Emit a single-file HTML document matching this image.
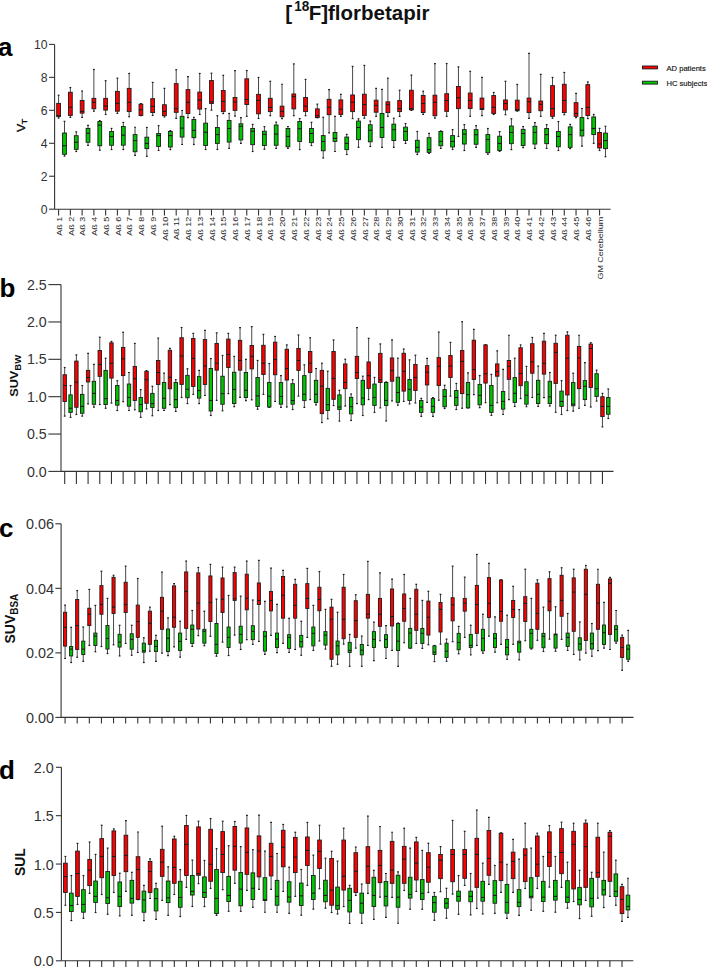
<!DOCTYPE html>
<html><head><meta charset="utf-8"><style>
html,body{margin:0;padding:0;background:#fff;}
body{width:707px;height:967px;overflow:hidden;}
svg{display:block;}
text{font-family:"Liberation Sans",sans-serif;}
.ax{stroke:#333333;stroke-width:1.1;}
.w{stroke:#333333;stroke-width:0.9;}
.cap{stroke:#1a1a1a;stroke-width:1.2;}
.bx{stroke:#1a1a1a;stroke-width:0.9;}
.md{stroke:#1a1a1a;stroke-width:1.1;}
.tl{fill:#333333;}
.xl{fill:#1e1e1e;}
.pl{font-weight:bold;fill:#000;}
.yl{font-weight:bold;fill:#111;}
</style></head><body>
<svg width="707" height="967" viewBox="0 0 707 967">
<text x="285.3" y="20.3" font-size="20.5" font-weight="bold" fill="#111">[</text>
<text transform="translate(294.2,11) scale(1,1.13)" font-size="13.6" font-weight="bold" fill="#111">18</text>
<text x="308.7" y="20.3" font-size="20.5" font-weight="bold" fill="#111">F]florbetapir</text>
<text x="-1.9" y="56" font-size="26" class="pl">a</text>
<text x="-0.4" y="296.6" font-size="26" class="pl">b</text>
<text x="-1" y="537.2" font-size="26" class="pl">c</text>
<text x="-1" y="778.5" font-size="26" class="pl">d</text>
<text transform="translate(24.8,125.4) rotate(-90) scale(1,0.88)" font-size="12.3" text-anchor="middle" fill="#111" stroke="#111" stroke-width="0.4">V<tspan font-size="9" dy="2.8" dx="-0.6">T</tspan></text>
<text transform="translate(18.4,375.8) rotate(-90) scale(1.06,0.92)" font-size="12" text-anchor="middle" class="yl">SUV<tspan font-size="9" dy="3">BW</tspan></text>
<text transform="translate(15.3,618.6) rotate(-90)" font-size="14" text-anchor="middle" class="yl">SUV<tspan font-size="10" dy="3">BSA</tspan></text>
<text transform="translate(24.9,862.2) rotate(-90) scale(0.95,1)" font-size="14.6" text-anchor="middle" class="yl">SUL</text>
<rect x="642.5" y="66" width="15" height="2.9" fill="#ff0000" stroke="#1a1a1a" stroke-width="0.9"/>
<rect x="642.5" y="81.2" width="15" height="2.9" fill="#00c800" stroke="#1a1a1a" stroke-width="0.9"/>
<text x="666.5" y="70.6" font-size="7.6" fill="#111" stroke="#111" stroke-width="0.15">AD patients</text>
<text x="666.5" y="85.6" font-size="7.6" fill="#111" stroke="#111" stroke-width="0.15">HC subjects</text>
<line x1="54.6" y1="44.4" x2="54.6" y2="209.2" class="ax"/>
<line x1="54.6" y1="209.2" x2="610.6" y2="209.2" class="ax"/>
<line x1="49.1" y1="44.4" x2="54.6" y2="44.4" class="ax"/>
<text transform="translate(47.6,49.1) scale(1,1.07)" font-size="12.2" text-anchor="end" class="tl">10</text>
<line x1="49.1" y1="77.36" x2="54.6" y2="77.36" class="ax"/>
<text transform="translate(47.6,82.06) scale(1,1.07)" font-size="12.2" text-anchor="end" class="tl">8</text>
<line x1="49.1" y1="110.32" x2="54.6" y2="110.32" class="ax"/>
<text transform="translate(47.6,115.02) scale(1,1.07)" font-size="12.2" text-anchor="end" class="tl">6</text>
<line x1="49.1" y1="143.28" x2="54.6" y2="143.28" class="ax"/>
<text transform="translate(47.6,147.98) scale(1,1.07)" font-size="12.2" text-anchor="end" class="tl">4</text>
<line x1="49.1" y1="176.24" x2="54.6" y2="176.24" class="ax"/>
<text transform="translate(47.6,180.94) scale(1,1.07)" font-size="12.2" text-anchor="end" class="tl">2</text>
<line x1="49.1" y1="209.2" x2="54.6" y2="209.2" class="ax"/>
<text transform="translate(47.6,213.9) scale(1,1.07)" font-size="12.2" text-anchor="end" class="tl">0</text>
<line x1="58.6" y1="209.2" x2="58.6" y2="215.5" class="ax"/>
<text transform="translate(61.8,216.7) rotate(-90) scale(1,0.86)" font-size="9" text-anchor="end" class="xl">Aß 1</text>
<line x1="70.36" y1="209.2" x2="70.36" y2="215.5" class="ax"/>
<text transform="translate(73.56,216.7) rotate(-90) scale(1,0.86)" font-size="9" text-anchor="end" class="xl">Aß 2</text>
<line x1="82.12" y1="209.2" x2="82.12" y2="215.5" class="ax"/>
<text transform="translate(85.32,216.7) rotate(-90) scale(1,0.86)" font-size="9" text-anchor="end" class="xl">Aß 3</text>
<line x1="93.88" y1="209.2" x2="93.88" y2="215.5" class="ax"/>
<text transform="translate(97.08,216.7) rotate(-90) scale(1,0.86)" font-size="9" text-anchor="end" class="xl">Aß 4</text>
<line x1="105.64" y1="209.2" x2="105.64" y2="215.5" class="ax"/>
<text transform="translate(108.84,216.7) rotate(-90) scale(1,0.86)" font-size="9" text-anchor="end" class="xl">Aß 5</text>
<line x1="117.4" y1="209.2" x2="117.4" y2="215.5" class="ax"/>
<text transform="translate(120.6,216.7) rotate(-90) scale(1,0.86)" font-size="9" text-anchor="end" class="xl">Aß 6</text>
<line x1="129.16" y1="209.2" x2="129.16" y2="215.5" class="ax"/>
<text transform="translate(132.36,216.7) rotate(-90) scale(1,0.86)" font-size="9" text-anchor="end" class="xl">Aß 7</text>
<line x1="140.92" y1="209.2" x2="140.92" y2="215.5" class="ax"/>
<text transform="translate(144.12,216.7) rotate(-90) scale(1,0.86)" font-size="9" text-anchor="end" class="xl">Aß 8</text>
<line x1="152.68" y1="209.2" x2="152.68" y2="215.5" class="ax"/>
<text transform="translate(155.88,216.7) rotate(-90) scale(1,0.86)" font-size="9" text-anchor="end" class="xl">Aß 9</text>
<line x1="164.44" y1="209.2" x2="164.44" y2="215.5" class="ax"/>
<text transform="translate(167.64,216.7) rotate(-90) scale(1,0.86)" font-size="9" text-anchor="end" class="xl">Aß 10</text>
<line x1="176.2" y1="209.2" x2="176.2" y2="215.5" class="ax"/>
<text transform="translate(179.4,216.7) rotate(-90) scale(1,0.86)" font-size="9" text-anchor="end" class="xl">Aß 11</text>
<line x1="187.96" y1="209.2" x2="187.96" y2="215.5" class="ax"/>
<text transform="translate(191.16,216.7) rotate(-90) scale(1,0.86)" font-size="9" text-anchor="end" class="xl">Aß 12</text>
<line x1="199.72" y1="209.2" x2="199.72" y2="215.5" class="ax"/>
<text transform="translate(202.92,216.7) rotate(-90) scale(1,0.86)" font-size="9" text-anchor="end" class="xl">Aß 13</text>
<line x1="211.48" y1="209.2" x2="211.48" y2="215.5" class="ax"/>
<text transform="translate(214.68,216.7) rotate(-90) scale(1,0.86)" font-size="9" text-anchor="end" class="xl">Aß 14</text>
<line x1="223.24" y1="209.2" x2="223.24" y2="215.5" class="ax"/>
<text transform="translate(226.44,216.7) rotate(-90) scale(1,0.86)" font-size="9" text-anchor="end" class="xl">Aß 15</text>
<line x1="235" y1="209.2" x2="235" y2="215.5" class="ax"/>
<text transform="translate(238.2,216.7) rotate(-90) scale(1,0.86)" font-size="9" text-anchor="end" class="xl">Aß 16</text>
<line x1="246.76" y1="209.2" x2="246.76" y2="215.5" class="ax"/>
<text transform="translate(249.96,216.7) rotate(-90) scale(1,0.86)" font-size="9" text-anchor="end" class="xl">Aß 17</text>
<line x1="258.52" y1="209.2" x2="258.52" y2="215.5" class="ax"/>
<text transform="translate(261.72,216.7) rotate(-90) scale(1,0.86)" font-size="9" text-anchor="end" class="xl">Aß 18</text>
<line x1="270.28" y1="209.2" x2="270.28" y2="215.5" class="ax"/>
<text transform="translate(273.48,216.7) rotate(-90) scale(1,0.86)" font-size="9" text-anchor="end" class="xl">Aß 19</text>
<line x1="282.04" y1="209.2" x2="282.04" y2="215.5" class="ax"/>
<text transform="translate(285.24,216.7) rotate(-90) scale(1,0.86)" font-size="9" text-anchor="end" class="xl">Aß 20</text>
<line x1="293.8" y1="209.2" x2="293.8" y2="215.5" class="ax"/>
<text transform="translate(297,216.7) rotate(-90) scale(1,0.86)" font-size="9" text-anchor="end" class="xl">Aß 21</text>
<line x1="305.56" y1="209.2" x2="305.56" y2="215.5" class="ax"/>
<text transform="translate(308.76,216.7) rotate(-90) scale(1,0.86)" font-size="9" text-anchor="end" class="xl">Aß 22</text>
<line x1="317.32" y1="209.2" x2="317.32" y2="215.5" class="ax"/>
<text transform="translate(320.52,216.7) rotate(-90) scale(1,0.86)" font-size="9" text-anchor="end" class="xl">Aß 23</text>
<line x1="329.08" y1="209.2" x2="329.08" y2="215.5" class="ax"/>
<text transform="translate(332.28,216.7) rotate(-90) scale(1,0.86)" font-size="9" text-anchor="end" class="xl">Aß 24</text>
<line x1="340.84" y1="209.2" x2="340.84" y2="215.5" class="ax"/>
<text transform="translate(344.04,216.7) rotate(-90) scale(1,0.86)" font-size="9" text-anchor="end" class="xl">Aß 25</text>
<line x1="352.6" y1="209.2" x2="352.6" y2="215.5" class="ax"/>
<text transform="translate(355.8,216.7) rotate(-90) scale(1,0.86)" font-size="9" text-anchor="end" class="xl">Aß 26</text>
<line x1="364.36" y1="209.2" x2="364.36" y2="215.5" class="ax"/>
<text transform="translate(367.56,216.7) rotate(-90) scale(1,0.86)" font-size="9" text-anchor="end" class="xl">Aß 27</text>
<line x1="376.12" y1="209.2" x2="376.12" y2="215.5" class="ax"/>
<text transform="translate(379.32,216.7) rotate(-90) scale(1,0.86)" font-size="9" text-anchor="end" class="xl">Aß 28</text>
<line x1="387.88" y1="209.2" x2="387.88" y2="215.5" class="ax"/>
<text transform="translate(391.08,216.7) rotate(-90) scale(1,0.86)" font-size="9" text-anchor="end" class="xl">Aß 29</text>
<line x1="399.64" y1="209.2" x2="399.64" y2="215.5" class="ax"/>
<text transform="translate(402.84,216.7) rotate(-90) scale(1,0.86)" font-size="9" text-anchor="end" class="xl">Aß 30</text>
<line x1="411.4" y1="209.2" x2="411.4" y2="215.5" class="ax"/>
<text transform="translate(414.6,216.7) rotate(-90) scale(1,0.86)" font-size="9" text-anchor="end" class="xl">Aß 31</text>
<line x1="423.16" y1="209.2" x2="423.16" y2="215.5" class="ax"/>
<text transform="translate(426.36,216.7) rotate(-90) scale(1,0.86)" font-size="9" text-anchor="end" class="xl">Aß 32</text>
<line x1="434.92" y1="209.2" x2="434.92" y2="215.5" class="ax"/>
<text transform="translate(438.12,216.7) rotate(-90) scale(1,0.86)" font-size="9" text-anchor="end" class="xl">Aß 33</text>
<line x1="446.68" y1="209.2" x2="446.68" y2="215.5" class="ax"/>
<text transform="translate(449.88,216.7) rotate(-90) scale(1,0.86)" font-size="9" text-anchor="end" class="xl">Aß 34</text>
<line x1="458.44" y1="209.2" x2="458.44" y2="215.5" class="ax"/>
<text transform="translate(461.64,216.7) rotate(-90) scale(1,0.86)" font-size="9" text-anchor="end" class="xl">Aß 35</text>
<line x1="470.2" y1="209.2" x2="470.2" y2="215.5" class="ax"/>
<text transform="translate(473.4,216.7) rotate(-90) scale(1,0.86)" font-size="9" text-anchor="end" class="xl">Aß 36</text>
<line x1="481.96" y1="209.2" x2="481.96" y2="215.5" class="ax"/>
<text transform="translate(485.16,216.7) rotate(-90) scale(1,0.86)" font-size="9" text-anchor="end" class="xl">Aß 37</text>
<line x1="493.72" y1="209.2" x2="493.72" y2="215.5" class="ax"/>
<text transform="translate(496.92,216.7) rotate(-90) scale(1,0.86)" font-size="9" text-anchor="end" class="xl">Aß 38</text>
<line x1="505.48" y1="209.2" x2="505.48" y2="215.5" class="ax"/>
<text transform="translate(508.68,216.7) rotate(-90) scale(1,0.86)" font-size="9" text-anchor="end" class="xl">Aß 39</text>
<line x1="517.24" y1="209.2" x2="517.24" y2="215.5" class="ax"/>
<text transform="translate(520.44,216.7) rotate(-90) scale(1,0.86)" font-size="9" text-anchor="end" class="xl">Aß 40</text>
<line x1="529" y1="209.2" x2="529" y2="215.5" class="ax"/>
<text transform="translate(532.2,216.7) rotate(-90) scale(1,0.86)" font-size="9" text-anchor="end" class="xl">Aß 41</text>
<line x1="540.76" y1="209.2" x2="540.76" y2="215.5" class="ax"/>
<text transform="translate(543.96,216.7) rotate(-90) scale(1,0.86)" font-size="9" text-anchor="end" class="xl">Aß 42</text>
<line x1="552.52" y1="209.2" x2="552.52" y2="215.5" class="ax"/>
<text transform="translate(555.72,216.7) rotate(-90) scale(1,0.86)" font-size="9" text-anchor="end" class="xl">Aß 43</text>
<line x1="564.28" y1="209.2" x2="564.28" y2="215.5" class="ax"/>
<text transform="translate(567.48,216.7) rotate(-90) scale(1,0.86)" font-size="9" text-anchor="end" class="xl">Aß 44</text>
<line x1="576.04" y1="209.2" x2="576.04" y2="215.5" class="ax"/>
<text transform="translate(579.24,216.7) rotate(-90) scale(1,0.86)" font-size="9" text-anchor="end" class="xl">Aß 45</text>
<line x1="587.8" y1="209.2" x2="587.8" y2="215.5" class="ax"/>
<text transform="translate(591,216.7) rotate(-90) scale(1,0.86)" font-size="9" text-anchor="end" class="xl">Aß 46</text>
<line x1="599.56" y1="209.2" x2="599.56" y2="215.5" class="ax"/>
<text transform="translate(602.76,216.7) rotate(-90) scale(1,0.86)" font-size="9" text-anchor="end" class="xl">GM Cerebellum</text>
<line x1="58.6" y1="95.19" x2="58.6" y2="103.36" class="w"/><line x1="58.6" y1="116.64" x2="58.6" y2="118.06" class="w"/><line x1="57.7" y1="95.19" x2="59.5" y2="95.19" class="cap"/><line x1="57.7" y1="118.06" x2="59.5" y2="118.06" class="cap"/><rect x="56.7" y="103.36" width="3.8" height="13.29" fill="#ff0000" class="bx"/><line x1="56.7" y1="115.56" x2="60.5" y2="115.56" class="md"/>
<line x1="64.5" y1="121.33" x2="64.5" y2="132.98" class="w"/><line x1="64.5" y1="154.34" x2="64.5" y2="156.08" class="w"/><line x1="63.6" y1="121.33" x2="65.4" y2="121.33" class="cap"/><line x1="63.6" y1="156.08" x2="65.4" y2="156.08" class="cap"/><rect x="62.6" y="132.98" width="3.8" height="21.35" fill="#00c800" class="bx"/><line x1="62.6" y1="145.73" x2="66.4" y2="145.73" class="md"/>
<line x1="70.36" y1="87.56" x2="70.36" y2="92.24" class="w"/><line x1="70.36" y1="115.56" x2="70.36" y2="117.41" class="w"/><line x1="69.46" y1="87.56" x2="71.26" y2="87.56" class="cap"/><line x1="69.46" y1="117.41" x2="71.26" y2="117.41" class="cap"/><rect x="68.46" y="92.24" width="3.8" height="23.31" fill="#ff0000" class="bx"/><line x1="68.46" y1="107.28" x2="72.26" y2="107.28" class="md"/>
<line x1="76.26" y1="131.9" x2="76.26" y2="135.71" class="w"/><line x1="76.26" y1="149.32" x2="76.26" y2="151.5" class="w"/><line x1="75.36" y1="131.9" x2="77.16" y2="131.9" class="cap"/><line x1="75.36" y1="151.5" x2="77.16" y2="151.5" class="cap"/><rect x="74.36" y="135.71" width="3.8" height="13.62" fill="#00c800" class="bx"/><line x1="74.36" y1="142.24" x2="78.16" y2="142.24" class="md"/>
<line x1="82.12" y1="91.05" x2="82.12" y2="100.52" class="w"/><line x1="82.12" y1="113.16" x2="82.12" y2="117.41" class="w"/><line x1="81.22" y1="91.05" x2="83.02" y2="91.05" class="cap"/><line x1="81.22" y1="117.41" x2="83.02" y2="117.41" class="cap"/><rect x="80.22" y="100.52" width="3.8" height="12.64" fill="#ff0000" class="bx"/><line x1="80.22" y1="111.42" x2="84.02" y2="111.42" class="md"/>
<line x1="88.02" y1="125.36" x2="88.02" y2="128.41" class="w"/><line x1="88.02" y1="142.24" x2="88.02" y2="145.29" class="w"/><line x1="87.12" y1="125.36" x2="88.92" y2="125.36" class="cap"/><line x1="87.12" y1="145.29" x2="88.92" y2="145.29" class="cap"/><rect x="86.12" y="128.41" width="3.8" height="13.83" fill="#00c800" class="bx"/><line x1="86.12" y1="133.2" x2="89.92" y2="133.2" class="md"/>
<line x1="93.88" y1="69.48" x2="93.88" y2="98.34" class="w"/><line x1="93.88" y1="108.8" x2="93.88" y2="111.2" class="w"/><line x1="92.98" y1="69.48" x2="94.78" y2="69.48" class="cap"/><line x1="92.98" y1="111.2" x2="94.78" y2="111.2" class="cap"/><rect x="91.98" y="98.34" width="3.8" height="10.46" fill="#ff0000" class="bx"/><line x1="91.98" y1="102.27" x2="95.78" y2="102.27" class="md"/>
<line x1="99.78" y1="120.68" x2="99.78" y2="121.55" class="w"/><line x1="99.78" y1="145.73" x2="99.78" y2="150.2" class="w"/><line x1="98.88" y1="120.68" x2="100.68" y2="120.68" class="cap"/><line x1="98.88" y1="150.2" x2="100.68" y2="150.2" class="cap"/><rect x="97.88" y="121.55" width="3.8" height="24.18" fill="#00c800" class="bx"/><line x1="97.88" y1="125.14" x2="101.68" y2="125.14" class="md"/>
<line x1="105.64" y1="80.7" x2="105.64" y2="98.34" class="w"/><line x1="105.64" y1="110.11" x2="105.64" y2="114.47" class="w"/><line x1="104.74" y1="80.7" x2="106.54" y2="80.7" class="cap"/><line x1="104.74" y1="114.47" x2="106.54" y2="114.47" class="cap"/><rect x="103.74" y="98.34" width="3.8" height="11.76" fill="#ff0000" class="bx"/><line x1="103.74" y1="106.08" x2="107.54" y2="106.08" class="md"/>
<line x1="111.54" y1="128.41" x2="111.54" y2="131.46" class="w"/><line x1="111.54" y1="145.29" x2="111.54" y2="149.54" class="w"/><line x1="110.64" y1="128.41" x2="112.44" y2="128.41" class="cap"/><line x1="110.64" y1="149.54" x2="112.44" y2="149.54" class="cap"/><rect x="109.64" y="131.46" width="3.8" height="13.83" fill="#00c800" class="bx"/><line x1="109.64" y1="136.58" x2="113.44" y2="136.58" class="md"/>
<line x1="117.4" y1="78.19" x2="117.4" y2="91.37" class="w"/><line x1="117.4" y1="111.2" x2="117.4" y2="113.38" class="w"/><line x1="116.5" y1="78.19" x2="118.3" y2="78.19" class="cap"/><line x1="116.5" y1="113.38" x2="118.3" y2="113.38" class="cap"/><rect x="115.5" y="91.37" width="3.8" height="19.83" fill="#ff0000" class="bx"/><line x1="115.5" y1="103.36" x2="119.3" y2="103.36" class="md"/>
<line x1="123.3" y1="122.42" x2="123.3" y2="126.45" class="w"/><line x1="123.3" y1="145.19" x2="123.3" y2="149.54" class="w"/><line x1="122.4" y1="122.42" x2="124.2" y2="122.42" class="cap"/><line x1="122.4" y1="149.54" x2="124.2" y2="149.54" class="cap"/><rect x="121.4" y="126.45" width="3.8" height="18.74" fill="#00c800" class="bx"/><line x1="121.4" y1="135.16" x2="125.2" y2="135.16" class="md"/>
<line x1="129.16" y1="73.47" x2="129.16" y2="88.37" class="w"/><line x1="129.16" y1="111.6" x2="129.16" y2="116.7" class="w"/><line x1="128.26" y1="73.47" x2="130.06" y2="73.47" class="cap"/><line x1="128.26" y1="116.7" x2="130.06" y2="116.7" class="cap"/><rect x="127.26" y="88.37" width="3.8" height="23.23" fill="#ff0000" class="bx"/><line x1="127.26" y1="102.29" x2="131.06" y2="102.29" class="md"/>
<line x1="135.06" y1="127.25" x2="135.06" y2="134.58" class="w"/><line x1="135.06" y1="151.73" x2="135.06" y2="155.45" class="w"/><line x1="134.16" y1="127.25" x2="135.96" y2="127.25" class="cap"/><line x1="134.16" y1="155.45" x2="135.96" y2="155.45" class="cap"/><rect x="133.16" y="134.58" width="3.8" height="17.14" fill="#00c800" class="bx"/><line x1="133.16" y1="140.55" x2="136.96" y2="140.55" class="md"/>
<line x1="140.92" y1="103.53" x2="140.92" y2="104.15" class="w"/><line x1="140.92" y1="115.45" x2="140.92" y2="115.7" class="w"/><line x1="140.02" y1="103.53" x2="141.82" y2="103.53" class="cap"/><line x1="140.02" y1="115.7" x2="141.82" y2="115.7" class="cap"/><rect x="139.02" y="104.15" width="3.8" height="11.3" fill="#ff0000" class="bx"/><line x1="139.02" y1="109.74" x2="142.82" y2="109.74" class="md"/>
<line x1="146.82" y1="127.5" x2="146.82" y2="137.19" class="w"/><line x1="146.82" y1="148.62" x2="146.82" y2="156.32" class="w"/><line x1="145.92" y1="127.5" x2="147.72" y2="127.5" class="cap"/><line x1="145.92" y1="156.32" x2="147.72" y2="156.32" class="cap"/><rect x="144.92" y="137.19" width="3.8" height="11.43" fill="#00c800" class="bx"/><line x1="144.92" y1="143.4" x2="148.72" y2="143.4" class="md"/>
<line x1="152.68" y1="82.41" x2="152.68" y2="98.68" class="w"/><line x1="152.68" y1="112.6" x2="152.68" y2="115.45" class="w"/><line x1="151.78" y1="82.41" x2="153.58" y2="82.41" class="cap"/><line x1="151.78" y1="115.45" x2="153.58" y2="115.45" class="cap"/><rect x="150.78" y="98.68" width="3.8" height="13.91" fill="#ff0000" class="bx"/><line x1="150.78" y1="106.39" x2="154.58" y2="106.39" class="md"/>
<line x1="158.58" y1="125.64" x2="158.58" y2="133.47" class="w"/><line x1="158.58" y1="146.51" x2="158.58" y2="150.48" class="w"/><line x1="157.68" y1="125.64" x2="159.48" y2="125.64" class="cap"/><line x1="157.68" y1="150.48" x2="159.48" y2="150.48" class="cap"/><rect x="156.68" y="133.47" width="3.8" height="13.04" fill="#00c800" class="bx"/><line x1="156.68" y1="135.58" x2="160.48" y2="135.58" class="md"/>
<line x1="164.44" y1="88.37" x2="164.44" y2="104.77" class="w"/><line x1="164.44" y1="115.7" x2="164.44" y2="116.94" class="w"/><line x1="163.54" y1="88.37" x2="165.34" y2="88.37" class="cap"/><line x1="163.54" y1="116.94" x2="165.34" y2="116.94" class="cap"/><rect x="162.54" y="104.77" width="3.8" height="10.93" fill="#ff0000" class="bx"/><line x1="162.54" y1="111.35" x2="166.34" y2="111.35" class="md"/>
<line x1="170.34" y1="130.61" x2="170.34" y2="131.48" class="w"/><line x1="170.34" y1="147.01" x2="170.34" y2="149.61" class="w"/><line x1="169.44" y1="130.61" x2="171.24" y2="130.61" class="cap"/><line x1="169.44" y1="149.61" x2="171.24" y2="149.61" class="cap"/><rect x="168.44" y="131.48" width="3.8" height="15.53" fill="#00c800" class="bx"/><line x1="168.44" y1="135.58" x2="172.24" y2="135.58" class="md"/>
<line x1="176.2" y1="69.74" x2="176.2" y2="83.65" class="w"/><line x1="176.2" y1="112.35" x2="176.2" y2="118.43" class="w"/><line x1="175.3" y1="69.74" x2="177.1" y2="69.74" class="cap"/><line x1="175.3" y1="118.43" x2="177.1" y2="118.43" class="cap"/><rect x="174.3" y="83.65" width="3.8" height="28.7" fill="#ff0000" class="bx"/><line x1="174.3" y1="108.62" x2="178.1" y2="108.62" class="md"/>
<line x1="182.1" y1="110.48" x2="182.1" y2="116.32" class="w"/><line x1="182.1" y1="137.07" x2="182.1" y2="144.52" class="w"/><line x1="181.2" y1="110.48" x2="183" y2="110.48" class="cap"/><line x1="181.2" y1="144.52" x2="183" y2="144.52" class="cap"/><rect x="180.2" y="116.32" width="3.8" height="20.75" fill="#00c800" class="bx"/><line x1="180.2" y1="128.12" x2="184" y2="128.12" class="md"/>
<line x1="187.96" y1="76.57" x2="187.96" y2="89.61" class="w"/><line x1="187.96" y1="113.47" x2="187.96" y2="117.57" class="w"/><line x1="187.06" y1="76.57" x2="188.86" y2="76.57" class="cap"/><line x1="187.06" y1="117.57" x2="188.86" y2="117.57" class="cap"/><rect x="186.06" y="89.61" width="3.8" height="23.85" fill="#ff0000" class="bx"/><line x1="186.06" y1="102.29" x2="189.86" y2="102.29" class="md"/>
<line x1="193.86" y1="117.32" x2="193.86" y2="119.43" class="w"/><line x1="193.86" y1="137.69" x2="193.86" y2="144.52" class="w"/><line x1="192.96" y1="117.32" x2="194.76" y2="117.32" class="cap"/><line x1="192.96" y1="144.52" x2="194.76" y2="144.52" class="cap"/><rect x="191.96" y="119.43" width="3.8" height="18.26" fill="#00c800" class="bx"/><line x1="191.96" y1="130.36" x2="195.76" y2="130.36" class="md"/>
<line x1="199.72" y1="73.47" x2="199.72" y2="92.1" class="w"/><line x1="199.72" y1="109.12" x2="199.72" y2="114.46" class="w"/><line x1="198.82" y1="73.47" x2="200.62" y2="73.47" class="cap"/><line x1="198.82" y1="114.46" x2="200.62" y2="114.46" class="cap"/><rect x="197.82" y="92.1" width="3.8" height="17.02" fill="#ff0000" class="bx"/><line x1="197.82" y1="100.17" x2="201.62" y2="100.17" class="md"/>
<line x1="205.62" y1="108.62" x2="205.62" y2="123.16" class="w"/><line x1="205.62" y1="145.52" x2="205.62" y2="149.49" class="w"/><line x1="204.72" y1="108.62" x2="206.52" y2="108.62" class="cap"/><line x1="204.72" y1="149.49" x2="206.52" y2="149.49" class="cap"/><rect x="203.72" y="123.16" width="3.8" height="22.36" fill="#00c800" class="bx"/><line x1="203.72" y1="132.22" x2="207.52" y2="132.22" class="md"/>
<line x1="211.48" y1="73.22" x2="211.48" y2="80.55" class="w"/><line x1="211.48" y1="103.53" x2="211.48" y2="110.11" class="w"/><line x1="210.58" y1="73.22" x2="212.38" y2="73.22" class="cap"/><line x1="210.58" y1="110.11" x2="212.38" y2="110.11" class="cap"/><rect x="209.58" y="80.55" width="3.8" height="22.98" fill="#ff0000" class="bx"/><line x1="209.58" y1="101.79" x2="213.38" y2="101.79" class="md"/>
<line x1="217.38" y1="115.7" x2="217.38" y2="127.5" class="w"/><line x1="217.38" y1="143.4" x2="217.38" y2="149.49" class="w"/><line x1="216.48" y1="115.7" x2="218.28" y2="115.7" class="cap"/><line x1="216.48" y1="149.49" x2="218.28" y2="149.49" class="cap"/><rect x="215.48" y="127.5" width="3.8" height="15.9" fill="#00c800" class="bx"/><line x1="215.48" y1="134.58" x2="219.28" y2="134.58" class="md"/>
<line x1="223.24" y1="75.33" x2="223.24" y2="90.48" class="w"/><line x1="223.24" y1="111.6" x2="223.24" y2="113.59" class="w"/><line x1="222.34" y1="75.33" x2="224.14" y2="75.33" class="cap"/><line x1="222.34" y1="113.59" x2="224.14" y2="113.59" class="cap"/><rect x="221.34" y="90.48" width="3.8" height="21.12" fill="#ff0000" class="bx"/><line x1="221.34" y1="101.42" x2="225.14" y2="101.42" class="md"/>
<line x1="229.14" y1="113.47" x2="229.14" y2="120.42" class="w"/><line x1="229.14" y1="142.04" x2="229.14" y2="148.37" class="w"/><line x1="228.24" y1="113.47" x2="230.04" y2="113.47" class="cap"/><line x1="228.24" y1="148.37" x2="230.04" y2="148.37" class="cap"/><rect x="227.24" y="120.42" width="3.8" height="21.61" fill="#00c800" class="bx"/><line x1="227.24" y1="128.5" x2="231.04" y2="128.5" class="md"/>
<line x1="235" y1="70.61" x2="235" y2="97.44" class="w"/><line x1="235" y1="110.36" x2="235" y2="116.07" class="w"/><line x1="234.1" y1="70.61" x2="235.9" y2="70.61" class="cap"/><line x1="234.1" y1="116.07" x2="235.9" y2="116.07" class="cap"/><rect x="233.1" y="97.44" width="3.8" height="12.92" fill="#ff0000" class="bx"/><line x1="233.1" y1="102.04" x2="236.9" y2="102.04" class="md"/>
<line x1="240.9" y1="117.57" x2="240.9" y2="123.78" class="w"/><line x1="240.9" y1="139.93" x2="240.9" y2="143.4" class="w"/><line x1="240" y1="117.57" x2="241.8" y2="117.57" class="cap"/><line x1="240" y1="143.4" x2="241.8" y2="143.4" class="cap"/><rect x="239" y="123.78" width="3.8" height="16.15" fill="#00c800" class="bx"/><line x1="239" y1="126.26" x2="242.8" y2="126.26" class="md"/>
<line x1="246.76" y1="70.61" x2="246.76" y2="78.81" class="w"/><line x1="246.76" y1="104.52" x2="246.76" y2="116.32" class="w"/><line x1="245.86" y1="70.61" x2="247.66" y2="70.61" class="cap"/><line x1="245.86" y1="116.32" x2="247.66" y2="116.32" class="cap"/><rect x="244.86" y="78.81" width="3.8" height="25.71" fill="#ff0000" class="bx"/><line x1="244.86" y1="99.55" x2="248.66" y2="99.55" class="md"/>
<line x1="252.66" y1="124.4" x2="252.66" y2="128.5" class="w"/><line x1="252.66" y1="144.65" x2="252.66" y2="151.48" class="w"/><line x1="251.76" y1="124.4" x2="253.56" y2="124.4" class="cap"/><line x1="251.76" y1="151.48" x2="253.56" y2="151.48" class="cap"/><rect x="250.76" y="128.5" width="3.8" height="16.15" fill="#00c800" class="bx"/><line x1="250.76" y1="131.23" x2="254.56" y2="131.23" class="md"/>
<line x1="258.52" y1="77.44" x2="258.52" y2="94.34" class="w"/><line x1="258.52" y1="113.84" x2="258.52" y2="118.43" class="w"/><line x1="257.62" y1="77.44" x2="259.42" y2="77.44" class="cap"/><line x1="257.62" y1="118.43" x2="259.42" y2="118.43" class="cap"/><rect x="256.62" y="94.34" width="3.8" height="19.5" fill="#ff0000" class="bx"/><line x1="256.62" y1="100.42" x2="260.42" y2="100.42" class="md"/>
<line x1="264.42" y1="126.63" x2="264.42" y2="131.23" class="w"/><line x1="264.42" y1="145.52" x2="264.42" y2="149.24" class="w"/><line x1="263.52" y1="126.63" x2="265.32" y2="126.63" class="cap"/><line x1="263.52" y1="149.24" x2="265.32" y2="149.24" class="cap"/><rect x="262.52" y="131.23" width="3.8" height="14.29" fill="#00c800" class="bx"/><line x1="262.52" y1="134.34" x2="266.32" y2="134.34" class="md"/>
<line x1="270.28" y1="81.29" x2="270.28" y2="98.31" class="w"/><line x1="270.28" y1="111.6" x2="270.28" y2="115.7" class="w"/><line x1="269.38" y1="81.29" x2="271.18" y2="81.29" class="cap"/><line x1="269.38" y1="115.7" x2="271.18" y2="115.7" class="cap"/><rect x="268.38" y="98.31" width="3.8" height="13.29" fill="#ff0000" class="bx"/><line x1="268.38" y1="107.38" x2="272.18" y2="107.38" class="md"/>
<line x1="276.18" y1="122.16" x2="276.18" y2="125.02" class="w"/><line x1="276.18" y1="145.27" x2="276.18" y2="148.37" class="w"/><line x1="275.28" y1="122.16" x2="277.08" y2="122.16" class="cap"/><line x1="275.28" y1="148.37" x2="277.08" y2="148.37" class="cap"/><rect x="274.28" y="125.02" width="3.8" height="20.25" fill="#00c800" class="bx"/><line x1="274.28" y1="134.09" x2="278.08" y2="134.09" class="md"/>
<line x1="282.04" y1="84.27" x2="282.04" y2="106.14" class="w"/><line x1="282.04" y1="116.7" x2="282.04" y2="118.56" class="w"/><line x1="281.14" y1="84.27" x2="282.94" y2="84.27" class="cap"/><line x1="281.14" y1="118.56" x2="282.94" y2="118.56" class="cap"/><rect x="280.14" y="106.14" width="3.8" height="10.56" fill="#ff0000" class="bx"/><line x1="280.14" y1="111.35" x2="283.94" y2="111.35" class="md"/>
<line x1="287.94" y1="126.51" x2="287.94" y2="128.5" class="w"/><line x1="287.94" y1="146.76" x2="287.94" y2="148.37" class="w"/><line x1="287.04" y1="126.51" x2="288.84" y2="126.51" class="cap"/><line x1="287.04" y1="148.37" x2="288.84" y2="148.37" class="cap"/><rect x="286.04" y="128.5" width="3.8" height="18.26" fill="#00c800" class="bx"/><line x1="286.04" y1="136.45" x2="289.84" y2="136.45" class="md"/>
<line x1="293.8" y1="63.9" x2="293.8" y2="93.96" class="w"/><line x1="293.8" y1="108.87" x2="293.8" y2="115.7" class="w"/><line x1="292.9" y1="63.9" x2="294.7" y2="63.9" class="cap"/><line x1="292.9" y1="115.7" x2="294.7" y2="115.7" class="cap"/><rect x="291.9" y="93.96" width="3.8" height="14.91" fill="#ff0000" class="bx"/><line x1="291.9" y1="96.45" x2="295.7" y2="96.45" class="md"/>
<line x1="299.7" y1="118.56" x2="299.7" y2="121.54" class="w"/><line x1="299.7" y1="141.42" x2="299.7" y2="149.61" class="w"/><line x1="298.8" y1="118.56" x2="300.6" y2="118.56" class="cap"/><line x1="298.8" y1="149.61" x2="300.6" y2="149.61" class="cap"/><rect x="297.8" y="121.54" width="3.8" height="19.88" fill="#00c800" class="bx"/><line x1="297.8" y1="128.75" x2="301.6" y2="128.75" class="md"/>
<line x1="305.56" y1="79.43" x2="305.56" y2="97.44" class="w"/><line x1="305.56" y1="111.6" x2="305.56" y2="115.7" class="w"/><line x1="304.66" y1="79.43" x2="306.46" y2="79.43" class="cap"/><line x1="304.66" y1="115.7" x2="306.46" y2="115.7" class="cap"/><rect x="303.66" y="97.44" width="3.8" height="14.16" fill="#ff0000" class="bx"/><line x1="303.66" y1="106.14" x2="307.46" y2="106.14" class="md"/>
<line x1="311.46" y1="122.29" x2="311.46" y2="128.5" class="w"/><line x1="311.46" y1="142.66" x2="311.46" y2="145.52" class="w"/><line x1="310.56" y1="122.29" x2="312.36" y2="122.29" class="cap"/><line x1="310.56" y1="145.52" x2="312.36" y2="145.52" class="cap"/><rect x="309.56" y="128.5" width="3.8" height="14.16" fill="#00c800" class="bx"/><line x1="309.56" y1="133.47" x2="313.36" y2="133.47" class="md"/>
<line x1="317.32" y1="104.15" x2="317.32" y2="108.87" class="w"/><line x1="317.32" y1="117.57" x2="317.32" y2="117.81" class="w"/><line x1="316.42" y1="104.15" x2="318.22" y2="104.15" class="cap"/><line x1="316.42" y1="117.81" x2="318.22" y2="117.81" class="cap"/><rect x="315.42" y="108.87" width="3.8" height="8.7" fill="#ff0000" class="bx"/><line x1="315.42" y1="115.7" x2="319.22" y2="115.7" class="md"/>
<line x1="323.22" y1="117.32" x2="323.22" y2="135.58" class="w"/><line x1="323.22" y1="150.73" x2="323.22" y2="157.94" class="w"/><line x1="322.32" y1="117.32" x2="324.12" y2="117.32" class="cap"/><line x1="322.32" y1="157.94" x2="324.12" y2="157.94" class="cap"/><rect x="321.32" y="135.58" width="3.8" height="15.16" fill="#00c800" class="bx"/><line x1="321.32" y1="141.42" x2="325.12" y2="141.42" class="md"/>
<line x1="329.08" y1="89.61" x2="329.08" y2="99.3" class="w"/><line x1="329.08" y1="114.71" x2="329.08" y2="132.84" class="w"/><line x1="328.18" y1="89.61" x2="329.98" y2="89.61" class="cap"/><line x1="328.18" y1="132.84" x2="329.98" y2="132.84" class="cap"/><rect x="327.18" y="99.3" width="3.8" height="15.4" fill="#ff0000" class="bx"/><line x1="327.18" y1="107.38" x2="330.98" y2="107.38" class="md"/>
<line x1="334.98" y1="116.32" x2="334.98" y2="132.47" class="w"/><line x1="334.98" y1="141.42" x2="334.98" y2="151.48" class="w"/><line x1="334.08" y1="116.32" x2="335.88" y2="116.32" class="cap"/><line x1="334.08" y1="151.48" x2="335.88" y2="151.48" class="cap"/><rect x="333.08" y="132.47" width="3.8" height="8.94" fill="#00c800" class="bx"/><line x1="333.08" y1="138.43" x2="336.88" y2="138.43" class="md"/>
<line x1="340.84" y1="94.34" x2="340.84" y2="99.93" class="w"/><line x1="340.84" y1="114.46" x2="340.84" y2="116.32" class="w"/><line x1="339.94" y1="94.34" x2="341.74" y2="94.34" class="cap"/><line x1="339.94" y1="116.32" x2="341.74" y2="116.32" class="cap"/><rect x="338.94" y="99.93" width="3.8" height="14.53" fill="#ff0000" class="bx"/><line x1="338.94" y1="109.24" x2="342.74" y2="109.24" class="md"/>
<line x1="346.74" y1="134.34" x2="346.74" y2="137.07" class="w"/><line x1="346.74" y1="149.61" x2="346.74" y2="154.46" class="w"/><line x1="345.84" y1="134.34" x2="347.64" y2="134.34" class="cap"/><line x1="345.84" y1="154.46" x2="347.64" y2="154.46" class="cap"/><rect x="344.84" y="137.07" width="3.8" height="12.55" fill="#00c800" class="bx"/><line x1="344.84" y1="143.4" x2="348.64" y2="143.4" class="md"/>
<line x1="352.6" y1="66.39" x2="352.6" y2="94.96" class="w"/><line x1="352.6" y1="111.6" x2="352.6" y2="118.56" class="w"/><line x1="351.7" y1="66.39" x2="353.5" y2="66.39" class="cap"/><line x1="351.7" y1="118.56" x2="353.5" y2="118.56" class="cap"/><rect x="350.7" y="94.96" width="3.8" height="16.65" fill="#ff0000" class="bx"/><line x1="350.7" y1="102.29" x2="354.5" y2="102.29" class="md"/>
<line x1="358.5" y1="118.81" x2="358.5" y2="121.04" class="w"/><line x1="358.5" y1="139.68" x2="358.5" y2="147.38" class="w"/><line x1="357.6" y1="118.81" x2="359.4" y2="118.81" class="cap"/><line x1="357.6" y1="147.38" x2="359.4" y2="147.38" class="cap"/><rect x="356.6" y="121.04" width="3.8" height="18.63" fill="#00c800" class="bx"/><line x1="356.6" y1="127.5" x2="360.4" y2="127.5" class="md"/>
<line x1="364.36" y1="65.39" x2="364.36" y2="94.21" class="w"/><line x1="364.36" y1="115.45" x2="364.36" y2="118.19" class="w"/><line x1="363.46" y1="65.39" x2="365.26" y2="65.39" class="cap"/><line x1="363.46" y1="118.19" x2="365.26" y2="118.19" class="cap"/><rect x="362.46" y="94.21" width="3.8" height="21.24" fill="#ff0000" class="bx"/><line x1="362.46" y1="104.52" x2="366.26" y2="104.52" class="md"/>
<line x1="370.26" y1="121.04" x2="370.26" y2="124.77" class="w"/><line x1="370.26" y1="141.79" x2="370.26" y2="146.51" class="w"/><line x1="369.36" y1="121.04" x2="371.16" y2="121.04" class="cap"/><line x1="369.36" y1="146.51" x2="371.16" y2="146.51" class="cap"/><rect x="368.36" y="124.77" width="3.8" height="17.02" fill="#00c800" class="bx"/><line x1="368.36" y1="130.24" x2="372.16" y2="130.24" class="md"/>
<line x1="376.12" y1="88.37" x2="376.12" y2="100.17" class="w"/><line x1="376.12" y1="112.22" x2="376.12" y2="116.32" class="w"/><line x1="375.22" y1="88.37" x2="377.02" y2="88.37" class="cap"/><line x1="375.22" y1="116.32" x2="377.02" y2="116.32" class="cap"/><rect x="374.22" y="100.17" width="3.8" height="12.05" fill="#ff0000" class="bx"/><line x1="374.22" y1="105.39" x2="378.02" y2="105.39" class="md"/>
<line x1="382.02" y1="89.37" x2="382.02" y2="113.47" class="w"/><line x1="382.02" y1="137.44" x2="382.02" y2="147.38" class="w"/><line x1="381.12" y1="89.37" x2="382.92" y2="89.37" class="cap"/><line x1="381.12" y1="147.38" x2="382.92" y2="147.38" class="cap"/><rect x="380.12" y="113.47" width="3.8" height="23.98" fill="#00c800" class="bx"/><line x1="380.12" y1="127.5" x2="383.92" y2="127.5" class="md"/>
<line x1="387.88" y1="78.19" x2="387.88" y2="101.79" class="w"/><line x1="387.88" y1="112.6" x2="387.88" y2="116.32" class="w"/><line x1="386.98" y1="78.19" x2="388.78" y2="78.19" class="cap"/><line x1="386.98" y1="116.32" x2="388.78" y2="116.32" class="cap"/><rect x="385.98" y="101.79" width="3.8" height="10.81" fill="#ff0000" class="bx"/><line x1="385.98" y1="104.77" x2="389.78" y2="104.77" class="md"/>
<line x1="393.78" y1="118.19" x2="393.78" y2="124.15" class="w"/><line x1="393.78" y1="140.55" x2="393.78" y2="147.38" class="w"/><line x1="392.88" y1="118.19" x2="394.68" y2="118.19" class="cap"/><line x1="392.88" y1="147.38" x2="394.68" y2="147.38" class="cap"/><rect x="391.88" y="124.15" width="3.8" height="16.4" fill="#00c800" class="bx"/><line x1="391.88" y1="129.61" x2="395.68" y2="129.61" class="md"/>
<line x1="399.64" y1="90.24" x2="399.64" y2="100.55" class="w"/><line x1="399.64" y1="111.6" x2="399.64" y2="116.32" class="w"/><line x1="398.74" y1="90.24" x2="400.54" y2="90.24" class="cap"/><line x1="398.74" y1="116.32" x2="400.54" y2="116.32" class="cap"/><rect x="397.74" y="100.55" width="3.8" height="11.06" fill="#ff0000" class="bx"/><line x1="397.74" y1="108.62" x2="401.54" y2="108.62" class="md"/>
<line x1="405.54" y1="123.53" x2="405.54" y2="127.13" class="w"/><line x1="405.54" y1="140.55" x2="405.54" y2="143.4" class="w"/><line x1="404.64" y1="123.53" x2="406.44" y2="123.53" class="cap"/><line x1="404.64" y1="143.4" x2="406.44" y2="143.4" class="cap"/><rect x="403.64" y="127.13" width="3.8" height="13.42" fill="#00c800" class="bx"/><line x1="403.64" y1="131.48" x2="407.44" y2="131.48" class="md"/>
<line x1="411.4" y1="75.08" x2="411.4" y2="90.24" class="w"/><line x1="411.4" y1="109.86" x2="411.4" y2="110.36" class="w"/><line x1="410.5" y1="75.08" x2="412.3" y2="75.08" class="cap"/><line x1="410.5" y1="110.36" x2="412.3" y2="110.36" class="cap"/><rect x="409.5" y="90.24" width="3.8" height="19.63" fill="#ff0000" class="bx"/><line x1="409.5" y1="108.62" x2="413.3" y2="108.62" class="md"/>
<line x1="417.3" y1="131.48" x2="417.3" y2="140.3" class="w"/><line x1="417.3" y1="152.1" x2="417.3" y2="154.46" class="w"/><line x1="416.4" y1="131.48" x2="418.2" y2="131.48" class="cap"/><line x1="416.4" y1="154.46" x2="418.2" y2="154.46" class="cap"/><rect x="415.4" y="140.3" width="3.8" height="11.8" fill="#00c800" class="bx"/><line x1="415.4" y1="147.38" x2="419.2" y2="147.38" class="md"/>
<line x1="423.16" y1="91.23" x2="423.16" y2="95.45" class="w"/><line x1="423.16" y1="112.6" x2="423.16" y2="114.46" class="w"/><line x1="422.26" y1="91.23" x2="424.06" y2="91.23" class="cap"/><line x1="422.26" y1="114.46" x2="424.06" y2="114.46" class="cap"/><rect x="421.26" y="95.45" width="3.8" height="17.14" fill="#ff0000" class="bx"/><line x1="421.26" y1="103.53" x2="425.06" y2="103.53" class="md"/>
<line x1="429.06" y1="133.47" x2="429.06" y2="137.69" class="w"/><line x1="429.06" y1="152.35" x2="429.06" y2="153.34" class="w"/><line x1="428.16" y1="133.47" x2="429.96" y2="133.47" class="cap"/><line x1="428.16" y1="153.34" x2="429.96" y2="153.34" class="cap"/><rect x="427.16" y="137.69" width="3.8" height="14.66" fill="#00c800" class="bx"/><line x1="427.16" y1="149.61" x2="430.96" y2="149.61" class="md"/>
<line x1="434.92" y1="63.53" x2="434.92" y2="95.2" class="w"/><line x1="434.92" y1="115.7" x2="434.92" y2="118.19" class="w"/><line x1="434.02" y1="63.53" x2="435.82" y2="63.53" class="cap"/><line x1="434.02" y1="118.19" x2="435.82" y2="118.19" class="cap"/><rect x="433.02" y="95.2" width="3.8" height="20.5" fill="#ff0000" class="bx"/><line x1="433.02" y1="102.29" x2="436.82" y2="102.29" class="md"/>
<line x1="440.82" y1="130.98" x2="440.82" y2="131.48" class="w"/><line x1="440.82" y1="145.76" x2="440.82" y2="148.37" class="w"/><line x1="439.92" y1="130.98" x2="441.72" y2="130.98" class="cap"/><line x1="439.92" y1="148.37" x2="441.72" y2="148.37" class="cap"/><rect x="438.92" y="131.48" width="3.8" height="14.29" fill="#00c800" class="bx"/><line x1="438.92" y1="141.42" x2="442.72" y2="141.42" class="md"/>
<line x1="446.68" y1="63.53" x2="446.68" y2="93.71" class="w"/><line x1="446.68" y1="111.35" x2="446.68" y2="116.32" class="w"/><line x1="445.78" y1="63.53" x2="447.58" y2="63.53" class="cap"/><line x1="445.78" y1="116.32" x2="447.58" y2="116.32" class="cap"/><rect x="444.78" y="93.71" width="3.8" height="17.64" fill="#ff0000" class="bx"/><line x1="444.78" y1="100.42" x2="448.58" y2="100.42" class="md"/>
<line x1="452.58" y1="129.61" x2="452.58" y2="135.58" class="w"/><line x1="452.58" y1="147.01" x2="452.58" y2="149.49" class="w"/><line x1="451.68" y1="129.61" x2="453.48" y2="129.61" class="cap"/><line x1="451.68" y1="149.49" x2="453.48" y2="149.49" class="cap"/><rect x="450.68" y="135.58" width="3.8" height="11.43" fill="#00c800" class="bx"/><line x1="450.68" y1="141.42" x2="454.48" y2="141.42" class="md"/>
<line x1="458.44" y1="66.88" x2="458.44" y2="86.51" class="w"/><line x1="458.44" y1="108.62" x2="458.44" y2="136.45" class="w"/><line x1="457.54" y1="66.88" x2="459.34" y2="66.88" class="cap"/><line x1="457.54" y1="136.45" x2="459.34" y2="136.45" class="cap"/><rect x="456.54" y="86.51" width="3.8" height="22.11" fill="#ff0000" class="bx"/><line x1="456.54" y1="97.69" x2="460.34" y2="97.69" class="md"/>
<line x1="464.34" y1="124.65" x2="464.34" y2="129.61" class="w"/><line x1="464.34" y1="144.02" x2="464.34" y2="150.48" class="w"/><line x1="463.44" y1="124.65" x2="465.24" y2="124.65" class="cap"/><line x1="463.44" y1="150.48" x2="465.24" y2="150.48" class="cap"/><rect x="462.44" y="129.61" width="3.8" height="14.41" fill="#00c800" class="bx"/><line x1="462.44" y1="134.09" x2="466.24" y2="134.09" class="md"/>
<line x1="470.2" y1="71.35" x2="470.2" y2="93.09" class="w"/><line x1="470.2" y1="108.5" x2="470.2" y2="116.32" class="w"/><line x1="469.3" y1="71.35" x2="471.1" y2="71.35" class="cap"/><line x1="469.3" y1="116.32" x2="471.1" y2="116.32" class="cap"/><rect x="468.3" y="93.09" width="3.8" height="15.4" fill="#ff0000" class="bx"/><line x1="468.3" y1="100.42" x2="472.1" y2="100.42" class="md"/>
<line x1="476.1" y1="125.64" x2="476.1" y2="129.61" class="w"/><line x1="476.1" y1="144.27" x2="476.1" y2="147.38" class="w"/><line x1="475.2" y1="125.64" x2="477" y2="125.64" class="cap"/><line x1="475.2" y1="147.38" x2="477" y2="147.38" class="cap"/><rect x="474.2" y="129.61" width="3.8" height="14.66" fill="#00c800" class="bx"/><line x1="474.2" y1="134.71" x2="478" y2="134.71" class="md"/>
<line x1="481.96" y1="77.44" x2="481.96" y2="98.06" class="w"/><line x1="481.96" y1="109.49" x2="481.96" y2="115.7" class="w"/><line x1="481.06" y1="77.44" x2="482.86" y2="77.44" class="cap"/><line x1="481.06" y1="115.7" x2="482.86" y2="115.7" class="cap"/><rect x="480.06" y="98.06" width="3.8" height="11.43" fill="#ff0000" class="bx"/><line x1="480.06" y1="108.62" x2="483.86" y2="108.62" class="md"/>
<line x1="487.86" y1="128.5" x2="487.86" y2="134.58" class="w"/><line x1="487.86" y1="152.72" x2="487.86" y2="154.21" class="w"/><line x1="486.96" y1="128.5" x2="488.76" y2="128.5" class="cap"/><line x1="486.96" y1="154.21" x2="488.76" y2="154.21" class="cap"/><rect x="485.96" y="134.58" width="3.8" height="18.14" fill="#00c800" class="bx"/><line x1="485.96" y1="139.55" x2="489.76" y2="139.55" class="md"/>
<line x1="493.72" y1="92.47" x2="493.72" y2="95.58" class="w"/><line x1="493.72" y1="113.47" x2="493.72" y2="114.46" class="w"/><line x1="492.82" y1="92.47" x2="494.62" y2="92.47" class="cap"/><line x1="492.82" y1="114.46" x2="494.62" y2="114.46" class="cap"/><rect x="491.82" y="95.58" width="3.8" height="17.89" fill="#ff0000" class="bx"/><line x1="491.82" y1="107.38" x2="495.62" y2="107.38" class="md"/>
<line x1="499.62" y1="131.6" x2="499.62" y2="136.2" class="w"/><line x1="499.62" y1="150.48" x2="499.62" y2="151.35" class="w"/><line x1="498.72" y1="131.6" x2="500.52" y2="131.6" class="cap"/><line x1="498.72" y1="151.35" x2="500.52" y2="151.35" class="cap"/><rect x="497.72" y="136.2" width="3.8" height="14.29" fill="#00c800" class="bx"/><line x1="497.72" y1="143.4" x2="501.52" y2="143.4" class="md"/>
<line x1="505.48" y1="81.29" x2="505.48" y2="99.93" class="w"/><line x1="505.48" y1="109.86" x2="505.48" y2="114.71" class="w"/><line x1="504.58" y1="81.29" x2="506.38" y2="81.29" class="cap"/><line x1="504.58" y1="114.71" x2="506.38" y2="114.71" class="cap"/><rect x="503.58" y="99.93" width="3.8" height="9.94" fill="#ff0000" class="bx"/><line x1="503.58" y1="103.53" x2="507.38" y2="103.53" class="md"/>
<line x1="511.38" y1="118.81" x2="511.38" y2="126.01" class="w"/><line x1="511.38" y1="143.65" x2="511.38" y2="149.61" class="w"/><line x1="510.48" y1="118.81" x2="512.28" y2="118.81" class="cap"/><line x1="510.48" y1="149.61" x2="512.28" y2="149.61" class="cap"/><rect x="509.48" y="126.01" width="3.8" height="17.64" fill="#00c800" class="bx"/><line x1="509.48" y1="132.47" x2="513.28" y2="132.47" class="md"/>
<line x1="517.24" y1="84.4" x2="517.24" y2="100.17" class="w"/><line x1="517.24" y1="110.73" x2="517.24" y2="111.11" class="w"/><line x1="516.34" y1="84.4" x2="518.14" y2="84.4" class="cap"/><line x1="516.34" y1="111.11" x2="518.14" y2="111.11" class="cap"/><rect x="515.34" y="100.17" width="3.8" height="10.56" fill="#ff0000" class="bx"/><line x1="515.34" y1="109.49" x2="519.14" y2="109.49" class="md"/>
<line x1="523.14" y1="126.51" x2="523.14" y2="129.37" class="w"/><line x1="523.14" y1="145.52" x2="523.14" y2="147.63" class="w"/><line x1="522.24" y1="126.51" x2="524.04" y2="126.51" class="cap"/><line x1="522.24" y1="147.63" x2="524.04" y2="147.63" class="cap"/><rect x="521.24" y="129.37" width="3.8" height="16.15" fill="#00c800" class="bx"/><line x1="521.24" y1="133.47" x2="525.04" y2="133.47" class="md"/>
<line x1="529" y1="53.34" x2="529" y2="98.06" class="w"/><line x1="529" y1="112.6" x2="529" y2="118.43" class="w"/><line x1="528.1" y1="53.34" x2="529.9" y2="53.34" class="cap"/><line x1="528.1" y1="118.43" x2="529.9" y2="118.43" class="cap"/><rect x="527.1" y="98.06" width="3.8" height="14.53" fill="#ff0000" class="bx"/><line x1="527.1" y1="101.66" x2="530.9" y2="101.66" class="md"/>
<line x1="534.9" y1="122.53" x2="534.9" y2="126.26" class="w"/><line x1="534.9" y1="144.02" x2="534.9" y2="148.37" class="w"/><line x1="534" y1="122.53" x2="535.8" y2="122.53" class="cap"/><line x1="534" y1="148.37" x2="535.8" y2="148.37" class="cap"/><rect x="533" y="126.26" width="3.8" height="17.76" fill="#00c800" class="bx"/><line x1="533" y1="132.47" x2="536.8" y2="132.47" class="md"/>
<line x1="540.76" y1="74.34" x2="540.76" y2="101.04" class="w"/><line x1="540.76" y1="110.73" x2="540.76" y2="116.32" class="w"/><line x1="539.86" y1="74.34" x2="541.66" y2="74.34" class="cap"/><line x1="539.86" y1="116.32" x2="541.66" y2="116.32" class="cap"/><rect x="538.86" y="101.04" width="3.8" height="9.69" fill="#ff0000" class="bx"/><line x1="538.86" y1="104.27" x2="542.66" y2="104.27" class="md"/>
<line x1="546.66" y1="124.65" x2="546.66" y2="128.5" class="w"/><line x1="546.66" y1="143.65" x2="546.66" y2="148.37" class="w"/><line x1="545.76" y1="124.65" x2="547.56" y2="124.65" class="cap"/><line x1="545.76" y1="148.37" x2="547.56" y2="148.37" class="cap"/><rect x="544.76" y="128.5" width="3.8" height="15.16" fill="#00c800" class="bx"/><line x1="544.76" y1="134.58" x2="548.56" y2="134.58" class="md"/>
<line x1="552.52" y1="77.44" x2="552.52" y2="85.64" class="w"/><line x1="552.52" y1="116.32" x2="552.52" y2="118.19" class="w"/><line x1="551.62" y1="77.44" x2="553.42" y2="77.44" class="cap"/><line x1="551.62" y1="118.19" x2="553.42" y2="118.19" class="cap"/><rect x="550.62" y="85.64" width="3.8" height="30.68" fill="#ff0000" class="bx"/><line x1="550.62" y1="108.5" x2="554.42" y2="108.5" class="md"/>
<line x1="558.42" y1="121.54" x2="558.42" y2="131.48" class="w"/><line x1="558.42" y1="146.76" x2="558.42" y2="150.48" class="w"/><line x1="557.52" y1="121.54" x2="559.32" y2="121.54" class="cap"/><line x1="557.52" y1="150.48" x2="559.32" y2="150.48" class="cap"/><rect x="556.52" y="131.48" width="3.8" height="15.28" fill="#00c800" class="bx"/><line x1="556.52" y1="136.45" x2="560.32" y2="136.45" class="md"/>
<line x1="564.28" y1="72.47" x2="564.28" y2="84.27" class="w"/><line x1="564.28" y1="112.6" x2="564.28" y2="114.71" class="w"/><line x1="563.38" y1="72.47" x2="565.18" y2="72.47" class="cap"/><line x1="563.38" y1="114.71" x2="565.18" y2="114.71" class="cap"/><rect x="562.38" y="84.27" width="3.8" height="28.32" fill="#ff0000" class="bx"/><line x1="562.38" y1="100.42" x2="566.18" y2="100.42" class="md"/>
<line x1="570.18" y1="124.4" x2="570.18" y2="126.88" class="w"/><line x1="570.18" y1="147.38" x2="570.18" y2="148.62" class="w"/><line x1="569.28" y1="124.4" x2="571.08" y2="124.4" class="cap"/><line x1="569.28" y1="148.62" x2="571.08" y2="148.62" class="cap"/><rect x="568.28" y="126.88" width="3.8" height="20.5" fill="#00c800" class="bx"/><line x1="568.28" y1="134.58" x2="572.08" y2="134.58" class="md"/>
<line x1="576.04" y1="93.34" x2="576.04" y2="102.66" class="w"/><line x1="576.04" y1="116.32" x2="576.04" y2="117.57" class="w"/><line x1="575.14" y1="93.34" x2="576.94" y2="93.34" class="cap"/><line x1="575.14" y1="117.57" x2="576.94" y2="117.57" class="cap"/><rect x="574.14" y="102.66" width="3.8" height="13.66" fill="#ff0000" class="bx"/><line x1="574.14" y1="113.47" x2="577.94" y2="113.47" class="md"/>
<line x1="581.94" y1="108.5" x2="581.94" y2="117.57" class="w"/><line x1="581.94" y1="135.95" x2="581.94" y2="146.14" class="w"/><line x1="581.04" y1="108.5" x2="582.84" y2="108.5" class="cap"/><line x1="581.04" y1="146.14" x2="582.84" y2="146.14" class="cap"/><rect x="580.04" y="117.57" width="3.8" height="18.39" fill="#00c800" class="bx"/><line x1="580.04" y1="130.24" x2="583.84" y2="130.24" class="md"/>
<line x1="587.8" y1="81.91" x2="587.8" y2="84.65" class="w"/><line x1="587.8" y1="115.45" x2="587.8" y2="118.56" class="w"/><line x1="586.9" y1="81.91" x2="588.7" y2="81.91" class="cap"/><line x1="586.9" y1="118.56" x2="588.7" y2="118.56" class="cap"/><rect x="585.9" y="84.65" width="3.8" height="30.81" fill="#ff0000" class="bx"/><line x1="585.9" y1="107.38" x2="589.7" y2="107.38" class="md"/>
<line x1="593.7" y1="114.46" x2="593.7" y2="116.94" class="w"/><line x1="593.7" y1="134.58" x2="593.7" y2="143.4" class="w"/><line x1="592.8" y1="114.46" x2="594.6" y2="114.46" class="cap"/><line x1="592.8" y1="143.4" x2="594.6" y2="143.4" class="cap"/><rect x="591.8" y="116.94" width="3.8" height="17.64" fill="#00c800" class="bx"/><line x1="591.8" y1="128.5" x2="595.6" y2="128.5" class="md"/>
<line x1="599.56" y1="128.37" x2="599.56" y2="132.47" class="w"/><line x1="599.56" y1="148" x2="599.56" y2="150.48" class="w"/><line x1="598.66" y1="128.37" x2="600.46" y2="128.37" class="cap"/><line x1="598.66" y1="150.48" x2="600.46" y2="150.48" class="cap"/><rect x="597.66" y="132.47" width="3.8" height="15.53" fill="#ff0000" class="bx"/><line x1="597.66" y1="144.02" x2="601.46" y2="144.02" class="md"/>
<line x1="605.46" y1="126.26" x2="605.46" y2="133.09" class="w"/><line x1="605.46" y1="148.62" x2="605.46" y2="156.7" class="w"/><line x1="604.56" y1="126.26" x2="606.36" y2="126.26" class="cap"/><line x1="604.56" y1="156.7" x2="606.36" y2="156.7" class="cap"/><rect x="603.56" y="133.09" width="3.8" height="15.53" fill="#00c800" class="bx"/><line x1="603.56" y1="140.55" x2="607.36" y2="140.55" class="md"/>
<line x1="61" y1="284.6" x2="61" y2="471.4" class="ax"/>
<line x1="61" y1="471.4" x2="613.5" y2="471.4" class="ax"/>
<line x1="48.4" y1="284.6" x2="61" y2="284.6" class="ax"/>
<text transform="translate(46.6,289.77) scale(1,1.07)" font-size="14.2" text-anchor="end" class="tl">2.5</text>
<line x1="48.4" y1="321.96" x2="61" y2="321.96" class="ax"/>
<text transform="translate(46.6,327.13) scale(1,1.07)" font-size="14.2" text-anchor="end" class="tl">2.0</text>
<line x1="48.4" y1="359.32" x2="61" y2="359.32" class="ax"/>
<text transform="translate(46.6,364.49) scale(1,1.07)" font-size="14.2" text-anchor="end" class="tl">1.5</text>
<line x1="48.4" y1="396.68" x2="61" y2="396.68" class="ax"/>
<text transform="translate(46.6,401.85) scale(1,1.07)" font-size="14.2" text-anchor="end" class="tl">1.0</text>
<line x1="48.4" y1="434.04" x2="61" y2="434.04" class="ax"/>
<text transform="translate(46.6,439.21) scale(1,1.07)" font-size="14.2" text-anchor="end" class="tl">0.5</text>
<line x1="48.4" y1="471.4" x2="61" y2="471.4" class="ax"/>
<text transform="translate(46.6,476.57) scale(1,1.07)" font-size="14.2" text-anchor="end" class="tl">0.0</text>
<line x1="64.7" y1="471.4" x2="64.7" y2="483.9" class="ax"/>
<line x1="76.39" y1="471.4" x2="76.39" y2="483.9" class="ax"/>
<line x1="88.08" y1="471.4" x2="88.08" y2="483.9" class="ax"/>
<line x1="99.77" y1="471.4" x2="99.77" y2="483.9" class="ax"/>
<line x1="111.46" y1="471.4" x2="111.46" y2="483.9" class="ax"/>
<line x1="123.15" y1="471.4" x2="123.15" y2="483.9" class="ax"/>
<line x1="134.84" y1="471.4" x2="134.84" y2="483.9" class="ax"/>
<line x1="146.53" y1="471.4" x2="146.53" y2="483.9" class="ax"/>
<line x1="158.22" y1="471.4" x2="158.22" y2="483.9" class="ax"/>
<line x1="169.91" y1="471.4" x2="169.91" y2="483.9" class="ax"/>
<line x1="181.6" y1="471.4" x2="181.6" y2="483.9" class="ax"/>
<line x1="193.29" y1="471.4" x2="193.29" y2="483.9" class="ax"/>
<line x1="204.98" y1="471.4" x2="204.98" y2="483.9" class="ax"/>
<line x1="216.67" y1="471.4" x2="216.67" y2="483.9" class="ax"/>
<line x1="228.36" y1="471.4" x2="228.36" y2="483.9" class="ax"/>
<line x1="240.05" y1="471.4" x2="240.05" y2="483.9" class="ax"/>
<line x1="251.74" y1="471.4" x2="251.74" y2="483.9" class="ax"/>
<line x1="263.43" y1="471.4" x2="263.43" y2="483.9" class="ax"/>
<line x1="275.12" y1="471.4" x2="275.12" y2="483.9" class="ax"/>
<line x1="286.81" y1="471.4" x2="286.81" y2="483.9" class="ax"/>
<line x1="298.5" y1="471.4" x2="298.5" y2="483.9" class="ax"/>
<line x1="310.19" y1="471.4" x2="310.19" y2="483.9" class="ax"/>
<line x1="321.88" y1="471.4" x2="321.88" y2="483.9" class="ax"/>
<line x1="333.57" y1="471.4" x2="333.57" y2="483.9" class="ax"/>
<line x1="345.26" y1="471.4" x2="345.26" y2="483.9" class="ax"/>
<line x1="356.95" y1="471.4" x2="356.95" y2="483.9" class="ax"/>
<line x1="368.64" y1="471.4" x2="368.64" y2="483.9" class="ax"/>
<line x1="380.33" y1="471.4" x2="380.33" y2="483.9" class="ax"/>
<line x1="392.02" y1="471.4" x2="392.02" y2="483.9" class="ax"/>
<line x1="403.71" y1="471.4" x2="403.71" y2="483.9" class="ax"/>
<line x1="415.4" y1="471.4" x2="415.4" y2="483.9" class="ax"/>
<line x1="427.09" y1="471.4" x2="427.09" y2="483.9" class="ax"/>
<line x1="438.78" y1="471.4" x2="438.78" y2="483.9" class="ax"/>
<line x1="450.47" y1="471.4" x2="450.47" y2="483.9" class="ax"/>
<line x1="462.16" y1="471.4" x2="462.16" y2="483.9" class="ax"/>
<line x1="473.85" y1="471.4" x2="473.85" y2="483.9" class="ax"/>
<line x1="485.54" y1="471.4" x2="485.54" y2="483.9" class="ax"/>
<line x1="497.23" y1="471.4" x2="497.23" y2="483.9" class="ax"/>
<line x1="508.92" y1="471.4" x2="508.92" y2="483.9" class="ax"/>
<line x1="520.61" y1="471.4" x2="520.61" y2="483.9" class="ax"/>
<line x1="532.3" y1="471.4" x2="532.3" y2="483.9" class="ax"/>
<line x1="543.99" y1="471.4" x2="543.99" y2="483.9" class="ax"/>
<line x1="555.68" y1="471.4" x2="555.68" y2="483.9" class="ax"/>
<line x1="567.37" y1="471.4" x2="567.37" y2="483.9" class="ax"/>
<line x1="579.06" y1="471.4" x2="579.06" y2="483.9" class="ax"/>
<line x1="590.75" y1="471.4" x2="590.75" y2="483.9" class="ax"/>
<line x1="602.44" y1="471.4" x2="602.44" y2="483.9" class="ax"/>
<line x1="64.7" y1="367.53" x2="64.7" y2="374.73" class="w"/><line x1="64.7" y1="401.44" x2="64.7" y2="416.1" class="w"/><line x1="63.8" y1="367.53" x2="65.6" y2="367.53" class="cap"/><line x1="63.8" y1="416.1" x2="65.6" y2="416.1" class="cap"/><rect x="63" y="374.73" width="3.4" height="26.71" fill="#ff0000" class="bx"/><line x1="63" y1="385.54" x2="66.4" y2="385.54" class="md"/>
<line x1="70.55" y1="385.54" x2="70.55" y2="394.86" class="w"/><line x1="70.55" y1="412.37" x2="70.55" y2="417.34" class="w"/><line x1="69.65" y1="385.54" x2="71.45" y2="385.54" class="cap"/><line x1="69.65" y1="417.34" x2="71.45" y2="417.34" class="cap"/><rect x="68.85" y="394.86" width="3.4" height="17.52" fill="#00c800" class="bx"/><line x1="68.85" y1="408.27" x2="72.25" y2="408.27" class="md"/>
<line x1="76.39" y1="354.86" x2="76.39" y2="361.07" class="w"/><line x1="76.39" y1="407.28" x2="76.39" y2="414.48" class="w"/><line x1="75.49" y1="354.86" x2="77.29" y2="354.86" class="cap"/><line x1="75.49" y1="414.48" x2="77.29" y2="414.48" class="cap"/><rect x="74.69" y="361.07" width="3.4" height="46.21" fill="#ff0000" class="bx"/><line x1="74.69" y1="382.19" x2="78.09" y2="382.19" class="md"/>
<line x1="82.24" y1="385.54" x2="82.24" y2="394.36" class="w"/><line x1="82.24" y1="413.24" x2="82.24" y2="416.1" class="w"/><line x1="81.34" y1="385.54" x2="83.14" y2="385.54" class="cap"/><line x1="81.34" y1="416.1" x2="83.14" y2="416.1" class="cap"/><rect x="80.54" y="394.36" width="3.4" height="18.88" fill="#00c800" class="bx"/><line x1="80.54" y1="406.41" x2="83.94" y2="406.41" class="md"/>
<line x1="88.08" y1="353.37" x2="88.08" y2="370.39" class="w"/><line x1="88.08" y1="381.94" x2="88.08" y2="403.93" class="w"/><line x1="87.18" y1="353.37" x2="88.98" y2="353.37" class="cap"/><line x1="87.18" y1="403.93" x2="88.98" y2="403.93" class="cap"/><rect x="86.38" y="370.39" width="3.4" height="11.55" fill="#ff0000" class="bx"/><line x1="86.38" y1="377.47" x2="89.78" y2="377.47" class="md"/>
<line x1="93.93" y1="364.42" x2="93.93" y2="381.32" class="w"/><line x1="93.93" y1="404.3" x2="93.93" y2="407.03" class="w"/><line x1="93.03" y1="364.42" x2="94.83" y2="364.42" class="cap"/><line x1="93.03" y1="407.03" x2="94.83" y2="407.03" class="cap"/><rect x="92.23" y="381.32" width="3.4" height="22.98" fill="#00c800" class="bx"/><line x1="92.23" y1="393.37" x2="95.63" y2="393.37" class="md"/>
<line x1="99.77" y1="337.22" x2="99.77" y2="350.51" class="w"/><line x1="99.77" y1="376.35" x2="99.77" y2="404.55" class="w"/><line x1="98.87" y1="337.22" x2="100.67" y2="337.22" class="cap"/><line x1="98.87" y1="404.55" x2="100.67" y2="404.55" class="cap"/><rect x="98.07" y="350.51" width="3.4" height="25.84" fill="#ff0000" class="bx"/><line x1="98.07" y1="364.42" x2="101.47" y2="364.42" class="md"/>
<line x1="105.62" y1="358.34" x2="105.62" y2="370.39" class="w"/><line x1="105.62" y1="404.55" x2="105.62" y2="408.27" class="w"/><line x1="104.72" y1="358.34" x2="106.52" y2="358.34" class="cap"/><line x1="104.72" y1="408.27" x2="106.52" y2="408.27" class="cap"/><rect x="103.92" y="370.39" width="3.4" height="34.16" fill="#00c800" class="bx"/><line x1="103.92" y1="398.58" x2="107.32" y2="398.58" class="md"/>
<line x1="111.46" y1="341.44" x2="111.46" y2="342.81" class="w"/><line x1="111.46" y1="378.09" x2="111.46" y2="403.06" class="w"/><line x1="110.56" y1="341.44" x2="112.36" y2="341.44" class="cap"/><line x1="110.56" y1="403.06" x2="112.36" y2="403.06" class="cap"/><rect x="109.76" y="342.81" width="3.4" height="35.28" fill="#ff0000" class="bx"/><line x1="109.76" y1="363.3" x2="113.16" y2="363.3" class="md"/>
<line x1="117.31" y1="380.7" x2="117.31" y2="385.54" class="w"/><line x1="117.31" y1="405.17" x2="117.31" y2="410.51" class="w"/><line x1="116.41" y1="380.7" x2="118.21" y2="380.7" class="cap"/><line x1="116.41" y1="410.51" x2="118.21" y2="410.51" class="cap"/><rect x="115.61" y="385.54" width="3.4" height="19.63" fill="#00c800" class="bx"/><line x1="115.61" y1="400.45" x2="119.01" y2="400.45" class="md"/>
<line x1="123.15" y1="332.25" x2="123.15" y2="347.4" class="w"/><line x1="123.15" y1="375.6" x2="123.15" y2="401.69" class="w"/><line x1="122.25" y1="332.25" x2="124.05" y2="332.25" class="cap"/><line x1="122.25" y1="401.69" x2="124.05" y2="401.69" class="cap"/><rect x="121.45" y="347.4" width="3.4" height="28.2" fill="#ff0000" class="bx"/><line x1="121.45" y1="358.83" x2="124.85" y2="358.83" class="md"/>
<line x1="129" y1="372.5" x2="129" y2="384.05" class="w"/><line x1="129" y1="406.16" x2="129" y2="410.51" class="w"/><line x1="128.1" y1="372.5" x2="129.9" y2="372.5" class="cap"/><line x1="128.1" y1="410.51" x2="129.9" y2="410.51" class="cap"/><rect x="127.3" y="384.05" width="3.4" height="22.11" fill="#00c800" class="bx"/><line x1="127.3" y1="397.47" x2="130.7" y2="397.47" class="md"/>
<line x1="134.84" y1="343.43" x2="134.84" y2="366.41" class="w"/><line x1="134.84" y1="400.45" x2="134.84" y2="409.76" class="w"/><line x1="133.94" y1="343.43" x2="135.74" y2="343.43" class="cap"/><line x1="133.94" y1="409.76" x2="135.74" y2="409.76" class="cap"/><rect x="133.14" y="366.41" width="3.4" height="34.04" fill="#ff0000" class="bx"/><line x1="133.14" y1="378.71" x2="136.54" y2="378.71" class="md"/>
<line x1="140.69" y1="389.64" x2="140.69" y2="397.47" class="w"/><line x1="140.69" y1="411.75" x2="140.69" y2="417.34" class="w"/><line x1="139.79" y1="389.64" x2="141.59" y2="389.64" class="cap"/><line x1="139.79" y1="417.34" x2="141.59" y2="417.34" class="cap"/><rect x="138.99" y="397.47" width="3.4" height="14.29" fill="#00c800" class="bx"/><line x1="138.99" y1="404.55" x2="142.39" y2="404.55" class="md"/>
<line x1="146.53" y1="370.63" x2="146.53" y2="371.25" class="w"/><line x1="146.53" y1="403.3" x2="146.53" y2="408.89" class="w"/><line x1="145.63" y1="370.63" x2="147.43" y2="370.63" class="cap"/><line x1="145.63" y1="408.89" x2="147.43" y2="408.89" class="cap"/><rect x="144.83" y="371.25" width="3.4" height="32.05" fill="#ff0000" class="bx"/><line x1="144.83" y1="379.7" x2="148.23" y2="379.7" class="md"/>
<line x1="152.38" y1="386.29" x2="152.38" y2="393.37" class="w"/><line x1="152.38" y1="407.4" x2="152.38" y2="415.73" class="w"/><line x1="151.48" y1="386.29" x2="153.28" y2="386.29" class="cap"/><line x1="151.48" y1="415.73" x2="153.28" y2="415.73" class="cap"/><rect x="150.68" y="393.37" width="3.4" height="14.04" fill="#00c800" class="bx"/><line x1="150.68" y1="403.68" x2="154.08" y2="403.68" class="md"/>
<line x1="158.22" y1="338.09" x2="158.22" y2="360.45" class="w"/><line x1="158.22" y1="384.42" x2="158.22" y2="410.51" class="w"/><line x1="157.32" y1="338.09" x2="159.12" y2="338.09" class="cap"/><line x1="157.32" y1="410.51" x2="159.12" y2="410.51" class="cap"/><rect x="156.52" y="360.45" width="3.4" height="23.98" fill="#ff0000" class="bx"/><line x1="156.52" y1="372.5" x2="159.92" y2="372.5" class="md"/>
<line x1="164.07" y1="373.12" x2="164.07" y2="382.43" class="w"/><line x1="164.07" y1="408.27" x2="164.07" y2="410.51" class="w"/><line x1="163.17" y1="373.12" x2="164.97" y2="373.12" class="cap"/><line x1="163.17" y1="410.51" x2="164.97" y2="410.51" class="cap"/><rect x="162.37" y="382.43" width="3.4" height="25.84" fill="#00c800" class="bx"/><line x1="162.37" y1="398.34" x2="165.77" y2="398.34" class="md"/>
<line x1="169.91" y1="348.4" x2="169.91" y2="350.26" class="w"/><line x1="169.91" y1="388.77" x2="169.91" y2="404.55" class="w"/><line x1="169.01" y1="348.4" x2="170.81" y2="348.4" class="cap"/><line x1="169.01" y1="404.55" x2="170.81" y2="404.55" class="cap"/><rect x="168.21" y="350.26" width="3.4" height="38.51" fill="#ff0000" class="bx"/><line x1="168.21" y1="377.22" x2="171.61" y2="377.22" class="md"/>
<line x1="175.76" y1="379.7" x2="175.76" y2="382.43" class="w"/><line x1="175.76" y1="407.65" x2="175.76" y2="411.38" class="w"/><line x1="174.86" y1="379.7" x2="176.66" y2="379.7" class="cap"/><line x1="174.86" y1="411.38" x2="176.66" y2="411.38" class="cap"/><rect x="174.06" y="382.43" width="3.4" height="25.22" fill="#00c800" class="bx"/><line x1="174.06" y1="399.58" x2="177.46" y2="399.58" class="md"/>
<line x1="181.6" y1="327.53" x2="181.6" y2="337.71" class="w"/><line x1="181.6" y1="384.42" x2="181.6" y2="397.47" class="w"/><line x1="180.7" y1="327.53" x2="182.5" y2="327.53" class="cap"/><line x1="180.7" y1="397.47" x2="182.5" y2="397.47" class="cap"/><rect x="179.9" y="337.71" width="3.4" height="46.71" fill="#ff0000" class="bx"/><line x1="179.9" y1="356.1" x2="183.3" y2="356.1" class="md"/>
<line x1="187.45" y1="368.77" x2="187.45" y2="375.35" class="w"/><line x1="187.45" y1="397.71" x2="187.45" y2="403.55" class="w"/><line x1="186.55" y1="368.77" x2="188.35" y2="368.77" class="cap"/><line x1="186.55" y1="403.55" x2="188.35" y2="403.55" class="cap"/><rect x="185.75" y="375.35" width="3.4" height="22.36" fill="#00c800" class="bx"/><line x1="185.75" y1="389.27" x2="189.15" y2="389.27" class="md"/>
<line x1="193.29" y1="333.37" x2="193.29" y2="338.46" class="w"/><line x1="193.29" y1="386.53" x2="193.29" y2="394.36" class="w"/><line x1="192.39" y1="333.37" x2="194.19" y2="333.37" class="cap"/><line x1="192.39" y1="394.36" x2="194.19" y2="394.36" class="cap"/><rect x="191.59" y="338.46" width="3.4" height="48.07" fill="#ff0000" class="bx"/><line x1="191.59" y1="358.34" x2="194.99" y2="358.34" class="md"/>
<line x1="199.14" y1="370.39" x2="199.14" y2="376.6" class="w"/><line x1="199.14" y1="398.09" x2="199.14" y2="403.55" class="w"/><line x1="198.24" y1="370.39" x2="200.04" y2="370.39" class="cap"/><line x1="198.24" y1="403.55" x2="200.04" y2="403.55" class="cap"/><rect x="197.44" y="376.6" width="3.4" height="21.49" fill="#00c800" class="bx"/><line x1="197.44" y1="390.51" x2="200.84" y2="390.51" class="md"/>
<line x1="204.98" y1="330.39" x2="204.98" y2="339.58" class="w"/><line x1="204.98" y1="384.42" x2="204.98" y2="395.48" class="w"/><line x1="204.08" y1="330.39" x2="205.88" y2="330.39" class="cap"/><line x1="204.08" y1="395.48" x2="205.88" y2="395.48" class="cap"/><rect x="203.28" y="339.58" width="3.4" height="44.84" fill="#ff0000" class="bx"/><line x1="203.28" y1="366.04" x2="206.68" y2="366.04" class="md"/>
<line x1="210.83" y1="358.58" x2="210.83" y2="368.52" class="w"/><line x1="210.83" y1="411.01" x2="210.83" y2="415.48" class="w"/><line x1="209.93" y1="358.58" x2="211.73" y2="358.58" class="cap"/><line x1="209.93" y1="415.48" x2="211.73" y2="415.48" class="cap"/><rect x="209.13" y="368.52" width="3.4" height="42.48" fill="#00c800" class="bx"/><line x1="209.13" y1="400.45" x2="212.53" y2="400.45" class="md"/>
<line x1="216.67" y1="332.87" x2="216.67" y2="343.43" class="w"/><line x1="216.67" y1="370.14" x2="216.67" y2="400.45" class="w"/><line x1="215.77" y1="332.87" x2="217.57" y2="332.87" class="cap"/><line x1="215.77" y1="400.45" x2="217.57" y2="400.45" class="cap"/><rect x="214.97" y="343.43" width="3.4" height="26.71" fill="#ff0000" class="bx"/><line x1="214.97" y1="363.18" x2="218.37" y2="363.18" class="md"/>
<line x1="222.52" y1="355.48" x2="222.52" y2="376.22" class="w"/><line x1="222.52" y1="404.3" x2="222.52" y2="410.76" class="w"/><line x1="221.62" y1="355.48" x2="223.42" y2="355.48" class="cap"/><line x1="221.62" y1="410.76" x2="223.42" y2="410.76" class="cap"/><rect x="220.82" y="376.22" width="3.4" height="28.07" fill="#00c800" class="bx"/><line x1="220.82" y1="393.61" x2="224.22" y2="393.61" class="md"/>
<line x1="228.36" y1="333.37" x2="228.36" y2="339.08" class="w"/><line x1="228.36" y1="367.53" x2="228.36" y2="393.61" class="w"/><line x1="227.46" y1="333.37" x2="229.26" y2="333.37" class="cap"/><line x1="227.46" y1="393.61" x2="229.26" y2="393.61" class="cap"/><rect x="226.66" y="339.08" width="3.4" height="28.45" fill="#ff0000" class="bx"/><line x1="226.66" y1="354.48" x2="230.06" y2="354.48" class="md"/>
<line x1="234.21" y1="356.35" x2="234.21" y2="372.25" class="w"/><line x1="234.21" y1="403.55" x2="234.21" y2="406.66" class="w"/><line x1="233.31" y1="356.35" x2="235.11" y2="356.35" class="cap"/><line x1="233.31" y1="406.66" x2="235.11" y2="406.66" class="cap"/><rect x="232.51" y="372.25" width="3.4" height="31.3" fill="#00c800" class="bx"/><line x1="232.51" y1="389.39" x2="235.91" y2="389.39" class="md"/>
<line x1="240.05" y1="327.53" x2="240.05" y2="340.32" class="w"/><line x1="240.05" y1="370.14" x2="240.05" y2="397.47" class="w"/><line x1="239.15" y1="327.53" x2="240.95" y2="327.53" class="cap"/><line x1="239.15" y1="397.47" x2="240.95" y2="397.47" class="cap"/><rect x="238.35" y="340.32" width="3.4" height="29.81" fill="#ff0000" class="bx"/><line x1="238.35" y1="360.45" x2="241.75" y2="360.45" class="md"/>
<line x1="245.9" y1="359.45" x2="245.9" y2="372.5" class="w"/><line x1="245.9" y1="397.47" x2="245.9" y2="400.57" class="w"/><line x1="245" y1="359.45" x2="246.8" y2="359.45" class="cap"/><line x1="245" y1="400.57" x2="246.8" y2="400.57" class="cap"/><rect x="244.2" y="372.5" width="3.4" height="24.97" fill="#00c800" class="bx"/><line x1="244.2" y1="390.26" x2="247.6" y2="390.26" class="md"/>
<line x1="251.74" y1="326.66" x2="251.74" y2="345.54" class="w"/><line x1="251.74" y1="368.89" x2="251.74" y2="399.83" class="w"/><line x1="250.84" y1="326.66" x2="252.64" y2="326.66" class="cap"/><line x1="250.84" y1="399.83" x2="252.64" y2="399.83" class="cap"/><rect x="250.04" y="345.54" width="3.4" height="23.35" fill="#ff0000" class="bx"/><line x1="250.04" y1="356.35" x2="253.44" y2="356.35" class="md"/>
<line x1="257.59" y1="360.45" x2="257.59" y2="377.47" class="w"/><line x1="257.59" y1="406.41" x2="257.59" y2="409.27" class="w"/><line x1="256.69" y1="360.45" x2="258.49" y2="360.45" class="cap"/><line x1="256.69" y1="409.27" x2="258.49" y2="409.27" class="cap"/><rect x="255.89" y="377.47" width="3.4" height="28.94" fill="#00c800" class="bx"/><line x1="255.89" y1="395.85" x2="259.29" y2="395.85" class="md"/>
<line x1="263.43" y1="334.36" x2="263.43" y2="345.29" class="w"/><line x1="263.43" y1="374.48" x2="263.43" y2="394.36" class="w"/><line x1="262.53" y1="334.36" x2="264.33" y2="334.36" class="cap"/><line x1="262.53" y1="394.36" x2="264.33" y2="394.36" class="cap"/><rect x="261.73" y="345.29" width="3.4" height="29.19" fill="#ff0000" class="bx"/><line x1="261.73" y1="363.18" x2="265.13" y2="363.18" class="md"/>
<line x1="269.28" y1="363.55" x2="269.28" y2="382.43" class="w"/><line x1="269.28" y1="407.03" x2="269.28" y2="407.4" class="w"/><line x1="268.38" y1="363.55" x2="270.18" y2="363.55" class="cap"/><line x1="268.38" y1="407.4" x2="270.18" y2="407.4" class="cap"/><rect x="267.58" y="382.43" width="3.4" height="24.6" fill="#00c800" class="bx"/><line x1="267.58" y1="396.22" x2="270.98" y2="396.22" class="md"/>
<line x1="275.12" y1="336.47" x2="275.12" y2="342.19" class="w"/><line x1="275.12" y1="374.73" x2="275.12" y2="401.44" class="w"/><line x1="274.22" y1="336.47" x2="276.02" y2="336.47" class="cap"/><line x1="274.22" y1="401.44" x2="276.02" y2="401.44" class="cap"/><rect x="273.42" y="342.19" width="3.4" height="32.55" fill="#ff0000" class="bx"/><line x1="273.42" y1="359.58" x2="276.82" y2="359.58" class="md"/>
<line x1="280.97" y1="375.6" x2="280.97" y2="382.56" class="w"/><line x1="280.97" y1="404.17" x2="280.97" y2="407.4" class="w"/><line x1="280.07" y1="375.6" x2="281.87" y2="375.6" class="cap"/><line x1="280.07" y1="407.4" x2="281.87" y2="407.4" class="cap"/><rect x="279.27" y="382.56" width="3.4" height="21.61" fill="#00c800" class="bx"/><line x1="279.27" y1="396.47" x2="282.67" y2="396.47" class="md"/>
<line x1="286.81" y1="344.92" x2="286.81" y2="349.27" class="w"/><line x1="286.81" y1="380.07" x2="286.81" y2="407.03" class="w"/><line x1="285.91" y1="344.92" x2="287.71" y2="344.92" class="cap"/><line x1="285.91" y1="407.03" x2="287.71" y2="407.03" class="cap"/><rect x="285.11" y="349.27" width="3.4" height="30.81" fill="#ff0000" class="bx"/><line x1="285.11" y1="368.52" x2="288.51" y2="368.52" class="md"/>
<line x1="292.66" y1="379.7" x2="292.66" y2="383.68" class="w"/><line x1="292.66" y1="404.17" x2="292.66" y2="409.52" class="w"/><line x1="291.76" y1="379.7" x2="293.56" y2="379.7" class="cap"/><line x1="291.76" y1="409.52" x2="293.56" y2="409.52" class="cap"/><rect x="290.96" y="383.68" width="3.4" height="20.5" fill="#00c800" class="bx"/><line x1="290.96" y1="400.57" x2="294.36" y2="400.57" class="md"/>
<line x1="298.5" y1="334.98" x2="298.5" y2="348.4" class="w"/><line x1="298.5" y1="370.39" x2="298.5" y2="396.1" class="w"/><line x1="297.6" y1="334.98" x2="299.4" y2="334.98" class="cap"/><line x1="297.6" y1="396.1" x2="299.4" y2="396.1" class="cap"/><rect x="296.8" y="348.4" width="3.4" height="21.99" fill="#ff0000" class="bx"/><line x1="296.8" y1="360.45" x2="300.2" y2="360.45" class="md"/>
<line x1="304.35" y1="364.8" x2="304.35" y2="375.6" class="w"/><line x1="304.35" y1="400.45" x2="304.35" y2="407.4" class="w"/><line x1="303.45" y1="364.8" x2="305.25" y2="364.8" class="cap"/><line x1="303.45" y1="407.4" x2="305.25" y2="407.4" class="cap"/><rect x="302.65" y="375.6" width="3.4" height="24.84" fill="#00c800" class="bx"/><line x1="302.65" y1="394.24" x2="306.05" y2="394.24" class="md"/>
<line x1="310.19" y1="337.71" x2="310.19" y2="351.5" class="w"/><line x1="310.19" y1="372.5" x2="310.19" y2="399.58" class="w"/><line x1="309.29" y1="337.71" x2="311.09" y2="337.71" class="cap"/><line x1="309.29" y1="399.58" x2="311.09" y2="399.58" class="cap"/><rect x="308.49" y="351.5" width="3.4" height="20.99" fill="#ff0000" class="bx"/><line x1="308.49" y1="363.18" x2="311.89" y2="363.18" class="md"/>
<line x1="316.04" y1="368.52" x2="316.04" y2="380.32" class="w"/><line x1="316.04" y1="402.43" x2="316.04" y2="404.92" class="w"/><line x1="315.14" y1="368.52" x2="316.94" y2="368.52" class="cap"/><line x1="315.14" y1="404.92" x2="316.94" y2="404.92" class="cap"/><rect x="314.34" y="380.32" width="3.4" height="22.11" fill="#00c800" class="bx"/><line x1="314.34" y1="394.24" x2="317.74" y2="394.24" class="md"/>
<line x1="321.88" y1="363.18" x2="321.88" y2="370.39" class="w"/><line x1="321.88" y1="413.61" x2="321.88" y2="422.56" class="w"/><line x1="320.98" y1="363.18" x2="322.78" y2="363.18" class="cap"/><line x1="320.98" y1="422.56" x2="322.78" y2="422.56" class="cap"/><rect x="320.18" y="370.39" width="3.4" height="43.23" fill="#ff0000" class="bx"/><line x1="320.18" y1="386.16" x2="323.58" y2="386.16" class="md"/>
<line x1="327.73" y1="371.25" x2="327.73" y2="388.4" class="w"/><line x1="327.73" y1="410.51" x2="327.73" y2="418.83" class="w"/><line x1="326.83" y1="371.25" x2="328.63" y2="371.25" class="cap"/><line x1="326.83" y1="418.83" x2="328.63" y2="418.83" class="cap"/><rect x="326.03" y="388.4" width="3.4" height="22.11" fill="#00c800" class="bx"/><line x1="326.03" y1="404.55" x2="329.43" y2="404.55" class="md"/>
<line x1="333.57" y1="339.95" x2="333.57" y2="351.5" class="w"/><line x1="333.57" y1="399.33" x2="333.57" y2="405.54" class="w"/><line x1="332.67" y1="339.95" x2="334.47" y2="339.95" class="cap"/><line x1="332.67" y1="405.54" x2="334.47" y2="405.54" class="cap"/><rect x="331.87" y="351.5" width="3.4" height="47.83" fill="#ff0000" class="bx"/><line x1="331.87" y1="378.46" x2="335.27" y2="378.46" class="md"/>
<line x1="339.42" y1="390.26" x2="339.42" y2="394.86" class="w"/><line x1="339.42" y1="409.52" x2="339.42" y2="421.07" class="w"/><line x1="338.52" y1="390.26" x2="340.32" y2="390.26" class="cap"/><line x1="338.52" y1="421.07" x2="340.32" y2="421.07" class="cap"/><rect x="337.72" y="394.86" width="3.4" height="14.66" fill="#00c800" class="bx"/><line x1="337.72" y1="407.03" x2="341.12" y2="407.03" class="md"/>
<line x1="345.26" y1="359.2" x2="345.26" y2="363.93" class="w"/><line x1="345.26" y1="388.65" x2="345.26" y2="406.04" class="w"/><line x1="344.36" y1="359.2" x2="346.16" y2="359.2" class="cap"/><line x1="344.36" y1="406.04" x2="346.16" y2="406.04" class="cap"/><rect x="343.56" y="363.93" width="3.4" height="24.72" fill="#ff0000" class="bx"/><line x1="343.56" y1="382.43" x2="346.96" y2="382.43" class="md"/>
<line x1="351.11" y1="393.99" x2="351.11" y2="397.34" class="w"/><line x1="351.11" y1="413.86" x2="351.11" y2="420.45" class="w"/><line x1="350.21" y1="393.99" x2="352.01" y2="393.99" class="cap"/><line x1="350.21" y1="420.45" x2="352.01" y2="420.45" class="cap"/><rect x="349.41" y="397.34" width="3.4" height="16.52" fill="#00c800" class="bx"/><line x1="349.41" y1="406.66" x2="352.81" y2="406.66" class="md"/>
<line x1="356.95" y1="327.53" x2="356.95" y2="356.35" class="w"/><line x1="356.95" y1="378.46" x2="356.95" y2="403.55" class="w"/><line x1="356.05" y1="327.53" x2="357.85" y2="327.53" class="cap"/><line x1="356.05" y1="403.55" x2="357.85" y2="403.55" class="cap"/><rect x="355.25" y="356.35" width="3.4" height="22.11" fill="#ff0000" class="bx"/><line x1="355.25" y1="372.5" x2="358.65" y2="372.5" class="md"/>
<line x1="362.8" y1="376.22" x2="362.8" y2="380.32" class="w"/><line x1="362.8" y1="404.8" x2="362.8" y2="415.48" class="w"/><line x1="361.9" y1="376.22" x2="363.7" y2="376.22" class="cap"/><line x1="361.9" y1="415.48" x2="363.7" y2="415.48" class="cap"/><rect x="361.1" y="380.32" width="3.4" height="24.47" fill="#00c800" class="bx"/><line x1="361.1" y1="398.09" x2="364.5" y2="398.09" class="md"/>
<line x1="368.64" y1="338.34" x2="368.64" y2="361.94" class="w"/><line x1="368.64" y1="388.4" x2="368.64" y2="399.58" class="w"/><line x1="367.74" y1="338.34" x2="369.54" y2="338.34" class="cap"/><line x1="367.74" y1="399.58" x2="369.54" y2="399.58" class="cap"/><rect x="366.94" y="361.94" width="3.4" height="26.46" fill="#ff0000" class="bx"/><line x1="366.94" y1="375.6" x2="370.34" y2="375.6" class="md"/>
<line x1="374.49" y1="377.47" x2="374.49" y2="384.05" class="w"/><line x1="374.49" y1="405.42" x2="374.49" y2="412.37" class="w"/><line x1="373.59" y1="377.47" x2="375.39" y2="377.47" class="cap"/><line x1="373.59" y1="412.37" x2="375.39" y2="412.37" class="cap"/><rect x="372.79" y="384.05" width="3.4" height="21.37" fill="#00c800" class="bx"/><line x1="372.79" y1="397.47" x2="376.19" y2="397.47" class="md"/>
<line x1="380.33" y1="343.93" x2="380.33" y2="353.37" class="w"/><line x1="380.33" y1="382.56" x2="380.33" y2="407.9" class="w"/><line x1="379.43" y1="343.93" x2="381.23" y2="343.93" class="cap"/><line x1="379.43" y1="407.9" x2="381.23" y2="407.9" class="cap"/><rect x="378.63" y="353.37" width="3.4" height="29.19" fill="#ff0000" class="bx"/><line x1="378.63" y1="379.7" x2="382.03" y2="379.7" class="md"/>
<line x1="386.18" y1="381.94" x2="386.18" y2="382.43" class="w"/><line x1="386.18" y1="405.42" x2="386.18" y2="420.94" class="w"/><line x1="385.28" y1="381.94" x2="387.08" y2="381.94" class="cap"/><line x1="385.28" y1="420.94" x2="387.08" y2="420.94" class="cap"/><rect x="384.48" y="382.43" width="3.4" height="22.98" fill="#00c800" class="bx"/><line x1="384.48" y1="400.45" x2="387.88" y2="400.45" class="md"/>
<line x1="392.02" y1="339.95" x2="392.02" y2="357.96" class="w"/><line x1="392.02" y1="381.19" x2="392.02" y2="400.82" class="w"/><line x1="391.12" y1="339.95" x2="392.92" y2="339.95" class="cap"/><line x1="391.12" y1="400.82" x2="392.92" y2="400.82" class="cap"/><rect x="390.32" y="357.96" width="3.4" height="23.23" fill="#ff0000" class="bx"/><line x1="390.32" y1="370.63" x2="393.72" y2="370.63" class="md"/>
<line x1="397.87" y1="358.21" x2="397.87" y2="377.22" class="w"/><line x1="397.87" y1="402.31" x2="397.87" y2="405.17" class="w"/><line x1="396.97" y1="358.21" x2="398.77" y2="358.21" class="cap"/><line x1="396.97" y1="405.17" x2="398.77" y2="405.17" class="cap"/><rect x="396.17" y="377.22" width="3.4" height="25.09" fill="#00c800" class="bx"/><line x1="396.17" y1="392.5" x2="399.57" y2="392.5" class="md"/>
<line x1="403.71" y1="349.02" x2="403.71" y2="353.24" class="w"/><line x1="403.71" y1="391.13" x2="403.71" y2="401.44" class="w"/><line x1="402.81" y1="349.02" x2="404.61" y2="349.02" class="cap"/><line x1="402.81" y1="401.44" x2="404.61" y2="401.44" class="cap"/><rect x="402.01" y="353.24" width="3.4" height="37.89" fill="#ff0000" class="bx"/><line x1="402.01" y1="371.38" x2="405.41" y2="371.38" class="md"/>
<line x1="409.56" y1="359.83" x2="409.56" y2="379.45" class="w"/><line x1="409.56" y1="400.45" x2="409.56" y2="403.93" class="w"/><line x1="408.66" y1="359.83" x2="410.46" y2="359.83" class="cap"/><line x1="408.66" y1="403.93" x2="410.46" y2="403.93" class="cap"/><rect x="407.86" y="379.45" width="3.4" height="20.99" fill="#00c800" class="bx"/><line x1="407.86" y1="389.39" x2="411.26" y2="389.39" class="md"/>
<line x1="415.4" y1="355.23" x2="415.4" y2="364.42" class="w"/><line x1="415.4" y1="390.51" x2="415.4" y2="402.93" class="w"/><line x1="414.5" y1="355.23" x2="416.3" y2="355.23" class="cap"/><line x1="414.5" y1="402.93" x2="416.3" y2="402.93" class="cap"/><rect x="413.7" y="364.42" width="3.4" height="26.09" fill="#ff0000" class="bx"/><line x1="413.7" y1="377.47" x2="417.1" y2="377.47" class="md"/>
<line x1="421.25" y1="398.34" x2="421.25" y2="400.45" class="w"/><line x1="421.25" y1="412.37" x2="421.25" y2="416.35" class="w"/><line x1="420.35" y1="398.34" x2="422.15" y2="398.34" class="cap"/><line x1="420.35" y1="416.35" x2="422.15" y2="416.35" class="cap"/><rect x="419.55" y="400.45" width="3.4" height="11.93" fill="#00c800" class="bx"/><line x1="419.55" y1="407.03" x2="422.95" y2="407.03" class="md"/>
<line x1="427.09" y1="358.34" x2="427.09" y2="365.66" class="w"/><line x1="427.09" y1="384.92" x2="427.09" y2="402.43" class="w"/><line x1="426.19" y1="358.34" x2="427.99" y2="358.34" class="cap"/><line x1="426.19" y1="402.43" x2="427.99" y2="402.43" class="cap"/><rect x="425.39" y="365.66" width="3.4" height="19.25" fill="#ff0000" class="bx"/><line x1="425.39" y1="372.25" x2="428.79" y2="372.25" class="md"/>
<line x1="432.94" y1="397.71" x2="432.94" y2="398.58" class="w"/><line x1="432.94" y1="412.37" x2="432.94" y2="416.35" class="w"/><line x1="432.04" y1="397.71" x2="433.84" y2="397.71" class="cap"/><line x1="432.04" y1="416.35" x2="433.84" y2="416.35" class="cap"/><rect x="431.24" y="398.58" width="3.4" height="13.79" fill="#00c800" class="bx"/><line x1="431.24" y1="406.41" x2="434.64" y2="406.41" class="md"/>
<line x1="438.78" y1="332.12" x2="438.78" y2="357.59" class="w"/><line x1="438.78" y1="385.54" x2="438.78" y2="400.2" class="w"/><line x1="437.88" y1="332.12" x2="439.68" y2="332.12" class="cap"/><line x1="437.88" y1="400.2" x2="439.68" y2="400.2" class="cap"/><rect x="437.08" y="357.59" width="3.4" height="27.95" fill="#ff0000" class="bx"/><line x1="437.08" y1="366.29" x2="440.48" y2="366.29" class="md"/>
<line x1="444.63" y1="385.29" x2="444.63" y2="389.64" class="w"/><line x1="444.63" y1="406.78" x2="444.63" y2="408.52" class="w"/><line x1="443.73" y1="385.29" x2="445.53" y2="385.29" class="cap"/><line x1="443.73" y1="408.52" x2="445.53" y2="408.52" class="cap"/><rect x="442.93" y="389.64" width="3.4" height="17.14" fill="#00c800" class="bx"/><line x1="442.93" y1="396.47" x2="446.33" y2="396.47" class="md"/>
<line x1="450.47" y1="342.43" x2="450.47" y2="355.48" class="w"/><line x1="450.47" y1="377.47" x2="450.47" y2="396.1" class="w"/><line x1="449.57" y1="342.43" x2="451.37" y2="342.43" class="cap"/><line x1="449.57" y1="396.1" x2="451.37" y2="396.1" class="cap"/><rect x="448.77" y="355.48" width="3.4" height="21.99" fill="#ff0000" class="bx"/><line x1="448.77" y1="366.04" x2="452.17" y2="366.04" class="md"/>
<line x1="456.32" y1="383.43" x2="456.32" y2="390.51" class="w"/><line x1="456.32" y1="405.42" x2="456.32" y2="409.52" class="w"/><line x1="455.42" y1="383.43" x2="457.22" y2="383.43" class="cap"/><line x1="455.42" y1="409.52" x2="457.22" y2="409.52" class="cap"/><rect x="454.62" y="390.51" width="3.4" height="14.91" fill="#00c800" class="bx"/><line x1="454.62" y1="397.47" x2="458.02" y2="397.47" class="md"/>
<line x1="462.16" y1="321.69" x2="462.16" y2="350.51" class="w"/><line x1="462.16" y1="393.61" x2="462.16" y2="408.27" class="w"/><line x1="461.26" y1="321.69" x2="463.06" y2="321.69" class="cap"/><line x1="461.26" y1="408.27" x2="463.06" y2="408.27" class="cap"/><rect x="460.46" y="350.51" width="3.4" height="43.11" fill="#ff0000" class="bx"/><line x1="460.46" y1="361.44" x2="463.86" y2="361.44" class="md"/>
<line x1="468.01" y1="372.87" x2="468.01" y2="382.43" class="w"/><line x1="468.01" y1="407.9" x2="468.01" y2="408.02" class="w"/><line x1="467.11" y1="372.87" x2="468.91" y2="372.87" class="cap"/><line x1="467.11" y1="408.02" x2="468.91" y2="408.02" class="cap"/><rect x="466.31" y="382.43" width="3.4" height="25.47" fill="#00c800" class="bx"/><line x1="466.31" y1="394.61" x2="469.71" y2="394.61" class="md"/>
<line x1="473.85" y1="329.39" x2="473.85" y2="340.2" class="w"/><line x1="473.85" y1="379.45" x2="473.85" y2="394.61" class="w"/><line x1="472.95" y1="329.39" x2="474.75" y2="329.39" class="cap"/><line x1="472.95" y1="394.61" x2="474.75" y2="394.61" class="cap"/><rect x="472.15" y="340.2" width="3.4" height="39.25" fill="#ff0000" class="bx"/><line x1="472.15" y1="369.52" x2="475.55" y2="369.52" class="md"/>
<line x1="479.7" y1="375.6" x2="479.7" y2="384.42" class="w"/><line x1="479.7" y1="404.8" x2="479.7" y2="407.65" class="w"/><line x1="478.8" y1="375.6" x2="480.6" y2="375.6" class="cap"/><line x1="478.8" y1="407.65" x2="480.6" y2="407.65" class="cap"/><rect x="478" y="384.42" width="3.4" height="20.37" fill="#00c800" class="bx"/><line x1="478" y1="395.48" x2="481.4" y2="395.48" class="md"/>
<line x1="485.54" y1="344.67" x2="485.54" y2="344.92" class="w"/><line x1="485.54" y1="383.06" x2="485.54" y2="402.68" class="w"/><line x1="484.64" y1="344.67" x2="486.44" y2="344.67" class="cap"/><line x1="484.64" y1="402.68" x2="486.44" y2="402.68" class="cap"/><rect x="483.84" y="344.92" width="3.4" height="38.14" fill="#ff0000" class="bx"/><line x1="483.84" y1="373.74" x2="487.24" y2="373.74" class="md"/>
<line x1="491.39" y1="374.36" x2="491.39" y2="385.54" class="w"/><line x1="491.39" y1="412.37" x2="491.39" y2="415.35" class="w"/><line x1="490.49" y1="374.36" x2="492.29" y2="374.36" class="cap"/><line x1="490.49" y1="415.35" x2="492.29" y2="415.35" class="cap"/><rect x="489.69" y="385.54" width="3.4" height="26.83" fill="#00c800" class="bx"/><line x1="489.69" y1="405.42" x2="493.09" y2="405.42" class="md"/>
<line x1="497.23" y1="350.88" x2="497.23" y2="363.93" class="w"/><line x1="497.23" y1="376.22" x2="497.23" y2="402.68" class="w"/><line x1="496.33" y1="350.88" x2="498.13" y2="350.88" class="cap"/><line x1="496.33" y1="402.68" x2="498.13" y2="402.68" class="cap"/><rect x="495.53" y="363.93" width="3.4" height="12.3" fill="#ff0000" class="bx"/><line x1="495.53" y1="371.63" x2="498.93" y2="371.63" class="md"/>
<line x1="503.08" y1="369.39" x2="503.08" y2="391.5" class="w"/><line x1="503.08" y1="409.14" x2="503.08" y2="414.48" class="w"/><line x1="502.18" y1="369.39" x2="503.98" y2="369.39" class="cap"/><line x1="502.18" y1="414.48" x2="503.98" y2="414.48" class="cap"/><rect x="501.38" y="391.5" width="3.4" height="17.64" fill="#00c800" class="bx"/><line x1="501.38" y1="401.44" x2="504.78" y2="401.44" class="md"/>
<line x1="508.92" y1="335.23" x2="508.92" y2="360.45" class="w"/><line x1="508.92" y1="379.33" x2="508.92" y2="399.58" class="w"/><line x1="508.02" y1="335.23" x2="509.82" y2="335.23" class="cap"/><line x1="508.02" y1="399.58" x2="509.82" y2="399.58" class="cap"/><rect x="507.22" y="360.45" width="3.4" height="18.88" fill="#ff0000" class="bx"/><line x1="507.22" y1="366.29" x2="510.62" y2="366.29" class="md"/>
<line x1="514.77" y1="358.21" x2="514.77" y2="377.59" class="w"/><line x1="514.77" y1="402.43" x2="514.77" y2="406.41" class="w"/><line x1="513.87" y1="358.21" x2="515.67" y2="358.21" class="cap"/><line x1="513.87" y1="406.41" x2="515.67" y2="406.41" class="cap"/><rect x="513.07" y="377.59" width="3.4" height="24.84" fill="#00c800" class="bx"/><line x1="513.07" y1="393.37" x2="516.47" y2="393.37" class="md"/>
<line x1="520.61" y1="344.92" x2="520.61" y2="347.78" class="w"/><line x1="520.61" y1="385.66" x2="520.61" y2="398.58" class="w"/><line x1="519.71" y1="344.92" x2="521.51" y2="344.92" class="cap"/><line x1="519.71" y1="398.58" x2="521.51" y2="398.58" class="cap"/><rect x="518.91" y="347.78" width="3.4" height="37.89" fill="#ff0000" class="bx"/><line x1="518.91" y1="373.49" x2="522.31" y2="373.49" class="md"/>
<line x1="526.46" y1="366.41" x2="526.46" y2="381.81" class="w"/><line x1="526.46" y1="404.17" x2="526.46" y2="406.66" class="w"/><line x1="525.56" y1="366.41" x2="527.36" y2="366.41" class="cap"/><line x1="525.56" y1="406.66" x2="527.36" y2="406.66" class="cap"/><rect x="524.76" y="381.81" width="3.4" height="22.36" fill="#00c800" class="bx"/><line x1="524.76" y1="395.23" x2="528.16" y2="395.23" class="md"/>
<line x1="532.3" y1="337.47" x2="532.3" y2="343.68" class="w"/><line x1="532.3" y1="373.24" x2="532.3" y2="397.47" class="w"/><line x1="531.4" y1="337.47" x2="533.2" y2="337.47" class="cap"/><line x1="531.4" y1="397.47" x2="533.2" y2="397.47" class="cap"/><rect x="530.6" y="343.68" width="3.4" height="29.57" fill="#ff0000" class="bx"/><line x1="530.6" y1="361.94" x2="534" y2="361.94" class="md"/>
<line x1="538.15" y1="366.04" x2="538.15" y2="380.32" class="w"/><line x1="538.15" y1="403.55" x2="538.15" y2="406.41" class="w"/><line x1="537.25" y1="366.04" x2="539.05" y2="366.04" class="cap"/><line x1="537.25" y1="406.41" x2="539.05" y2="406.41" class="cap"/><rect x="536.45" y="380.32" width="3.4" height="23.23" fill="#00c800" class="bx"/><line x1="536.45" y1="394.36" x2="539.85" y2="394.36" class="md"/>
<line x1="543.99" y1="333.37" x2="543.99" y2="341.19" class="w"/><line x1="543.99" y1="374.11" x2="543.99" y2="397.71" class="w"/><line x1="543.09" y1="333.37" x2="544.89" y2="333.37" class="cap"/><line x1="543.09" y1="397.71" x2="544.89" y2="397.71" class="cap"/><rect x="542.29" y="341.19" width="3.4" height="32.92" fill="#ff0000" class="bx"/><line x1="542.29" y1="363.3" x2="545.69" y2="363.3" class="md"/>
<line x1="549.84" y1="372.5" x2="549.84" y2="381.32" class="w"/><line x1="549.84" y1="403.55" x2="549.84" y2="406.04" class="w"/><line x1="548.94" y1="372.5" x2="550.74" y2="372.5" class="cap"/><line x1="548.94" y1="406.04" x2="550.74" y2="406.04" class="cap"/><rect x="548.14" y="381.32" width="3.4" height="22.24" fill="#00c800" class="bx"/><line x1="548.14" y1="396.84" x2="551.54" y2="396.84" class="md"/>
<line x1="555.68" y1="335.23" x2="555.68" y2="343.3" class="w"/><line x1="555.68" y1="383.43" x2="555.68" y2="412.25" class="w"/><line x1="554.78" y1="335.23" x2="556.58" y2="335.23" class="cap"/><line x1="554.78" y1="412.25" x2="556.58" y2="412.25" class="cap"/><rect x="553.98" y="343.3" width="3.4" height="40.12" fill="#ff0000" class="bx"/><line x1="553.98" y1="352.37" x2="557.38" y2="352.37" class="md"/>
<line x1="561.53" y1="380.57" x2="561.53" y2="391.13" class="w"/><line x1="561.53" y1="406.41" x2="561.53" y2="414.48" class="w"/><line x1="560.63" y1="380.57" x2="562.43" y2="380.57" class="cap"/><line x1="560.63" y1="414.48" x2="562.43" y2="414.48" class="cap"/><rect x="559.83" y="391.13" width="3.4" height="15.28" fill="#00c800" class="bx"/><line x1="559.83" y1="401.44" x2="563.23" y2="401.44" class="md"/>
<line x1="567.37" y1="331.88" x2="567.37" y2="335.23" class="w"/><line x1="567.37" y1="394.98" x2="567.37" y2="410.51" class="w"/><line x1="566.47" y1="331.88" x2="568.27" y2="331.88" class="cap"/><line x1="566.47" y1="410.51" x2="568.27" y2="410.51" class="cap"/><rect x="565.67" y="335.23" width="3.4" height="59.75" fill="#ff0000" class="bx"/><line x1="565.67" y1="358.21" x2="569.07" y2="358.21" class="md"/>
<line x1="573.22" y1="373.24" x2="573.22" y2="382.56" class="w"/><line x1="573.22" y1="405.79" x2="573.22" y2="411.13" class="w"/><line x1="572.32" y1="373.24" x2="574.12" y2="373.24" class="cap"/><line x1="572.32" y1="411.13" x2="574.12" y2="411.13" class="cap"/><rect x="571.52" y="382.56" width="3.4" height="23.23" fill="#00c800" class="bx"/><line x1="571.52" y1="404.17" x2="574.92" y2="404.17" class="md"/>
<line x1="579.06" y1="335.23" x2="579.06" y2="346.41" class="w"/><line x1="579.06" y1="388.65" x2="579.06" y2="408.27" class="w"/><line x1="578.16" y1="335.23" x2="579.96" y2="335.23" class="cap"/><line x1="578.16" y1="408.27" x2="579.96" y2="408.27" class="cap"/><rect x="577.36" y="346.41" width="3.4" height="42.24" fill="#ff0000" class="bx"/><line x1="577.36" y1="357.96" x2="580.76" y2="357.96" class="md"/>
<line x1="584.91" y1="362.56" x2="584.91" y2="380.57" class="w"/><line x1="584.91" y1="399.58" x2="584.91" y2="405.42" class="w"/><line x1="584.01" y1="362.56" x2="585.81" y2="362.56" class="cap"/><line x1="584.01" y1="405.42" x2="585.81" y2="405.42" class="cap"/><rect x="583.21" y="380.57" width="3.4" height="19.01" fill="#00c800" class="bx"/><line x1="583.21" y1="386.29" x2="586.61" y2="386.29" class="md"/>
<line x1="590.75" y1="342.68" x2="590.75" y2="344.05" class="w"/><line x1="590.75" y1="387.4" x2="590.75" y2="407.03" class="w"/><line x1="589.85" y1="342.68" x2="591.65" y2="342.68" class="cap"/><line x1="589.85" y1="407.03" x2="591.65" y2="407.03" class="cap"/><rect x="589.05" y="344.05" width="3.4" height="43.35" fill="#ff0000" class="bx"/><line x1="589.05" y1="348.4" x2="592.45" y2="348.4" class="md"/>
<line x1="596.6" y1="370.14" x2="596.6" y2="373.74" class="w"/><line x1="596.6" y1="396.47" x2="596.6" y2="401.07" class="w"/><line x1="595.7" y1="370.14" x2="597.5" y2="370.14" class="cap"/><line x1="595.7" y1="401.07" x2="597.5" y2="401.07" class="cap"/><rect x="594.9" y="373.74" width="3.4" height="22.73" fill="#00c800" class="bx"/><line x1="594.9" y1="388.65" x2="598.3" y2="388.65" class="md"/>
<line x1="602.44" y1="393.37" x2="602.44" y2="396.72" class="w"/><line x1="602.44" y1="416.6" x2="602.44" y2="426.91" class="w"/><line x1="601.54" y1="393.37" x2="603.34" y2="393.37" class="cap"/><line x1="601.54" y1="426.91" x2="603.34" y2="426.91" class="cap"/><rect x="600.74" y="396.72" width="3.4" height="19.88" fill="#ff0000" class="bx"/><line x1="600.74" y1="406.41" x2="604.14" y2="406.41" class="md"/>
<line x1="608.29" y1="389.02" x2="608.29" y2="397.47" class="w"/><line x1="608.29" y1="414.24" x2="608.29" y2="418.46" class="w"/><line x1="607.39" y1="389.02" x2="609.19" y2="389.02" class="cap"/><line x1="607.39" y1="418.46" x2="609.19" y2="418.46" class="cap"/><rect x="606.59" y="397.47" width="3.4" height="16.77" fill="#00c800" class="bx"/><line x1="606.59" y1="406.41" x2="609.99" y2="406.41" class="md"/>
<line x1="61.1" y1="523.8" x2="61.1" y2="717.4" class="ax"/>
<line x1="61.1" y1="717.4" x2="633.5" y2="717.4" class="ax"/>
<line x1="55.4" y1="523.8" x2="61.1" y2="523.8" class="ax"/>
<text transform="translate(53.9,529.35) scale(1,1.07)" font-size="14.4" text-anchor="end" class="tl">0.06</text>
<line x1="55.4" y1="588.33" x2="61.1" y2="588.33" class="ax"/>
<text transform="translate(53.9,593.88) scale(1,1.07)" font-size="14.4" text-anchor="end" class="tl">0.04</text>
<line x1="55.4" y1="652.87" x2="61.1" y2="652.87" class="ax"/>
<text transform="translate(53.9,658.41) scale(1,1.07)" font-size="14.4" text-anchor="end" class="tl">0.02</text>
<line x1="55.4" y1="717.4" x2="61.1" y2="717.4" class="ax"/>
<text transform="translate(53.9,722.95) scale(1,1.07)" font-size="14.4" text-anchor="end" class="tl">0.00</text>
<line x1="65.1" y1="717.4" x2="65.1" y2="723.4" class="ax"/>
<line x1="77.21" y1="717.4" x2="77.21" y2="723.4" class="ax"/>
<line x1="89.32" y1="717.4" x2="89.32" y2="723.4" class="ax"/>
<line x1="101.43" y1="717.4" x2="101.43" y2="723.4" class="ax"/>
<line x1="113.54" y1="717.4" x2="113.54" y2="723.4" class="ax"/>
<line x1="125.65" y1="717.4" x2="125.65" y2="723.4" class="ax"/>
<line x1="137.76" y1="717.4" x2="137.76" y2="723.4" class="ax"/>
<line x1="149.87" y1="717.4" x2="149.87" y2="723.4" class="ax"/>
<line x1="161.98" y1="717.4" x2="161.98" y2="723.4" class="ax"/>
<line x1="174.09" y1="717.4" x2="174.09" y2="723.4" class="ax"/>
<line x1="186.2" y1="717.4" x2="186.2" y2="723.4" class="ax"/>
<line x1="198.31" y1="717.4" x2="198.31" y2="723.4" class="ax"/>
<line x1="210.42" y1="717.4" x2="210.42" y2="723.4" class="ax"/>
<line x1="222.53" y1="717.4" x2="222.53" y2="723.4" class="ax"/>
<line x1="234.64" y1="717.4" x2="234.64" y2="723.4" class="ax"/>
<line x1="246.75" y1="717.4" x2="246.75" y2="723.4" class="ax"/>
<line x1="258.86" y1="717.4" x2="258.86" y2="723.4" class="ax"/>
<line x1="270.97" y1="717.4" x2="270.97" y2="723.4" class="ax"/>
<line x1="283.08" y1="717.4" x2="283.08" y2="723.4" class="ax"/>
<line x1="295.19" y1="717.4" x2="295.19" y2="723.4" class="ax"/>
<line x1="307.3" y1="717.4" x2="307.3" y2="723.4" class="ax"/>
<line x1="319.41" y1="717.4" x2="319.41" y2="723.4" class="ax"/>
<line x1="331.52" y1="717.4" x2="331.52" y2="723.4" class="ax"/>
<line x1="343.63" y1="717.4" x2="343.63" y2="723.4" class="ax"/>
<line x1="355.74" y1="717.4" x2="355.74" y2="723.4" class="ax"/>
<line x1="367.85" y1="717.4" x2="367.85" y2="723.4" class="ax"/>
<line x1="379.96" y1="717.4" x2="379.96" y2="723.4" class="ax"/>
<line x1="392.07" y1="717.4" x2="392.07" y2="723.4" class="ax"/>
<line x1="404.18" y1="717.4" x2="404.18" y2="723.4" class="ax"/>
<line x1="416.29" y1="717.4" x2="416.29" y2="723.4" class="ax"/>
<line x1="428.4" y1="717.4" x2="428.4" y2="723.4" class="ax"/>
<line x1="440.51" y1="717.4" x2="440.51" y2="723.4" class="ax"/>
<line x1="452.62" y1="717.4" x2="452.62" y2="723.4" class="ax"/>
<line x1="464.73" y1="717.4" x2="464.73" y2="723.4" class="ax"/>
<line x1="476.84" y1="717.4" x2="476.84" y2="723.4" class="ax"/>
<line x1="488.95" y1="717.4" x2="488.95" y2="723.4" class="ax"/>
<line x1="501.06" y1="717.4" x2="501.06" y2="723.4" class="ax"/>
<line x1="513.17" y1="717.4" x2="513.17" y2="723.4" class="ax"/>
<line x1="525.28" y1="717.4" x2="525.28" y2="723.4" class="ax"/>
<line x1="537.39" y1="717.4" x2="537.39" y2="723.4" class="ax"/>
<line x1="549.5" y1="717.4" x2="549.5" y2="723.4" class="ax"/>
<line x1="561.61" y1="717.4" x2="561.61" y2="723.4" class="ax"/>
<line x1="573.72" y1="717.4" x2="573.72" y2="723.4" class="ax"/>
<line x1="585.83" y1="717.4" x2="585.83" y2="723.4" class="ax"/>
<line x1="597.94" y1="717.4" x2="597.94" y2="723.4" class="ax"/>
<line x1="610.05" y1="717.4" x2="610.05" y2="723.4" class="ax"/>
<line x1="622.16" y1="717.4" x2="622.16" y2="723.4" class="ax"/>
<line x1="65.1" y1="605.12" x2="65.1" y2="612.25" class="w"/><line x1="65.1" y1="646.12" x2="65.1" y2="658.48" class="w"/><line x1="64.2" y1="605.12" x2="66" y2="605.12" class="cap"/><line x1="64.2" y1="658.48" x2="66" y2="658.48" class="cap"/><rect x="63.55" y="612.25" width="3.1" height="33.87" fill="#ff0000" class="bx"/><line x1="63.55" y1="627.3" x2="66.65" y2="627.3" class="md"/>
<line x1="71.15" y1="627.3" x2="71.15" y2="646.52" class="w"/><line x1="71.15" y1="655.93" x2="71.15" y2="662.52" class="w"/><line x1="70.25" y1="627.3" x2="72.05" y2="627.3" class="cap"/><line x1="70.25" y1="662.52" x2="72.05" y2="662.52" class="cap"/><rect x="69.6" y="646.52" width="3.1" height="9.41" fill="#00c800" class="bx"/><line x1="69.6" y1="649.08" x2="72.7" y2="649.08" class="md"/>
<line x1="77.21" y1="590.61" x2="77.21" y2="599.48" class="w"/><line x1="77.21" y1="649.48" x2="77.21" y2="657.27" class="w"/><line x1="76.31" y1="590.61" x2="78.11" y2="590.61" class="cap"/><line x1="76.31" y1="657.27" x2="78.11" y2="657.27" class="cap"/><rect x="75.66" y="599.48" width="3.1" height="50" fill="#ff0000" class="bx"/><line x1="75.66" y1="625.55" x2="78.76" y2="625.55" class="md"/>
<line x1="83.26" y1="627.03" x2="83.26" y2="641.15" class="w"/><line x1="83.26" y1="654.59" x2="83.26" y2="661.31" class="w"/><line x1="82.36" y1="627.03" x2="84.16" y2="627.03" class="cap"/><line x1="82.36" y1="661.31" x2="84.16" y2="661.31" class="cap"/><rect x="81.71" y="641.15" width="3.1" height="13.44" fill="#00c800" class="bx"/><line x1="81.71" y1="649.08" x2="84.81" y2="649.08" class="md"/>
<line x1="89.32" y1="589.4" x2="89.32" y2="608.22" class="w"/><line x1="89.32" y1="625.55" x2="89.32" y2="645.45" class="w"/><line x1="88.42" y1="589.4" x2="90.22" y2="589.4" class="cap"/><line x1="88.42" y1="645.45" x2="90.22" y2="645.45" class="cap"/><rect x="87.77" y="608.22" width="3.1" height="17.34" fill="#ff0000" class="bx"/><line x1="87.77" y1="614.26" x2="90.87" y2="614.26" class="md"/>
<line x1="95.37" y1="605.39" x2="95.37" y2="633.08" class="w"/><line x1="95.37" y1="645.45" x2="95.37" y2="651.76" class="w"/><line x1="94.47" y1="605.39" x2="96.27" y2="605.39" class="cap"/><line x1="94.47" y1="651.76" x2="96.27" y2="651.76" class="cap"/><rect x="93.82" y="633.08" width="3.1" height="12.37" fill="#00c800" class="bx"/><line x1="93.82" y1="636.04" x2="96.92" y2="636.04" class="md"/>
<line x1="101.43" y1="571.25" x2="101.43" y2="585.63" class="w"/><line x1="101.43" y1="614.26" x2="101.43" y2="646.52" class="w"/><line x1="100.53" y1="571.25" x2="102.33" y2="571.25" class="cap"/><line x1="100.53" y1="646.52" x2="102.33" y2="646.52" class="cap"/><rect x="99.88" y="585.63" width="3.1" height="28.63" fill="#ff0000" class="bx"/><line x1="99.88" y1="604.45" x2="102.98" y2="604.45" class="md"/>
<line x1="107.48" y1="598.4" x2="107.48" y2="625.55" class="w"/><line x1="107.48" y1="649.08" x2="107.48" y2="653.51" class="w"/><line x1="106.58" y1="598.4" x2="108.38" y2="598.4" class="cap"/><line x1="106.58" y1="653.51" x2="108.38" y2="653.51" class="cap"/><rect x="105.93" y="625.55" width="3.1" height="23.52" fill="#00c800" class="bx"/><line x1="105.93" y1="638.46" x2="109.03" y2="638.46" class="md"/>
<line x1="113.54" y1="575.28" x2="113.54" y2="577.3" class="w"/><line x1="113.54" y1="613.46" x2="113.54" y2="644.77" class="w"/><line x1="112.64" y1="575.28" x2="114.44" y2="575.28" class="cap"/><line x1="112.64" y1="644.77" x2="114.44" y2="644.77" class="cap"/><rect x="111.99" y="577.3" width="3.1" height="36.16" fill="#ff0000" class="bx"/><line x1="111.99" y1="607.14" x2="115.09" y2="607.14" class="md"/>
<line x1="119.59" y1="625.28" x2="119.59" y2="634.29" class="w"/><line x1="119.59" y1="647.06" x2="119.59" y2="655.93" class="w"/><line x1="118.69" y1="625.28" x2="120.49" y2="625.28" class="cap"/><line x1="118.69" y1="655.93" x2="120.49" y2="655.93" class="cap"/><rect x="118.04" y="634.29" width="3.1" height="12.77" fill="#00c800" class="bx"/><line x1="118.04" y1="642.09" x2="121.14" y2="642.09" class="md"/>
<line x1="125.65" y1="566.15" x2="125.65" y2="582.27" class="w"/><line x1="125.65" y1="612.52" x2="125.65" y2="643.43" class="w"/><line x1="124.75" y1="566.15" x2="126.55" y2="566.15" class="cap"/><line x1="124.75" y1="643.43" x2="126.55" y2="643.43" class="cap"/><rect x="124.1" y="582.27" width="3.1" height="30.24" fill="#ff0000" class="bx"/><line x1="124.1" y1="604.45" x2="127.2" y2="604.45" class="md"/>
<line x1="131.7" y1="625.28" x2="131.7" y2="633.75" class="w"/><line x1="131.7" y1="649.21" x2="131.7" y2="655.26" class="w"/><line x1="130.8" y1="625.28" x2="132.6" y2="625.28" class="cap"/><line x1="130.8" y1="655.26" x2="132.6" y2="655.26" class="cap"/><rect x="130.15" y="633.75" width="3.1" height="15.46" fill="#00c800" class="bx"/><line x1="130.15" y1="639.4" x2="133.25" y2="639.4" class="md"/>
<line x1="137.76" y1="578.51" x2="137.76" y2="605.12" class="w"/><line x1="137.76" y1="637.38" x2="137.76" y2="652.44" class="w"/><line x1="136.86" y1="578.51" x2="138.66" y2="578.51" class="cap"/><line x1="136.86" y1="652.44" x2="138.66" y2="652.44" class="cap"/><rect x="136.21" y="605.12" width="3.1" height="32.26" fill="#ff0000" class="bx"/><line x1="136.21" y1="621.52" x2="139.31" y2="621.52" class="md"/>
<line x1="143.81" y1="637.78" x2="143.81" y2="643.16" class="w"/><line x1="143.81" y1="652.17" x2="143.81" y2="662.52" class="w"/><line x1="142.91" y1="637.78" x2="144.71" y2="637.78" class="cap"/><line x1="142.91" y1="662.52" x2="144.71" y2="662.52" class="cap"/><rect x="142.26" y="643.16" width="3.1" height="9.01" fill="#00c800" class="bx"/><line x1="142.26" y1="650.82" x2="145.36" y2="650.82" class="md"/>
<line x1="149.87" y1="607.14" x2="149.87" y2="611.17" class="w"/><line x1="149.87" y1="644.37" x2="149.87" y2="651.23" class="w"/><line x1="148.97" y1="607.14" x2="150.77" y2="607.14" class="cap"/><line x1="148.97" y1="651.23" x2="150.77" y2="651.23" class="cap"/><rect x="148.32" y="611.17" width="3.1" height="33.2" fill="#ff0000" class="bx"/><line x1="148.32" y1="623.27" x2="151.42" y2="623.27" class="md"/>
<line x1="155.92" y1="635.37" x2="155.92" y2="640.34" class="w"/><line x1="155.92" y1="651.49" x2="155.92" y2="661.31" class="w"/><line x1="155.02" y1="635.37" x2="156.82" y2="635.37" class="cap"/><line x1="155.02" y1="661.31" x2="156.82" y2="661.31" class="cap"/><rect x="154.37" y="640.34" width="3.1" height="11.16" fill="#00c800" class="bx"/><line x1="154.37" y1="646.39" x2="157.47" y2="646.39" class="md"/>
<line x1="161.98" y1="572.19" x2="161.98" y2="597.33" class="w"/><line x1="161.98" y1="629.32" x2="161.98" y2="653.11" class="w"/><line x1="161.08" y1="572.19" x2="162.88" y2="572.19" class="cap"/><line x1="161.08" y1="653.11" x2="162.88" y2="653.11" class="cap"/><rect x="160.43" y="597.33" width="3.1" height="31.99" fill="#ff0000" class="bx"/><line x1="160.43" y1="611.17" x2="163.53" y2="611.17" class="md"/>
<line x1="168.03" y1="617.89" x2="168.03" y2="629.05" class="w"/><line x1="168.03" y1="651.49" x2="168.03" y2="655.53" class="w"/><line x1="167.13" y1="617.89" x2="168.93" y2="617.89" class="cap"/><line x1="167.13" y1="655.53" x2="168.93" y2="655.53" class="cap"/><rect x="166.48" y="629.05" width="3.1" height="22.45" fill="#00c800" class="bx"/><line x1="166.48" y1="638.32" x2="169.58" y2="638.32" class="md"/>
<line x1="174.09" y1="583.62" x2="174.09" y2="585.9" class="w"/><line x1="174.09" y1="627.3" x2="174.09" y2="646.79" class="w"/><line x1="173.19" y1="583.62" x2="174.99" y2="583.62" class="cap"/><line x1="173.19" y1="646.79" x2="174.99" y2="646.79" class="cap"/><rect x="172.54" y="585.9" width="3.1" height="41.4" fill="#ff0000" class="bx"/><line x1="172.54" y1="617.22" x2="175.64" y2="617.22" class="md"/>
<line x1="180.14" y1="621.25" x2="180.14" y2="633.08" class="w"/><line x1="180.14" y1="650.55" x2="180.14" y2="657.14" class="w"/><line x1="179.24" y1="621.25" x2="181.04" y2="621.25" class="cap"/><line x1="179.24" y1="657.14" x2="181.04" y2="657.14" class="cap"/><rect x="178.59" y="633.08" width="3.1" height="17.47" fill="#00c800" class="bx"/><line x1="178.59" y1="641.41" x2="181.69" y2="641.41" class="md"/>
<line x1="186.2" y1="561.04" x2="186.2" y2="571.92" class="w"/><line x1="186.2" y1="628.38" x2="186.2" y2="639.4" class="w"/><line x1="185.3" y1="561.04" x2="187.1" y2="561.04" class="cap"/><line x1="185.3" y1="639.4" x2="187.1" y2="639.4" class="cap"/><rect x="184.65" y="571.92" width="3.1" height="56.45" fill="#ff0000" class="bx"/><line x1="184.65" y1="591.41" x2="187.75" y2="591.41" class="md"/>
<line x1="192.25" y1="610.5" x2="192.25" y2="625.02" class="w"/><line x1="192.25" y1="643.43" x2="192.25" y2="646.39" class="w"/><line x1="191.35" y1="610.5" x2="193.15" y2="610.5" class="cap"/><line x1="191.35" y1="646.39" x2="193.15" y2="646.39" class="cap"/><rect x="190.7" y="625.02" width="3.1" height="18.41" fill="#00c800" class="bx"/><line x1="190.7" y1="629.32" x2="193.8" y2="629.32" class="md"/>
<line x1="198.31" y1="567.49" x2="198.31" y2="572.87" class="w"/><line x1="198.31" y1="629.05" x2="198.31" y2="635.63" class="w"/><line x1="197.41" y1="567.49" x2="199.21" y2="567.49" class="cap"/><line x1="197.41" y1="635.63" x2="199.21" y2="635.63" class="cap"/><rect x="196.76" y="572.87" width="3.1" height="56.18" fill="#ff0000" class="bx"/><line x1="196.76" y1="603.11" x2="199.86" y2="603.11" class="md"/>
<line x1="204.36" y1="611.17" x2="204.36" y2="629.32" class="w"/><line x1="204.36" y1="643.16" x2="204.36" y2="645.72" class="w"/><line x1="203.46" y1="611.17" x2="205.26" y2="611.17" class="cap"/><line x1="203.46" y1="645.72" x2="205.26" y2="645.72" class="cap"/><rect x="202.81" y="629.32" width="3.1" height="13.84" fill="#00c800" class="bx"/><line x1="202.81" y1="631.33" x2="205.91" y2="631.33" class="md"/>
<line x1="210.42" y1="564.4" x2="210.42" y2="575.96" class="w"/><line x1="210.42" y1="621.52" x2="210.42" y2="636.31" class="w"/><line x1="209.52" y1="564.4" x2="211.32" y2="564.4" class="cap"/><line x1="209.52" y1="636.31" x2="211.32" y2="636.31" class="cap"/><rect x="208.87" y="575.96" width="3.1" height="45.56" fill="#ff0000" class="bx"/><line x1="208.87" y1="602.44" x2="211.97" y2="602.44" class="md"/>
<line x1="216.47" y1="599.08" x2="216.47" y2="623.54" class="w"/><line x1="216.47" y1="653.51" x2="216.47" y2="656.2" class="w"/><line x1="215.57" y1="599.08" x2="217.37" y2="599.08" class="cap"/><line x1="215.57" y1="656.2" x2="217.37" y2="656.2" class="cap"/><rect x="214.92" y="623.54" width="3.1" height="29.97" fill="#00c800" class="bx"/><line x1="214.92" y1="644.37" x2="218.02" y2="644.37" class="md"/>
<line x1="222.53" y1="567.09" x2="222.53" y2="577.97" class="w"/><line x1="222.53" y1="612.52" x2="222.53" y2="642.09" class="w"/><line x1="221.63" y1="567.09" x2="223.43" y2="567.09" class="cap"/><line x1="221.63" y1="642.09" x2="223.43" y2="642.09" class="cap"/><rect x="220.98" y="577.97" width="3.1" height="34.54" fill="#ff0000" class="bx"/><line x1="220.98" y1="599.34" x2="224.08" y2="599.34" class="md"/>
<line x1="228.58" y1="595.45" x2="228.58" y2="627.03" class="w"/><line x1="228.58" y1="647.46" x2="228.58" y2="655.53" class="w"/><line x1="227.68" y1="595.45" x2="229.48" y2="595.45" class="cap"/><line x1="227.68" y1="655.53" x2="229.48" y2="655.53" class="cap"/><rect x="227.03" y="627.03" width="3.1" height="20.43" fill="#00c800" class="bx"/><line x1="227.03" y1="637.38" x2="230.13" y2="637.38" class="md"/>
<line x1="234.64" y1="567.09" x2="234.64" y2="572.6" class="w"/><line x1="234.64" y1="600.42" x2="234.64" y2="635.1" class="w"/><line x1="233.74" y1="567.09" x2="235.54" y2="567.09" class="cap"/><line x1="233.74" y1="635.1" x2="235.54" y2="635.1" class="cap"/><rect x="233.09" y="572.6" width="3.1" height="27.82" fill="#ff0000" class="bx"/><line x1="233.09" y1="598.81" x2="236.19" y2="598.81" class="md"/>
<line x1="240.69" y1="596.12" x2="240.69" y2="626.23" class="w"/><line x1="240.69" y1="643.03" x2="240.69" y2="649.48" class="w"/><line x1="239.79" y1="596.12" x2="241.59" y2="596.12" class="cap"/><line x1="239.79" y1="649.48" x2="241.59" y2="649.48" class="cap"/><rect x="239.14" y="626.23" width="3.1" height="16.8" fill="#00c800" class="bx"/><line x1="239.14" y1="634.42" x2="242.24" y2="634.42" class="md"/>
<line x1="246.75" y1="561.04" x2="246.75" y2="574.21" class="w"/><line x1="246.75" y1="609.83" x2="246.75" y2="639.67" class="w"/><line x1="245.85" y1="561.04" x2="247.65" y2="561.04" class="cap"/><line x1="245.85" y1="639.67" x2="247.65" y2="639.67" class="cap"/><rect x="245.2" y="574.21" width="3.1" height="35.62" fill="#ff0000" class="bx"/><line x1="245.2" y1="598.4" x2="248.3" y2="598.4" class="md"/>
<line x1="252.8" y1="600.02" x2="252.8" y2="625.69" class="w"/><line x1="252.8" y1="639.67" x2="252.8" y2="644.37" class="w"/><line x1="251.9" y1="600.02" x2="253.7" y2="600.02" class="cap"/><line x1="251.9" y1="644.37" x2="253.7" y2="644.37" class="cap"/><rect x="251.25" y="625.69" width="3.1" height="13.98" fill="#00c800" class="bx"/><line x1="251.25" y1="631.33" x2="254.35" y2="631.33" class="md"/>
<line x1="258.86" y1="560.37" x2="258.86" y2="582.95" class="w"/><line x1="258.86" y1="604.45" x2="258.86" y2="641.41" class="w"/><line x1="257.96" y1="560.37" x2="259.76" y2="560.37" class="cap"/><line x1="257.96" y1="641.41" x2="259.76" y2="641.41" class="cap"/><rect x="257.31" y="582.95" width="3.1" height="21.51" fill="#ff0000" class="bx"/><line x1="257.31" y1="600.42" x2="260.41" y2="600.42" class="md"/>
<line x1="264.91" y1="601.36" x2="264.91" y2="631.6" class="w"/><line x1="264.91" y1="651.09" x2="264.91" y2="654.45" class="w"/><line x1="264.01" y1="601.36" x2="265.81" y2="601.36" class="cap"/><line x1="264.01" y1="654.45" x2="265.81" y2="654.45" class="cap"/><rect x="263.36" y="631.6" width="3.1" height="19.49" fill="#00c800" class="bx"/><line x1="263.36" y1="636.31" x2="266.46" y2="636.31" class="md"/>
<line x1="270.97" y1="568.16" x2="270.97" y2="591.41" class="w"/><line x1="270.97" y1="610.9" x2="270.97" y2="635.37" class="w"/><line x1="270.07" y1="568.16" x2="271.87" y2="568.16" class="cap"/><line x1="270.07" y1="635.37" x2="271.87" y2="635.37" class="cap"/><rect x="269.42" y="591.41" width="3.1" height="19.49" fill="#ff0000" class="bx"/><line x1="269.42" y1="600.42" x2="272.52" y2="600.42" class="md"/>
<line x1="277.02" y1="604.45" x2="277.02" y2="633.08" class="w"/><line x1="277.02" y1="647.46" x2="277.02" y2="652.57" class="w"/><line x1="276.12" y1="604.45" x2="277.92" y2="604.45" class="cap"/><line x1="276.12" y1="652.57" x2="277.92" y2="652.57" class="cap"/><rect x="275.47" y="633.08" width="3.1" height="14.38" fill="#00c800" class="bx"/><line x1="275.47" y1="639.13" x2="278.57" y2="639.13" class="md"/>
<line x1="283.08" y1="570.45" x2="283.08" y2="576.49" class="w"/><line x1="283.08" y1="618.16" x2="283.08" y2="643.43" class="w"/><line x1="282.18" y1="570.45" x2="283.98" y2="570.45" class="cap"/><line x1="282.18" y1="643.43" x2="283.98" y2="643.43" class="cap"/><rect x="281.53" y="576.49" width="3.1" height="41.67" fill="#ff0000" class="bx"/><line x1="281.53" y1="595.31" x2="284.63" y2="595.31" class="md"/>
<line x1="289.13" y1="618.3" x2="289.13" y2="634.69" class="w"/><line x1="289.13" y1="648.4" x2="289.13" y2="652.44" class="w"/><line x1="288.23" y1="618.3" x2="290.03" y2="618.3" class="cap"/><line x1="288.23" y1="652.44" x2="290.03" y2="652.44" class="cap"/><rect x="287.58" y="634.69" width="3.1" height="13.71" fill="#00c800" class="bx"/><line x1="287.58" y1="637.38" x2="290.68" y2="637.38" class="md"/>
<line x1="295.19" y1="579.32" x2="295.19" y2="584.29" class="w"/><line x1="295.19" y1="618.16" x2="295.19" y2="649.48" class="w"/><line x1="294.29" y1="579.32" x2="296.09" y2="579.32" class="cap"/><line x1="294.29" y1="649.48" x2="296.09" y2="649.48" class="cap"/><rect x="293.64" y="584.29" width="3.1" height="33.87" fill="#ff0000" class="bx"/><line x1="293.64" y1="605.39" x2="296.74" y2="605.39" class="md"/>
<line x1="301.24" y1="621.25" x2="301.24" y2="635.37" class="w"/><line x1="301.24" y1="647.06" x2="301.24" y2="655.26" class="w"/><line x1="300.34" y1="621.25" x2="302.14" y2="621.25" class="cap"/><line x1="300.34" y1="655.26" x2="302.14" y2="655.26" class="cap"/><rect x="299.69" y="635.37" width="3.1" height="11.69" fill="#00c800" class="bx"/><line x1="299.69" y1="641.68" x2="302.79" y2="641.68" class="md"/>
<line x1="307.3" y1="568.43" x2="307.3" y2="583.62" class="w"/><line x1="307.3" y1="608.48" x2="307.3" y2="637.38" class="w"/><line x1="306.4" y1="568.43" x2="308.2" y2="568.43" class="cap"/><line x1="306.4" y1="637.38" x2="308.2" y2="637.38" class="cap"/><rect x="305.75" y="583.62" width="3.1" height="24.87" fill="#ff0000" class="bx"/><line x1="305.75" y1="598.4" x2="308.85" y2="598.4" class="md"/>
<line x1="313.35" y1="605.39" x2="313.35" y2="627.03" class="w"/><line x1="313.35" y1="645.85" x2="313.35" y2="650.42" class="w"/><line x1="312.45" y1="605.39" x2="314.25" y2="605.39" class="cap"/><line x1="312.45" y1="650.42" x2="314.25" y2="650.42" class="cap"/><rect x="311.8" y="627.03" width="3.1" height="18.82" fill="#00c800" class="bx"/><line x1="311.8" y1="633.35" x2="314.9" y2="633.35" class="md"/>
<line x1="319.41" y1="571.52" x2="319.41" y2="587.25" class="w"/><line x1="319.41" y1="610.77" x2="319.41" y2="641.01" class="w"/><line x1="318.51" y1="571.52" x2="320.31" y2="571.52" class="cap"/><line x1="318.51" y1="641.01" x2="320.31" y2="641.01" class="cap"/><rect x="317.86" y="587.25" width="3.1" height="23.52" fill="#ff0000" class="bx"/><line x1="317.86" y1="599.48" x2="320.96" y2="599.48" class="md"/>
<line x1="325.46" y1="609.42" x2="325.46" y2="631.6" class="w"/><line x1="325.46" y1="645.04" x2="325.46" y2="649.08" class="w"/><line x1="324.56" y1="609.42" x2="326.36" y2="609.42" class="cap"/><line x1="324.56" y1="649.08" x2="326.36" y2="649.08" class="cap"/><rect x="323.91" y="631.6" width="3.1" height="13.44" fill="#00c800" class="bx"/><line x1="323.91" y1="635.1" x2="327.01" y2="635.1" class="md"/>
<line x1="331.52" y1="599.34" x2="331.52" y2="607.14" class="w"/><line x1="331.52" y1="659.29" x2="331.52" y2="666.28" class="w"/><line x1="330.62" y1="599.34" x2="332.42" y2="599.34" class="cap"/><line x1="330.62" y1="666.28" x2="332.42" y2="666.28" class="cap"/><rect x="329.97" y="607.14" width="3.1" height="52.15" fill="#ff0000" class="bx"/><line x1="329.97" y1="619.24" x2="333.07" y2="619.24" class="md"/>
<line x1="337.57" y1="612.25" x2="337.57" y2="641.01" class="w"/><line x1="337.57" y1="654.85" x2="337.57" y2="664.26" class="w"/><line x1="336.67" y1="612.25" x2="338.47" y2="612.25" class="cap"/><line x1="336.67" y1="664.26" x2="338.47" y2="664.26" class="cap"/><rect x="336.02" y="641.01" width="3.1" height="13.84" fill="#00c800" class="bx"/><line x1="336.02" y1="645.85" x2="339.12" y2="645.85" class="md"/>
<line x1="343.63" y1="574.48" x2="343.63" y2="587.25" class="w"/><line x1="343.63" y1="638.73" x2="343.63" y2="644.1" class="w"/><line x1="342.73" y1="574.48" x2="344.53" y2="574.48" class="cap"/><line x1="342.73" y1="644.1" x2="344.53" y2="644.1" class="cap"/><rect x="342.08" y="587.25" width="3.1" height="51.48" fill="#ff0000" class="bx"/><line x1="342.08" y1="619.24" x2="345.18" y2="619.24" class="md"/>
<line x1="349.68" y1="634.42" x2="349.68" y2="642.35" class="w"/><line x1="349.68" y1="652.44" x2="349.68" y2="666.28" class="w"/><line x1="348.78" y1="634.42" x2="350.58" y2="634.42" class="cap"/><line x1="348.78" y1="666.28" x2="350.58" y2="666.28" class="cap"/><rect x="348.13" y="642.35" width="3.1" height="10.08" fill="#00c800" class="bx"/><line x1="348.13" y1="650.42" x2="351.23" y2="650.42" class="md"/>
<line x1="355.74" y1="594.77" x2="355.74" y2="600.69" class="w"/><line x1="355.74" y1="637.38" x2="355.74" y2="648.13" class="w"/><line x1="354.84" y1="594.77" x2="356.64" y2="594.77" class="cap"/><line x1="354.84" y1="648.13" x2="356.64" y2="648.13" class="cap"/><rect x="354.19" y="600.69" width="3.1" height="36.69" fill="#ff0000" class="bx"/><line x1="354.19" y1="620.58" x2="357.29" y2="620.58" class="md"/>
<line x1="361.79" y1="636.04" x2="361.79" y2="644.51" class="w"/><line x1="361.79" y1="654.85" x2="361.79" y2="666.28" class="w"/><line x1="360.89" y1="636.04" x2="362.69" y2="636.04" class="cap"/><line x1="360.89" y1="666.28" x2="362.69" y2="666.28" class="cap"/><rect x="360.24" y="644.51" width="3.1" height="10.35" fill="#00c800" class="bx"/><line x1="360.24" y1="650.15" x2="363.34" y2="650.15" class="md"/>
<line x1="367.85" y1="561.44" x2="367.85" y2="594.37" class="w"/><line x1="367.85" y1="618.16" x2="367.85" y2="645.45" class="w"/><line x1="366.95" y1="561.44" x2="368.75" y2="561.44" class="cap"/><line x1="366.95" y1="645.45" x2="368.75" y2="645.45" class="cap"/><rect x="366.3" y="594.37" width="3.1" height="23.79" fill="#ff0000" class="bx"/><line x1="366.3" y1="614.26" x2="369.4" y2="614.26" class="md"/>
<line x1="373.9" y1="622.19" x2="373.9" y2="631.6" class="w"/><line x1="373.9" y1="647.46" x2="373.9" y2="660.63" class="w"/><line x1="373" y1="622.19" x2="374.8" y2="622.19" class="cap"/><line x1="373" y1="660.63" x2="374.8" y2="660.63" class="cap"/><rect x="372.35" y="631.6" width="3.1" height="15.86" fill="#00c800" class="bx"/><line x1="372.35" y1="639.4" x2="375.45" y2="639.4" class="md"/>
<line x1="379.96" y1="572.87" x2="379.96" y2="598.4" class="w"/><line x1="379.96" y1="626.36" x2="379.96" y2="640.74" class="w"/><line x1="379.06" y1="572.87" x2="380.86" y2="572.87" class="cap"/><line x1="379.06" y1="640.74" x2="380.86" y2="640.74" class="cap"/><rect x="378.41" y="598.4" width="3.1" height="27.96" fill="#ff0000" class="bx"/><line x1="378.41" y1="614.26" x2="381.51" y2="614.26" class="md"/>
<line x1="386.01" y1="625.55" x2="386.01" y2="634.69" class="w"/><line x1="386.01" y1="647.46" x2="386.01" y2="658.48" class="w"/><line x1="385.11" y1="625.55" x2="386.91" y2="625.55" class="cap"/><line x1="385.11" y1="658.48" x2="386.91" y2="658.48" class="cap"/><rect x="384.46" y="634.69" width="3.1" height="12.77" fill="#00c800" class="bx"/><line x1="384.46" y1="639.4" x2="387.56" y2="639.4" class="md"/>
<line x1="392.07" y1="579.18" x2="392.07" y2="588.99" class="w"/><line x1="392.07" y1="625.96" x2="392.07" y2="650.42" class="w"/><line x1="391.17" y1="579.18" x2="392.97" y2="579.18" class="cap"/><line x1="391.17" y1="650.42" x2="392.97" y2="650.42" class="cap"/><rect x="390.52" y="588.99" width="3.1" height="36.96" fill="#ff0000" class="bx"/><line x1="390.52" y1="616.55" x2="393.62" y2="616.55" class="md"/>
<line x1="398.12" y1="623" x2="398.12" y2="623.54" class="w"/><line x1="398.12" y1="650.55" x2="398.12" y2="666.28" class="w"/><line x1="397.22" y1="623" x2="399.02" y2="623" class="cap"/><line x1="397.22" y1="666.28" x2="399.02" y2="666.28" class="cap"/><rect x="396.57" y="623.54" width="3.1" height="27.02" fill="#00c800" class="bx"/><line x1="396.57" y1="641.15" x2="399.67" y2="641.15" class="md"/>
<line x1="404.18" y1="574.48" x2="404.18" y2="593.97" class="w"/><line x1="404.18" y1="621.25" x2="404.18" y2="642.76" class="w"/><line x1="403.28" y1="574.48" x2="405.08" y2="574.48" class="cap"/><line x1="403.28" y1="642.76" x2="405.08" y2="642.76" class="cap"/><rect x="402.63" y="593.97" width="3.1" height="27.28" fill="#ff0000" class="bx"/><line x1="402.63" y1="608.48" x2="405.73" y2="608.48" class="md"/>
<line x1="410.23" y1="598.4" x2="410.23" y2="628.38" class="w"/><line x1="410.23" y1="648.13" x2="410.23" y2="648.13" class="w"/><line x1="409.33" y1="598.4" x2="411.13" y2="598.4" class="cap"/><line x1="409.33" y1="648.13" x2="411.13" y2="648.13" class="cap"/><rect x="408.68" y="628.38" width="3.1" height="19.76" fill="#00c800" class="bx"/><line x1="408.68" y1="633.08" x2="411.78" y2="633.08" class="md"/>
<line x1="416.29" y1="584.29" x2="416.29" y2="589.26" class="w"/><line x1="416.29" y1="630.39" x2="416.29" y2="643.43" class="w"/><line x1="415.39" y1="584.29" x2="417.19" y2="584.29" class="cap"/><line x1="415.39" y1="643.43" x2="417.19" y2="643.43" class="cap"/><rect x="414.74" y="589.26" width="3.1" height="41.13" fill="#ff0000" class="bx"/><line x1="414.74" y1="614.26" x2="417.84" y2="614.26" class="md"/>
<line x1="422.34" y1="600.42" x2="422.34" y2="628.38" class="w"/><line x1="422.34" y1="643.43" x2="422.34" y2="648.4" class="w"/><line x1="421.44" y1="600.42" x2="423.24" y2="600.42" class="cap"/><line x1="421.44" y1="648.4" x2="423.24" y2="648.4" class="cap"/><rect x="420.79" y="628.38" width="3.1" height="15.05" fill="#00c800" class="bx"/><line x1="420.79" y1="633.35" x2="423.89" y2="633.35" class="md"/>
<line x1="428.4" y1="591.28" x2="428.4" y2="601.09" class="w"/><line x1="428.4" y1="635.1" x2="428.4" y2="644.77" class="w"/><line x1="427.5" y1="591.28" x2="429.3" y2="591.28" class="cap"/><line x1="427.5" y1="644.77" x2="429.3" y2="644.77" class="cap"/><rect x="426.85" y="601.09" width="3.1" height="34.01" fill="#ff0000" class="bx"/><line x1="426.85" y1="617.22" x2="429.95" y2="617.22" class="md"/>
<line x1="434.45" y1="645.45" x2="434.45" y2="645.85" class="w"/><line x1="434.45" y1="654.45" x2="434.45" y2="661.58" class="w"/><line x1="433.55" y1="645.45" x2="435.35" y2="645.45" class="cap"/><line x1="433.55" y1="661.58" x2="435.35" y2="661.58" class="cap"/><rect x="432.9" y="645.85" width="3.1" height="8.6" fill="#00c800" class="bx"/><line x1="432.9" y1="652.17" x2="436" y2="652.17" class="md"/>
<line x1="440.51" y1="594.37" x2="440.51" y2="602.44" class="w"/><line x1="440.51" y1="632.01" x2="440.51" y2="644.1" class="w"/><line x1="439.61" y1="594.37" x2="441.41" y2="594.37" class="cap"/><line x1="439.61" y1="644.1" x2="441.41" y2="644.1" class="cap"/><rect x="438.96" y="602.44" width="3.1" height="29.57" fill="#ff0000" class="bx"/><line x1="438.96" y1="609.42" x2="442.06" y2="609.42" class="md"/>
<line x1="446.56" y1="639.13" x2="446.56" y2="643.16" class="w"/><line x1="446.56" y1="657.54" x2="446.56" y2="661.31" class="w"/><line x1="445.66" y1="639.13" x2="447.46" y2="639.13" class="cap"/><line x1="445.66" y1="661.31" x2="447.46" y2="661.31" class="cap"/><rect x="445.01" y="643.16" width="3.1" height="14.38" fill="#00c800" class="bx"/><line x1="445.01" y1="651.23" x2="448.11" y2="651.23" class="md"/>
<line x1="452.62" y1="566.15" x2="452.62" y2="597.73" class="w"/><line x1="452.62" y1="620.85" x2="452.62" y2="641.68" class="w"/><line x1="451.72" y1="566.15" x2="453.52" y2="566.15" class="cap"/><line x1="451.72" y1="641.68" x2="453.52" y2="641.68" class="cap"/><rect x="451.07" y="597.73" width="3.1" height="23.12" fill="#ff0000" class="bx"/><line x1="451.07" y1="604.85" x2="454.17" y2="604.85" class="md"/>
<line x1="458.67" y1="626.36" x2="458.67" y2="633.35" class="w"/><line x1="458.67" y1="649.75" x2="458.67" y2="653.78" class="w"/><line x1="457.77" y1="626.36" x2="459.57" y2="626.36" class="cap"/><line x1="457.77" y1="653.78" x2="459.57" y2="653.78" class="cap"/><rect x="457.12" y="633.35" width="3.1" height="16.4" fill="#00c800" class="bx"/><line x1="457.12" y1="642.49" x2="460.22" y2="642.49" class="md"/>
<line x1="464.73" y1="577.17" x2="464.73" y2="598.4" class="w"/><line x1="464.73" y1="611.17" x2="464.73" y2="637.38" class="w"/><line x1="463.83" y1="577.17" x2="465.63" y2="577.17" class="cap"/><line x1="463.83" y1="637.38" x2="465.63" y2="637.38" class="cap"/><rect x="463.18" y="598.4" width="3.1" height="12.77" fill="#ff0000" class="bx"/><line x1="463.18" y1="603.11" x2="466.28" y2="603.11" class="md"/>
<line x1="470.78" y1="625.28" x2="470.78" y2="634.42" class="w"/><line x1="470.78" y1="647.46" x2="470.78" y2="654.85" class="w"/><line x1="469.88" y1="625.28" x2="471.68" y2="625.28" class="cap"/><line x1="469.88" y1="654.85" x2="471.68" y2="654.85" class="cap"/><rect x="469.23" y="634.42" width="3.1" height="13.04" fill="#00c800" class="bx"/><line x1="469.23" y1="645.45" x2="472.33" y2="645.45" class="md"/>
<line x1="476.84" y1="554.45" x2="476.84" y2="585.37" class="w"/><line x1="476.84" y1="633.35" x2="476.84" y2="645.45" class="w"/><line x1="475.94" y1="554.45" x2="477.74" y2="554.45" class="cap"/><line x1="475.94" y1="645.45" x2="477.74" y2="645.45" class="cap"/><rect x="475.29" y="585.37" width="3.1" height="47.98" fill="#ff0000" class="bx"/><line x1="475.29" y1="604.45" x2="478.39" y2="604.45" class="md"/>
<line x1="482.89" y1="614.26" x2="482.89" y2="629.32" class="w"/><line x1="482.89" y1="650.82" x2="482.89" y2="653.24" class="w"/><line x1="481.99" y1="614.26" x2="483.79" y2="614.26" class="cap"/><line x1="481.99" y1="653.24" x2="483.79" y2="653.24" class="cap"/><rect x="481.34" y="629.32" width="3.1" height="21.51" fill="#00c800" class="bx"/><line x1="481.34" y1="638.32" x2="484.44" y2="638.32" class="md"/>
<line x1="488.95" y1="563.46" x2="488.95" y2="577.57" class="w"/><line x1="488.95" y1="617.49" x2="488.95" y2="636.04" class="w"/><line x1="488.05" y1="563.46" x2="489.85" y2="563.46" class="cap"/><line x1="488.05" y1="636.04" x2="489.85" y2="636.04" class="cap"/><rect x="487.4" y="577.57" width="3.1" height="39.92" fill="#ff0000" class="bx"/><line x1="487.4" y1="603.38" x2="490.5" y2="603.38" class="md"/>
<line x1="495" y1="616.82" x2="495" y2="633.62" class="w"/><line x1="495" y1="647.46" x2="495" y2="652.17" class="w"/><line x1="494.1" y1="616.82" x2="495.9" y2="616.82" class="cap"/><line x1="494.1" y1="652.17" x2="495.9" y2="652.17" class="cap"/><rect x="493.45" y="633.62" width="3.1" height="13.84" fill="#00c800" class="bx"/><line x1="493.45" y1="638.32" x2="496.55" y2="638.32" class="md"/>
<line x1="501.06" y1="579.85" x2="501.06" y2="579.99" class="w"/><line x1="501.06" y1="621.25" x2="501.06" y2="644.37" class="w"/><line x1="500.16" y1="579.85" x2="501.96" y2="579.85" class="cap"/><line x1="500.16" y1="644.37" x2="501.96" y2="644.37" class="cap"/><rect x="499.51" y="579.99" width="3.1" height="41.26" fill="#ff0000" class="bx"/><line x1="499.51" y1="611.44" x2="502.61" y2="611.44" class="md"/>
<line x1="507.11" y1="615.2" x2="507.11" y2="639.4" class="w"/><line x1="507.11" y1="654.85" x2="507.11" y2="659.29" class="w"/><line x1="506.21" y1="615.2" x2="508.01" y2="615.2" class="cap"/><line x1="506.21" y1="659.29" x2="508.01" y2="659.29" class="cap"/><rect x="505.56" y="639.4" width="3.1" height="15.46" fill="#00c800" class="bx"/><line x1="505.56" y1="647.46" x2="508.66" y2="647.46" class="md"/>
<line x1="513.17" y1="586.31" x2="513.17" y2="600.42" class="w"/><line x1="513.17" y1="617.49" x2="513.17" y2="644.37" class="w"/><line x1="512.27" y1="586.31" x2="514.07" y2="586.31" class="cap"/><line x1="512.27" y1="644.37" x2="514.07" y2="644.37" class="cap"/><rect x="511.62" y="600.42" width="3.1" height="17.07" fill="#ff0000" class="bx"/><line x1="511.62" y1="609.42" x2="514.72" y2="609.42" class="md"/>
<line x1="519.22" y1="609.56" x2="519.22" y2="641.15" class="w"/><line x1="519.22" y1="652.17" x2="519.22" y2="659.83" class="w"/><line x1="518.32" y1="609.56" x2="520.12" y2="609.56" class="cap"/><line x1="518.32" y1="659.83" x2="520.12" y2="659.83" class="cap"/><rect x="517.67" y="641.15" width="3.1" height="11.02" fill="#00c800" class="bx"/><line x1="517.67" y1="642.76" x2="520.77" y2="642.76" class="md"/>
<line x1="525.28" y1="569.24" x2="525.28" y2="596.66" class="w"/><line x1="525.28" y1="621.52" x2="525.28" y2="640.74" class="w"/><line x1="524.38" y1="569.24" x2="526.18" y2="569.24" class="cap"/><line x1="524.38" y1="640.74" x2="526.18" y2="640.74" class="cap"/><rect x="523.73" y="596.66" width="3.1" height="24.87" fill="#ff0000" class="bx"/><line x1="523.73" y1="603.38" x2="526.83" y2="603.38" class="md"/>
<line x1="531.33" y1="598.4" x2="531.33" y2="629.32" class="w"/><line x1="531.33" y1="648.13" x2="531.33" y2="649.08" class="w"/><line x1="530.43" y1="598.4" x2="532.23" y2="598.4" class="cap"/><line x1="530.43" y1="649.08" x2="532.23" y2="649.08" class="cap"/><rect x="529.78" y="629.32" width="3.1" height="18.82" fill="#00c800" class="bx"/><line x1="529.78" y1="633.35" x2="532.88" y2="633.35" class="md"/>
<line x1="537.39" y1="579.85" x2="537.39" y2="583.22" class="w"/><line x1="537.39" y1="629.32" x2="537.39" y2="640.34" class="w"/><line x1="536.49" y1="579.85" x2="538.29" y2="579.85" class="cap"/><line x1="536.49" y1="640.34" x2="538.29" y2="640.34" class="cap"/><rect x="535.84" y="583.22" width="3.1" height="46.1" fill="#ff0000" class="bx"/><line x1="535.84" y1="613.46" x2="538.94" y2="613.46" class="md"/>
<line x1="543.44" y1="607.14" x2="543.44" y2="633.35" class="w"/><line x1="543.44" y1="647.73" x2="543.44" y2="651.49" class="w"/><line x1="542.54" y1="607.14" x2="544.34" y2="607.14" class="cap"/><line x1="542.54" y1="651.49" x2="544.34" y2="651.49" class="cap"/><rect x="541.89" y="633.35" width="3.1" height="14.38" fill="#00c800" class="bx"/><line x1="541.89" y1="636.31" x2="544.99" y2="636.31" class="md"/>
<line x1="549.5" y1="571.79" x2="549.5" y2="578.65" class="w"/><line x1="549.5" y1="610.77" x2="549.5" y2="639.13" class="w"/><line x1="548.6" y1="571.79" x2="550.4" y2="571.79" class="cap"/><line x1="548.6" y1="639.13" x2="550.4" y2="639.13" class="cap"/><rect x="547.95" y="578.65" width="3.1" height="32.12" fill="#ff0000" class="bx"/><line x1="547.95" y1="601.36" x2="551.05" y2="601.36" class="md"/>
<line x1="555.55" y1="606.74" x2="555.55" y2="634.02" class="w"/><line x1="555.55" y1="648.13" x2="555.55" y2="651.23" class="w"/><line x1="554.65" y1="606.74" x2="556.45" y2="606.74" class="cap"/><line x1="554.65" y1="651.23" x2="556.45" y2="651.23" class="cap"/><rect x="554" y="634.02" width="3.1" height="14.11" fill="#00c800" class="bx"/><line x1="554" y1="634.69" x2="557.1" y2="634.69" class="md"/>
<line x1="561.61" y1="567.76" x2="561.61" y2="575.28" class="w"/><line x1="561.61" y1="616.28" x2="561.61" y2="639.4" class="w"/><line x1="560.71" y1="567.76" x2="562.51" y2="567.76" class="cap"/><line x1="560.71" y1="639.4" x2="562.51" y2="639.4" class="cap"/><rect x="560.06" y="575.28" width="3.1" height="40.99" fill="#ff0000" class="bx"/><line x1="560.06" y1="600.42" x2="563.16" y2="600.42" class="md"/>
<line x1="567.66" y1="613.46" x2="567.66" y2="633.08" class="w"/><line x1="567.66" y1="646.52" x2="567.66" y2="650.42" class="w"/><line x1="566.76" y1="613.46" x2="568.56" y2="613.46" class="cap"/><line x1="566.76" y1="650.42" x2="568.56" y2="650.42" class="cap"/><rect x="566.11" y="633.08" width="3.1" height="13.44" fill="#00c800" class="bx"/><line x1="566.11" y1="637.38" x2="569.21" y2="637.38" class="md"/>
<line x1="573.72" y1="569.24" x2="573.72" y2="577.84" class="w"/><line x1="573.72" y1="631.33" x2="573.72" y2="654.45" class="w"/><line x1="572.82" y1="569.24" x2="574.62" y2="569.24" class="cap"/><line x1="572.82" y1="654.45" x2="574.62" y2="654.45" class="cap"/><rect x="572.17" y="577.84" width="3.1" height="53.49" fill="#ff0000" class="bx"/><line x1="572.17" y1="592.09" x2="575.27" y2="592.09" class="md"/>
<line x1="579.77" y1="621.92" x2="579.77" y2="637.78" class="w"/><line x1="579.77" y1="650.15" x2="579.77" y2="659.83" class="w"/><line x1="578.87" y1="621.92" x2="580.67" y2="621.92" class="cap"/><line x1="578.87" y1="659.83" x2="580.67" y2="659.83" class="cap"/><rect x="578.22" y="637.78" width="3.1" height="12.37" fill="#00c800" class="bx"/><line x1="578.22" y1="643.83" x2="581.32" y2="643.83" class="md"/>
<line x1="585.83" y1="565.47" x2="585.83" y2="569.24" class="w"/><line x1="585.83" y1="640.47" x2="585.83" y2="653.11" class="w"/><line x1="584.93" y1="565.47" x2="586.73" y2="565.47" class="cap"/><line x1="584.93" y1="653.11" x2="586.73" y2="653.11" class="cap"/><rect x="584.28" y="569.24" width="3.1" height="71.24" fill="#ff0000" class="bx"/><line x1="584.28" y1="594.37" x2="587.38" y2="594.37" class="md"/>
<line x1="591.88" y1="623.54" x2="591.88" y2="633.08" class="w"/><line x1="591.88" y1="649.08" x2="591.88" y2="656.2" class="w"/><line x1="590.98" y1="623.54" x2="592.78" y2="623.54" class="cap"/><line x1="590.98" y1="656.2" x2="592.78" y2="656.2" class="cap"/><rect x="590.33" y="633.08" width="3.1" height="15.99" fill="#00c800" class="bx"/><line x1="590.33" y1="643.7" x2="593.43" y2="643.7" class="md"/>
<line x1="597.94" y1="569.24" x2="597.94" y2="584.29" class="w"/><line x1="597.94" y1="629.32" x2="597.94" y2="650.55" class="w"/><line x1="597.04" y1="569.24" x2="598.84" y2="569.24" class="cap"/><line x1="597.04" y1="650.55" x2="598.84" y2="650.55" class="cap"/><rect x="596.39" y="584.29" width="3.1" height="45.03" fill="#ff0000" class="bx"/><line x1="596.39" y1="603.11" x2="599.49" y2="603.11" class="md"/>
<line x1="603.99" y1="602.44" x2="603.99" y2="625.02" class="w"/><line x1="603.99" y1="644.51" x2="603.99" y2="648.13" class="w"/><line x1="603.09" y1="602.44" x2="604.89" y2="602.44" class="cap"/><line x1="603.09" y1="648.13" x2="604.89" y2="648.13" class="cap"/><rect x="602.44" y="625.02" width="3.1" height="19.49" fill="#00c800" class="bx"/><line x1="602.44" y1="632.68" x2="605.54" y2="632.68" class="md"/>
<line x1="610.05" y1="577.3" x2="610.05" y2="578.91" class="w"/><line x1="610.05" y1="634.42" x2="610.05" y2="649.48" class="w"/><line x1="609.15" y1="577.3" x2="610.95" y2="577.3" class="cap"/><line x1="609.15" y1="649.48" x2="610.95" y2="649.48" class="cap"/><rect x="608.5" y="578.91" width="3.1" height="55.51" fill="#ff0000" class="bx"/><line x1="608.5" y1="583.35" x2="611.6" y2="583.35" class="md"/>
<line x1="616.1" y1="610.5" x2="616.1" y2="625.69" class="w"/><line x1="616.1" y1="641.15" x2="616.1" y2="643.16" class="w"/><line x1="615.2" y1="610.5" x2="617" y2="610.5" class="cap"/><line x1="615.2" y1="643.16" x2="617" y2="643.16" class="cap"/><rect x="614.55" y="625.69" width="3.1" height="15.46" fill="#00c800" class="bx"/><line x1="614.55" y1="629.32" x2="617.65" y2="629.32" class="md"/>
<line x1="622.16" y1="635.1" x2="622.16" y2="637.38" class="w"/><line x1="622.16" y1="657.54" x2="622.16" y2="670.31" class="w"/><line x1="621.26" y1="635.1" x2="623.06" y2="635.1" class="cap"/><line x1="621.26" y1="670.31" x2="623.06" y2="670.31" class="cap"/><rect x="620.61" y="637.38" width="3.1" height="20.16" fill="#ff0000" class="bx"/><line x1="620.61" y1="647.46" x2="623.71" y2="647.46" class="md"/>
<line x1="628.21" y1="630.39" x2="628.21" y2="645.04" class="w"/><line x1="628.21" y1="659.29" x2="628.21" y2="661.31" class="w"/><line x1="627.31" y1="630.39" x2="629.11" y2="630.39" class="cap"/><line x1="627.31" y1="661.31" x2="629.11" y2="661.31" class="cap"/><rect x="626.66" y="645.04" width="3.1" height="14.25" fill="#00c800" class="bx"/><line x1="626.66" y1="649.08" x2="629.76" y2="649.08" class="md"/>
<line x1="61.4" y1="767.3" x2="61.4" y2="960.8" class="ax"/>
<line x1="61.4" y1="960.8" x2="633.3" y2="960.8" class="ax"/>
<line x1="55.9" y1="767.3" x2="61.4" y2="767.3" class="ax"/>
<text transform="translate(53.7,772.85) scale(1,1.07)" font-size="14.4" text-anchor="end" class="tl">2.0</text>
<line x1="55.9" y1="815.67" x2="61.4" y2="815.67" class="ax"/>
<text transform="translate(53.7,821.22) scale(1,1.07)" font-size="14.4" text-anchor="end" class="tl">1.5</text>
<line x1="55.9" y1="864.05" x2="61.4" y2="864.05" class="ax"/>
<text transform="translate(53.7,869.6) scale(1,1.07)" font-size="14.4" text-anchor="end" class="tl">1.0</text>
<line x1="55.9" y1="912.42" x2="61.4" y2="912.42" class="ax"/>
<text transform="translate(53.7,917.97) scale(1,1.07)" font-size="14.4" text-anchor="end" class="tl">0.5</text>
<line x1="55.9" y1="960.8" x2="61.4" y2="960.8" class="ax"/>
<text transform="translate(53.7,966.35) scale(1,1.07)" font-size="14.4" text-anchor="end" class="tl">0.0</text>
<line x1="65.4" y1="960.8" x2="65.4" y2="967.3" class="ax"/>
<line x1="77.5" y1="960.8" x2="77.5" y2="967.3" class="ax"/>
<line x1="89.6" y1="960.8" x2="89.6" y2="967.3" class="ax"/>
<line x1="101.7" y1="960.8" x2="101.7" y2="967.3" class="ax"/>
<line x1="113.8" y1="960.8" x2="113.8" y2="967.3" class="ax"/>
<line x1="125.9" y1="960.8" x2="125.9" y2="967.3" class="ax"/>
<line x1="138" y1="960.8" x2="138" y2="967.3" class="ax"/>
<line x1="150.1" y1="960.8" x2="150.1" y2="967.3" class="ax"/>
<line x1="162.2" y1="960.8" x2="162.2" y2="967.3" class="ax"/>
<line x1="174.3" y1="960.8" x2="174.3" y2="967.3" class="ax"/>
<line x1="186.4" y1="960.8" x2="186.4" y2="967.3" class="ax"/>
<line x1="198.5" y1="960.8" x2="198.5" y2="967.3" class="ax"/>
<line x1="210.6" y1="960.8" x2="210.6" y2="967.3" class="ax"/>
<line x1="222.7" y1="960.8" x2="222.7" y2="967.3" class="ax"/>
<line x1="234.8" y1="960.8" x2="234.8" y2="967.3" class="ax"/>
<line x1="246.9" y1="960.8" x2="246.9" y2="967.3" class="ax"/>
<line x1="259" y1="960.8" x2="259" y2="967.3" class="ax"/>
<line x1="271.1" y1="960.8" x2="271.1" y2="967.3" class="ax"/>
<line x1="283.2" y1="960.8" x2="283.2" y2="967.3" class="ax"/>
<line x1="295.3" y1="960.8" x2="295.3" y2="967.3" class="ax"/>
<line x1="307.4" y1="960.8" x2="307.4" y2="967.3" class="ax"/>
<line x1="319.5" y1="960.8" x2="319.5" y2="967.3" class="ax"/>
<line x1="331.6" y1="960.8" x2="331.6" y2="967.3" class="ax"/>
<line x1="343.7" y1="960.8" x2="343.7" y2="967.3" class="ax"/>
<line x1="355.8" y1="960.8" x2="355.8" y2="967.3" class="ax"/>
<line x1="367.9" y1="960.8" x2="367.9" y2="967.3" class="ax"/>
<line x1="380" y1="960.8" x2="380" y2="967.3" class="ax"/>
<line x1="392.1" y1="960.8" x2="392.1" y2="967.3" class="ax"/>
<line x1="404.2" y1="960.8" x2="404.2" y2="967.3" class="ax"/>
<line x1="416.3" y1="960.8" x2="416.3" y2="967.3" class="ax"/>
<line x1="428.4" y1="960.8" x2="428.4" y2="967.3" class="ax"/>
<line x1="440.5" y1="960.8" x2="440.5" y2="967.3" class="ax"/>
<line x1="452.6" y1="960.8" x2="452.6" y2="967.3" class="ax"/>
<line x1="464.7" y1="960.8" x2="464.7" y2="967.3" class="ax"/>
<line x1="476.8" y1="960.8" x2="476.8" y2="967.3" class="ax"/>
<line x1="488.9" y1="960.8" x2="488.9" y2="967.3" class="ax"/>
<line x1="501" y1="960.8" x2="501" y2="967.3" class="ax"/>
<line x1="513.1" y1="960.8" x2="513.1" y2="967.3" class="ax"/>
<line x1="525.2" y1="960.8" x2="525.2" y2="967.3" class="ax"/>
<line x1="537.3" y1="960.8" x2="537.3" y2="967.3" class="ax"/>
<line x1="549.4" y1="960.8" x2="549.4" y2="967.3" class="ax"/>
<line x1="561.5" y1="960.8" x2="561.5" y2="967.3" class="ax"/>
<line x1="573.6" y1="960.8" x2="573.6" y2="967.3" class="ax"/>
<line x1="585.7" y1="960.8" x2="585.7" y2="967.3" class="ax"/>
<line x1="597.8" y1="960.8" x2="597.8" y2="967.3" class="ax"/>
<line x1="609.9" y1="960.8" x2="609.9" y2="967.3" class="ax"/>
<line x1="622" y1="960.8" x2="622" y2="967.3" class="ax"/>
<line x1="65.4" y1="856.45" x2="65.4" y2="863.17" class="w"/><line x1="65.4" y1="892.47" x2="65.4" y2="905.24" class="w"/><line x1="64.5" y1="856.45" x2="66.3" y2="856.45" class="cap"/><line x1="64.5" y1="905.24" x2="66.3" y2="905.24" class="cap"/><rect x="63.58" y="863.17" width="3.65" height="29.3" fill="#ff0000" class="bx"/><line x1="63.58" y1="876.61" x2="67.23" y2="876.61" class="md"/>
<line x1="71.35" y1="875.54" x2="71.35" y2="893.15" class="w"/><line x1="71.35" y1="911.56" x2="71.35" y2="920.56" class="w"/><line x1="70.45" y1="875.54" x2="72.25" y2="875.54" class="cap"/><line x1="70.45" y1="920.56" x2="72.25" y2="920.56" class="cap"/><rect x="69.53" y="893.15" width="3.65" height="18.41" fill="#00c800" class="bx"/><line x1="69.53" y1="905.51" x2="73.18" y2="905.51" class="md"/>
<line x1="77.5" y1="843.41" x2="77.5" y2="851.08" class="w"/><line x1="77.5" y1="896.37" x2="77.5" y2="904.44" class="w"/><line x1="76.6" y1="843.41" x2="78.4" y2="843.41" class="cap"/><line x1="76.6" y1="904.44" x2="78.4" y2="904.44" class="cap"/><rect x="75.67" y="851.08" width="3.65" height="45.3" fill="#ff0000" class="bx"/><line x1="75.67" y1="873.52" x2="79.33" y2="873.52" class="md"/>
<line x1="83.45" y1="875.54" x2="83.45" y2="889.65" class="w"/><line x1="83.45" y1="912.23" x2="83.45" y2="918.28" class="w"/><line x1="82.55" y1="875.54" x2="84.35" y2="875.54" class="cap"/><line x1="82.55" y1="918.28" x2="84.35" y2="918.28" class="cap"/><rect x="81.62" y="889.65" width="3.65" height="22.58" fill="#00c800" class="bx"/><line x1="81.62" y1="904.44" x2="85.28" y2="904.44" class="md"/>
<line x1="89.6" y1="842.07" x2="89.6" y2="859.41" class="w"/><line x1="89.6" y1="885.62" x2="89.6" y2="893.41" class="w"/><line x1="88.7" y1="842.07" x2="90.5" y2="842.07" class="cap"/><line x1="88.7" y1="893.41" x2="90.5" y2="893.41" class="cap"/><rect x="87.78" y="859.41" width="3.65" height="26.21" fill="#ff0000" class="bx"/><line x1="87.78" y1="870.16" x2="91.43" y2="870.16" class="md"/>
<line x1="95.55" y1="854.44" x2="95.55" y2="881.05" class="w"/><line x1="95.55" y1="902.42" x2="95.55" y2="912.5" class="w"/><line x1="94.65" y1="854.44" x2="96.45" y2="854.44" class="cap"/><line x1="94.65" y1="912.5" x2="96.45" y2="912.5" class="cap"/><rect x="93.73" y="881.05" width="3.65" height="21.37" fill="#00c800" class="bx"/><line x1="93.73" y1="896.37" x2="97.38" y2="896.37" class="md"/>
<line x1="101.7" y1="825.27" x2="101.7" y2="838.58" class="w"/><line x1="101.7" y1="877.69" x2="101.7" y2="894.49" class="w"/><line x1="100.8" y1="825.27" x2="102.6" y2="825.27" class="cap"/><line x1="100.8" y1="894.49" x2="102.6" y2="894.49" class="cap"/><rect x="99.88" y="838.58" width="3.65" height="39.11" fill="#ff0000" class="bx"/><line x1="99.88" y1="856.45" x2="103.53" y2="856.45" class="md"/>
<line x1="107.65" y1="848.12" x2="107.65" y2="871.51" class="w"/><line x1="107.65" y1="903.49" x2="107.65" y2="914.25" class="w"/><line x1="106.75" y1="848.12" x2="108.55" y2="848.12" class="cap"/><line x1="106.75" y1="914.25" x2="108.55" y2="914.25" class="cap"/><rect x="105.83" y="871.51" width="3.65" height="31.99" fill="#00c800" class="bx"/><line x1="105.83" y1="897.72" x2="109.48" y2="897.72" class="md"/>
<line x1="113.8" y1="828.9" x2="113.8" y2="830.91" class="w"/><line x1="113.8" y1="875.54" x2="113.8" y2="892.47" class="w"/><line x1="112.9" y1="828.9" x2="114.7" y2="828.9" class="cap"/><line x1="112.9" y1="892.47" x2="114.7" y2="892.47" class="cap"/><rect x="111.98" y="830.91" width="3.65" height="44.62" fill="#ff0000" class="bx"/><line x1="111.98" y1="856.45" x2="115.63" y2="856.45" class="md"/>
<line x1="119.75" y1="873.25" x2="119.75" y2="881.99" class="w"/><line x1="119.75" y1="906.45" x2="119.75" y2="915.86" class="w"/><line x1="118.85" y1="873.25" x2="120.65" y2="873.25" class="cap"/><line x1="118.85" y1="915.86" x2="120.65" y2="915.86" class="cap"/><rect x="117.93" y="881.99" width="3.65" height="24.46" fill="#00c800" class="bx"/><line x1="117.93" y1="896.37" x2="121.58" y2="896.37" class="md"/>
<line x1="125.9" y1="820.56" x2="125.9" y2="835.22" class="w"/><line x1="125.9" y1="871.64" x2="125.9" y2="891.4" class="w"/><line x1="125" y1="820.56" x2="126.8" y2="820.56" class="cap"/><line x1="125" y1="891.4" x2="126.8" y2="891.4" class="cap"/><rect x="124.08" y="835.22" width="3.65" height="36.42" fill="#ff0000" class="bx"/><line x1="124.08" y1="855.38" x2="127.73" y2="855.38" class="md"/>
<line x1="131.85" y1="872.31" x2="131.85" y2="880.38" class="w"/><line x1="131.85" y1="903.09" x2="131.85" y2="915.32" class="w"/><line x1="130.95" y1="872.31" x2="132.75" y2="872.31" class="cap"/><line x1="130.95" y1="915.32" x2="132.75" y2="915.32" class="cap"/><rect x="130.03" y="880.38" width="3.65" height="22.72" fill="#00c800" class="bx"/><line x1="130.03" y1="898.39" x2="133.67" y2="898.39" class="md"/>
<line x1="138" y1="831.99" x2="138" y2="856.72" class="w"/><line x1="138" y1="899.46" x2="138" y2="899.73" class="w"/><line x1="137.1" y1="831.99" x2="138.9" y2="831.99" class="cap"/><line x1="137.1" y1="899.73" x2="138.9" y2="899.73" class="cap"/><rect x="136.18" y="856.72" width="3.65" height="42.74" fill="#ff0000" class="bx"/><line x1="136.18" y1="869.49" x2="139.82" y2="869.49" class="md"/>
<line x1="143.95" y1="885.35" x2="143.95" y2="891.13" class="w"/><line x1="143.95" y1="912.23" x2="143.95" y2="920.56" class="w"/><line x1="143.05" y1="885.35" x2="144.85" y2="885.35" class="cap"/><line x1="143.05" y1="920.56" x2="144.85" y2="920.56" class="cap"/><rect x="142.12" y="891.13" width="3.65" height="21.1" fill="#00c800" class="bx"/><line x1="142.12" y1="899.87" x2="145.77" y2="899.87" class="md"/>
<line x1="150.1" y1="858.87" x2="150.1" y2="861.42" class="w"/><line x1="150.1" y1="892.47" x2="150.1" y2="898.52" class="w"/><line x1="149.2" y1="858.87" x2="151" y2="858.87" class="cap"/><line x1="149.2" y1="898.52" x2="151" y2="898.52" class="cap"/><rect x="148.28" y="861.42" width="3.65" height="31.05" fill="#ff0000" class="bx"/><line x1="148.28" y1="871.51" x2="151.93" y2="871.51" class="md"/>
<line x1="156.05" y1="883.33" x2="156.05" y2="888.71" class="w"/><line x1="156.05" y1="910.89" x2="156.05" y2="919.35" class="w"/><line x1="155.15" y1="883.33" x2="156.95" y2="883.33" class="cap"/><line x1="155.15" y1="919.35" x2="156.95" y2="919.35" class="cap"/><rect x="154.23" y="888.71" width="3.65" height="22.18" fill="#00c800" class="bx"/><line x1="154.23" y1="898.52" x2="157.88" y2="898.52" class="md"/>
<line x1="162.2" y1="826.21" x2="162.2" y2="849.33" class="w"/><line x1="162.2" y1="876.34" x2="162.2" y2="900.4" class="w"/><line x1="161.3" y1="826.21" x2="163.1" y2="826.21" class="cap"/><line x1="161.3" y1="900.4" x2="163.1" y2="900.4" class="cap"/><rect x="160.38" y="849.33" width="3.65" height="27.02" fill="#ff0000" class="bx"/><line x1="160.38" y1="862.23" x2="164.02" y2="862.23" class="md"/>
<line x1="168.15" y1="866.8" x2="168.15" y2="881.05" class="w"/><line x1="168.15" y1="902.55" x2="168.15" y2="915.32" class="w"/><line x1="167.25" y1="866.8" x2="169.05" y2="866.8" class="cap"/><line x1="167.25" y1="915.32" x2="169.05" y2="915.32" class="cap"/><rect x="166.32" y="881.05" width="3.65" height="21.51" fill="#00c800" class="bx"/><line x1="166.32" y1="897.85" x2="169.97" y2="897.85" class="md"/>
<line x1="174.3" y1="836.29" x2="174.3" y2="838.98" class="w"/><line x1="174.3" y1="883.33" x2="174.3" y2="894.49" class="w"/><line x1="173.4" y1="836.29" x2="175.2" y2="836.29" class="cap"/><line x1="173.4" y1="894.49" x2="175.2" y2="894.49" class="cap"/><rect x="172.48" y="838.98" width="3.65" height="44.35" fill="#ff0000" class="bx"/><line x1="172.48" y1="867.47" x2="176.12" y2="867.47" class="md"/>
<line x1="180.25" y1="869.62" x2="180.25" y2="881.32" class="w"/><line x1="180.25" y1="907.26" x2="180.25" y2="916.53" class="w"/><line x1="179.35" y1="869.62" x2="181.15" y2="869.62" class="cap"/><line x1="179.35" y1="916.53" x2="181.15" y2="916.53" class="cap"/><rect x="178.43" y="881.32" width="3.65" height="25.94" fill="#00c800" class="bx"/><line x1="178.43" y1="897.45" x2="182.07" y2="897.45" class="md"/>
<line x1="186.4" y1="815.46" x2="186.4" y2="825.54" class="w"/><line x1="186.4" y1="875.54" x2="186.4" y2="887.37" class="w"/><line x1="185.5" y1="815.46" x2="187.3" y2="815.46" class="cap"/><line x1="185.5" y1="887.37" x2="187.3" y2="887.37" class="cap"/><rect x="184.58" y="825.54" width="3.65" height="50" fill="#ff0000" class="bx"/><line x1="184.58" y1="844.35" x2="188.22" y2="844.35" class="md"/>
<line x1="192.35" y1="860.08" x2="192.35" y2="875.54" class="w"/><line x1="192.35" y1="895.03" x2="192.35" y2="906.45" class="w"/><line x1="191.45" y1="860.08" x2="193.25" y2="860.08" class="cap"/><line x1="191.45" y1="906.45" x2="193.25" y2="906.45" class="cap"/><rect x="190.53" y="875.54" width="3.65" height="19.49" fill="#00c800" class="bx"/><line x1="190.53" y1="891.4" x2="194.17" y2="891.4" class="md"/>
<line x1="198.5" y1="821.24" x2="198.5" y2="826.88" class="w"/><line x1="198.5" y1="875.27" x2="198.5" y2="883.6" class="w"/><line x1="197.6" y1="821.24" x2="199.4" y2="821.24" class="cap"/><line x1="197.6" y1="883.6" x2="199.4" y2="883.6" class="cap"/><rect x="196.68" y="826.88" width="3.65" height="48.39" fill="#ff0000" class="bx"/><line x1="196.68" y1="873.66" x2="200.32" y2="873.66" class="md"/>
<line x1="204.45" y1="860.48" x2="204.45" y2="876.88" class="w"/><line x1="204.45" y1="897.45" x2="204.45" y2="906.59" class="w"/><line x1="203.55" y1="860.48" x2="205.35" y2="860.48" class="cap"/><line x1="203.55" y1="906.59" x2="205.35" y2="906.59" class="cap"/><rect x="202.62" y="876.88" width="3.65" height="20.56" fill="#00c800" class="bx"/><line x1="202.62" y1="892.47" x2="206.27" y2="892.47" class="md"/>
<line x1="210.6" y1="818.55" x2="210.6" y2="829.3" class="w"/><line x1="210.6" y1="881.32" x2="210.6" y2="888.44" class="w"/><line x1="209.7" y1="818.55" x2="211.5" y2="818.55" class="cap"/><line x1="209.7" y1="888.44" x2="211.5" y2="888.44" class="cap"/><rect x="208.78" y="829.3" width="3.65" height="52.02" fill="#ff0000" class="bx"/><line x1="208.78" y1="864.25" x2="212.42" y2="864.25" class="md"/>
<line x1="216.55" y1="848.66" x2="216.55" y2="869.49" class="w"/><line x1="216.55" y1="913.58" x2="216.55" y2="915.32" class="w"/><line x1="215.65" y1="848.66" x2="217.45" y2="848.66" class="cap"/><line x1="215.65" y1="915.32" x2="217.45" y2="915.32" class="cap"/><rect x="214.72" y="869.49" width="3.65" height="44.09" fill="#00c800" class="bx"/><line x1="214.72" y1="898.39" x2="218.37" y2="898.39" class="md"/>
<line x1="222.7" y1="821.24" x2="222.7" y2="831.59" class="w"/><line x1="222.7" y1="872.58" x2="222.7" y2="889.65" class="w"/><line x1="221.8" y1="821.24" x2="223.6" y2="821.24" class="cap"/><line x1="221.8" y1="889.65" x2="223.6" y2="889.65" class="cap"/><rect x="220.88" y="831.59" width="3.65" height="40.99" fill="#ff0000" class="bx"/><line x1="220.88" y1="854.44" x2="224.52" y2="854.44" class="md"/>
<line x1="228.65" y1="845.7" x2="228.65" y2="876.34" class="w"/><line x1="228.65" y1="901.48" x2="228.65" y2="911.29" class="w"/><line x1="227.75" y1="845.7" x2="229.55" y2="845.7" class="cap"/><line x1="227.75" y1="911.29" x2="229.55" y2="911.29" class="cap"/><rect x="226.82" y="876.34" width="3.65" height="25.13" fill="#00c800" class="bx"/><line x1="226.82" y1="895.43" x2="230.47" y2="895.43" class="md"/>
<line x1="234.8" y1="821.51" x2="234.8" y2="826.48" class="w"/><line x1="234.8" y1="870.16" x2="234.8" y2="883.33" class="w"/><line x1="233.9" y1="821.51" x2="235.7" y2="821.51" class="cap"/><line x1="233.9" y1="883.33" x2="235.7" y2="883.33" class="cap"/><rect x="232.98" y="826.48" width="3.65" height="43.68" fill="#ff0000" class="bx"/><line x1="232.98" y1="846.37" x2="236.62" y2="846.37" class="md"/>
<line x1="240.75" y1="846.64" x2="240.75" y2="872.58" class="w"/><line x1="240.75" y1="905.78" x2="240.75" y2="911.29" class="w"/><line x1="239.85" y1="846.64" x2="241.65" y2="846.64" class="cap"/><line x1="239.85" y1="911.29" x2="241.65" y2="911.29" class="cap"/><rect x="238.93" y="872.58" width="3.65" height="33.2" fill="#00c800" class="bx"/><line x1="238.93" y1="889.11" x2="242.57" y2="889.11" class="md"/>
<line x1="246.9" y1="815.46" x2="246.9" y2="827.96" class="w"/><line x1="246.9" y1="874.33" x2="246.9" y2="890.46" class="w"/><line x1="246" y1="815.46" x2="247.8" y2="815.46" class="cap"/><line x1="246" y1="890.46" x2="247.8" y2="890.46" class="cap"/><rect x="245.08" y="827.96" width="3.65" height="46.37" fill="#ff0000" class="bx"/><line x1="245.08" y1="852.42" x2="248.72" y2="852.42" class="md"/>
<line x1="252.85" y1="849.73" x2="252.85" y2="872.85" class="w"/><line x1="252.85" y1="899.46" x2="252.85" y2="907.26" class="w"/><line x1="251.95" y1="849.73" x2="253.75" y2="849.73" class="cap"/><line x1="251.95" y1="907.26" x2="253.75" y2="907.26" class="cap"/><rect x="251.03" y="872.85" width="3.65" height="26.61" fill="#00c800" class="bx"/><line x1="251.03" y1="888.31" x2="254.67" y2="888.31" class="md"/>
<line x1="259" y1="815.05" x2="259" y2="835.89" class="w"/><line x1="259" y1="876.88" x2="259" y2="889.38" class="w"/><line x1="258.1" y1="815.05" x2="259.9" y2="815.05" class="cap"/><line x1="258.1" y1="889.38" x2="259.9" y2="889.38" class="cap"/><rect x="257.18" y="835.89" width="3.65" height="40.99" fill="#ff0000" class="bx"/><line x1="257.18" y1="851.08" x2="260.82" y2="851.08" class="md"/>
<line x1="264.95" y1="851.08" x2="264.95" y2="877.69" class="w"/><line x1="264.95" y1="900.54" x2="264.95" y2="912.23" class="w"/><line x1="264.05" y1="851.08" x2="265.85" y2="851.08" class="cap"/><line x1="264.05" y1="912.23" x2="265.85" y2="912.23" class="cap"/><rect x="263.12" y="877.69" width="3.65" height="22.85" fill="#00c800" class="bx"/><line x1="263.12" y1="899.73" x2="266.77" y2="899.73" class="md"/>
<line x1="271.1" y1="822.45" x2="271.1" y2="843.28" class="w"/><line x1="271.1" y1="875.94" x2="271.1" y2="889.38" class="w"/><line x1="270.2" y1="822.45" x2="272" y2="822.45" class="cap"/><line x1="270.2" y1="889.38" x2="272" y2="889.38" class="cap"/><rect x="269.28" y="843.28" width="3.65" height="32.66" fill="#ff0000" class="bx"/><line x1="269.28" y1="856.45" x2="272.93" y2="856.45" class="md"/>
<line x1="277.05" y1="853.49" x2="277.05" y2="880.38" class="w"/><line x1="277.05" y1="905.24" x2="277.05" y2="912.23" class="w"/><line x1="276.15" y1="853.49" x2="277.95" y2="853.49" class="cap"/><line x1="276.15" y1="912.23" x2="277.95" y2="912.23" class="cap"/><rect x="275.23" y="880.38" width="3.65" height="24.87" fill="#00c800" class="bx"/><line x1="275.23" y1="896.37" x2="278.88" y2="896.37" class="md"/>
<line x1="283.2" y1="824.46" x2="283.2" y2="830.24" class="w"/><line x1="283.2" y1="866.8" x2="283.2" y2="891.4" class="w"/><line x1="282.3" y1="824.46" x2="284.1" y2="824.46" class="cap"/><line x1="282.3" y1="891.4" x2="284.1" y2="891.4" class="cap"/><rect x="281.38" y="830.24" width="3.65" height="36.56" fill="#ff0000" class="bx"/><line x1="281.38" y1="847.31" x2="285.02" y2="847.31" class="md"/>
<line x1="289.15" y1="867.2" x2="289.15" y2="881.72" class="w"/><line x1="289.15" y1="902.15" x2="289.15" y2="913.31" class="w"/><line x1="288.25" y1="867.2" x2="290.05" y2="867.2" class="cap"/><line x1="288.25" y1="913.31" x2="290.05" y2="913.31" class="cap"/><rect x="287.32" y="881.72" width="3.65" height="20.43" fill="#00c800" class="bx"/><line x1="287.32" y1="897.04" x2="290.97" y2="897.04" class="md"/>
<line x1="295.3" y1="832.26" x2="295.3" y2="837.37" class="w"/><line x1="295.3" y1="872.58" x2="295.3" y2="896.37" class="w"/><line x1="294.4" y1="832.26" x2="296.2" y2="832.26" class="cap"/><line x1="294.4" y1="896.37" x2="296.2" y2="896.37" class="cap"/><rect x="293.48" y="837.37" width="3.65" height="35.22" fill="#ff0000" class="bx"/><line x1="293.48" y1="857.12" x2="297.12" y2="857.12" class="md"/>
<line x1="301.25" y1="869.49" x2="301.25" y2="883.06" class="w"/><line x1="301.25" y1="905.51" x2="301.25" y2="915.19" class="w"/><line x1="300.35" y1="869.49" x2="302.15" y2="869.49" class="cap"/><line x1="300.35" y1="915.19" x2="302.15" y2="915.19" class="cap"/><rect x="299.43" y="883.06" width="3.65" height="22.45" fill="#00c800" class="bx"/><line x1="299.43" y1="895.83" x2="303.07" y2="895.83" class="md"/>
<line x1="307.4" y1="822.45" x2="307.4" y2="836.96" class="w"/><line x1="307.4" y1="865.46" x2="307.4" y2="885.35" class="w"/><line x1="306.5" y1="822.45" x2="308.3" y2="822.45" class="cap"/><line x1="306.5" y1="885.35" x2="308.3" y2="885.35" class="cap"/><rect x="305.57" y="836.96" width="3.65" height="28.49" fill="#ff0000" class="bx"/><line x1="305.57" y1="850.4" x2="309.22" y2="850.4" class="md"/>
<line x1="313.35" y1="855.11" x2="313.35" y2="875.54" class="w"/><line x1="313.35" y1="899.46" x2="313.35" y2="909.14" class="w"/><line x1="312.45" y1="855.11" x2="314.25" y2="855.11" class="cap"/><line x1="312.45" y1="909.14" x2="314.25" y2="909.14" class="cap"/><rect x="311.52" y="875.54" width="3.65" height="23.92" fill="#00c800" class="bx"/><line x1="311.52" y1="893.15" x2="315.17" y2="893.15" class="md"/>
<line x1="319.5" y1="825.27" x2="319.5" y2="840.05" class="w"/><line x1="319.5" y1="868.55" x2="319.5" y2="888.71" class="w"/><line x1="318.6" y1="825.27" x2="320.4" y2="825.27" class="cap"/><line x1="318.6" y1="888.71" x2="320.4" y2="888.71" class="cap"/><rect x="317.68" y="840.05" width="3.65" height="28.49" fill="#ff0000" class="bx"/><line x1="317.68" y1="851.34" x2="321.32" y2="851.34" class="md"/>
<line x1="325.45" y1="858.2" x2="325.45" y2="880.24" class="w"/><line x1="325.45" y1="901.75" x2="325.45" y2="908.2" class="w"/><line x1="324.55" y1="858.2" x2="326.35" y2="858.2" class="cap"/><line x1="324.55" y1="908.2" x2="326.35" y2="908.2" class="cap"/><rect x="323.62" y="880.24" width="3.65" height="21.51" fill="#00c800" class="bx"/><line x1="323.62" y1="895.43" x2="327.27" y2="895.43" class="md"/>
<line x1="331.6" y1="851.34" x2="331.6" y2="858.47" class="w"/><line x1="331.6" y1="905.24" x2="331.6" y2="912.5" class="w"/><line x1="330.7" y1="851.34" x2="332.5" y2="851.34" class="cap"/><line x1="330.7" y1="912.5" x2="332.5" y2="912.5" class="cap"/><rect x="329.78" y="858.47" width="3.65" height="46.77" fill="#ff0000" class="bx"/><line x1="329.78" y1="890.05" x2="333.43" y2="890.05" class="md"/>
<line x1="337.55" y1="861.16" x2="337.55" y2="887.1" class="w"/><line x1="337.55" y1="909.27" x2="337.55" y2="913.98" class="w"/><line x1="336.65" y1="861.16" x2="338.45" y2="861.16" class="cap"/><line x1="336.65" y1="913.98" x2="338.45" y2="913.98" class="cap"/><rect x="335.73" y="887.1" width="3.65" height="22.18" fill="#00c800" class="bx"/><line x1="335.73" y1="905.51" x2="339.38" y2="905.51" class="md"/>
<line x1="343.7" y1="828.23" x2="343.7" y2="840.05" class="w"/><line x1="343.7" y1="890.05" x2="343.7" y2="906.59" class="w"/><line x1="342.8" y1="828.23" x2="344.6" y2="828.23" class="cap"/><line x1="342.8" y1="906.59" x2="344.6" y2="906.59" class="cap"/><rect x="341.88" y="840.05" width="3.65" height="50" fill="#ff0000" class="bx"/><line x1="341.88" y1="876.34" x2="345.53" y2="876.34" class="md"/>
<line x1="349.65" y1="885.35" x2="349.65" y2="888.31" class="w"/><line x1="349.65" y1="911.96" x2="349.65" y2="923.39" class="w"/><line x1="348.75" y1="885.35" x2="350.55" y2="885.35" class="cap"/><line x1="348.75" y1="923.39" x2="350.55" y2="923.39" class="cap"/><rect x="347.83" y="888.31" width="3.65" height="23.66" fill="#00c800" class="bx"/><line x1="347.83" y1="900.4" x2="351.48" y2="900.4" class="md"/>
<line x1="355.8" y1="847.04" x2="355.8" y2="852.69" class="w"/><line x1="355.8" y1="892.47" x2="355.8" y2="895.43" class="w"/><line x1="354.9" y1="847.04" x2="356.7" y2="847.04" class="cap"/><line x1="354.9" y1="895.43" x2="356.7" y2="895.43" class="cap"/><rect x="353.97" y="852.69" width="3.65" height="39.78" fill="#ff0000" class="bx"/><line x1="353.97" y1="871.24" x2="357.62" y2="871.24" class="md"/>
<line x1="361.75" y1="884.01" x2="361.75" y2="893.15" class="w"/><line x1="361.75" y1="913.17" x2="361.75" y2="923.25" class="w"/><line x1="360.85" y1="884.01" x2="362.65" y2="884.01" class="cap"/><line x1="360.85" y1="923.25" x2="362.65" y2="923.25" class="cap"/><rect x="359.92" y="893.15" width="3.65" height="20.03" fill="#00c800" class="bx"/><line x1="359.92" y1="903.23" x2="363.57" y2="903.23" class="md"/>
<line x1="367.9" y1="816.13" x2="367.9" y2="846.64" class="w"/><line x1="367.9" y1="883.33" x2="367.9" y2="893.41" class="w"/><line x1="367" y1="816.13" x2="368.8" y2="816.13" class="cap"/><line x1="367" y1="893.41" x2="368.8" y2="893.41" class="cap"/><rect x="366.07" y="846.64" width="3.65" height="36.69" fill="#ff0000" class="bx"/><line x1="366.07" y1="866.26" x2="369.72" y2="866.26" class="md"/>
<line x1="373.85" y1="870.3" x2="373.85" y2="877.28" class="w"/><line x1="373.85" y1="906.45" x2="373.85" y2="919.35" class="w"/><line x1="372.95" y1="870.3" x2="374.75" y2="870.3" class="cap"/><line x1="372.95" y1="919.35" x2="374.75" y2="919.35" class="cap"/><rect x="372.02" y="877.28" width="3.65" height="29.17" fill="#00c800" class="bx"/><line x1="372.02" y1="895.43" x2="375.67" y2="895.43" class="md"/>
<line x1="380" y1="826.48" x2="380" y2="850.4" class="w"/><line x1="380" y1="882.66" x2="380" y2="897.04" class="w"/><line x1="379.1" y1="826.48" x2="380.9" y2="826.48" class="cap"/><line x1="379.1" y1="897.04" x2="380.9" y2="897.04" class="cap"/><rect x="378.18" y="850.4" width="3.65" height="32.26" fill="#ff0000" class="bx"/><line x1="378.18" y1="865.46" x2="381.82" y2="865.46" class="md"/>
<line x1="385.95" y1="873.52" x2="385.95" y2="881.59" class="w"/><line x1="385.95" y1="905.91" x2="385.95" y2="917.34" class="w"/><line x1="385.05" y1="873.52" x2="386.85" y2="873.52" class="cap"/><line x1="385.05" y1="917.34" x2="386.85" y2="917.34" class="cap"/><rect x="384.12" y="881.59" width="3.65" height="24.33" fill="#00c800" class="bx"/><line x1="384.12" y1="896.37" x2="387.77" y2="896.37" class="md"/>
<line x1="392.1" y1="832.26" x2="392.1" y2="841.4" class="w"/><line x1="392.1" y1="883.33" x2="392.1" y2="897.45" class="w"/><line x1="391.2" y1="832.26" x2="393" y2="832.26" class="cap"/><line x1="391.2" y1="897.45" x2="393" y2="897.45" class="cap"/><rect x="390.28" y="841.4" width="3.65" height="41.94" fill="#ff0000" class="bx"/><line x1="390.28" y1="870.16" x2="393.93" y2="870.16" class="md"/>
<line x1="398.05" y1="871.91" x2="398.05" y2="875.27" class="w"/><line x1="398.05" y1="907.26" x2="398.05" y2="923.25" class="w"/><line x1="397.15" y1="871.91" x2="398.95" y2="871.91" class="cap"/><line x1="397.15" y1="923.25" x2="398.95" y2="923.25" class="cap"/><rect x="396.23" y="875.27" width="3.65" height="31.99" fill="#00c800" class="bx"/><line x1="396.23" y1="897.18" x2="399.88" y2="897.18" class="md"/>
<line x1="404.2" y1="828.23" x2="404.2" y2="846.37" class="w"/><line x1="404.2" y1="883.33" x2="404.2" y2="890.46" class="w"/><line x1="403.3" y1="828.23" x2="405.1" y2="828.23" class="cap"/><line x1="403.3" y1="890.46" x2="405.1" y2="890.46" class="cap"/><rect x="402.38" y="846.37" width="3.65" height="36.96" fill="#ff0000" class="bx"/><line x1="402.38" y1="859.14" x2="406.03" y2="859.14" class="md"/>
<line x1="410.15" y1="848.12" x2="410.15" y2="877.28" class="w"/><line x1="410.15" y1="898.12" x2="410.15" y2="909.27" class="w"/><line x1="409.25" y1="848.12" x2="411.05" y2="848.12" class="cap"/><line x1="409.25" y1="909.27" x2="411.05" y2="909.27" class="cap"/><rect x="408.33" y="877.28" width="3.65" height="20.83" fill="#00c800" class="bx"/><line x1="408.33" y1="894.49" x2="411.98" y2="894.49" class="md"/>
<line x1="416.3" y1="837.37" x2="416.3" y2="841.94" class="w"/><line x1="416.3" y1="879.97" x2="416.3" y2="891.4" class="w"/><line x1="415.4" y1="837.37" x2="417.2" y2="837.37" class="cap"/><line x1="415.4" y1="891.4" x2="417.2" y2="891.4" class="cap"/><rect x="414.47" y="841.94" width="3.65" height="38.04" fill="#ff0000" class="bx"/><line x1="414.47" y1="863.17" x2="418.12" y2="863.17" class="md"/>
<line x1="422.25" y1="850.4" x2="422.25" y2="879.57" class="w"/><line x1="422.25" y1="899.46" x2="422.25" y2="909.27" class="w"/><line x1="421.35" y1="850.4" x2="423.15" y2="850.4" class="cap"/><line x1="421.35" y1="909.27" x2="423.15" y2="909.27" class="cap"/><rect x="420.42" y="879.57" width="3.65" height="19.89" fill="#00c800" class="bx"/><line x1="420.42" y1="893.41" x2="424.07" y2="893.41" class="md"/>
<line x1="428.4" y1="843.28" x2="428.4" y2="852.69" class="w"/><line x1="428.4" y1="882.26" x2="428.4" y2="892.47" class="w"/><line x1="427.5" y1="843.28" x2="429.3" y2="843.28" class="cap"/><line x1="427.5" y1="892.47" x2="429.3" y2="892.47" class="cap"/><rect x="426.57" y="852.69" width="3.65" height="29.57" fill="#ff0000" class="bx"/><line x1="426.57" y1="867.2" x2="430.22" y2="867.2" class="md"/>
<line x1="434.35" y1="892.47" x2="434.35" y2="896.37" class="w"/><line x1="434.35" y1="912.23" x2="434.35" y2="920.3" class="w"/><line x1="433.45" y1="892.47" x2="435.25" y2="892.47" class="cap"/><line x1="433.45" y1="920.3" x2="435.25" y2="920.3" class="cap"/><rect x="432.52" y="896.37" width="3.65" height="15.86" fill="#00c800" class="bx"/><line x1="432.52" y1="902.55" x2="436.17" y2="902.55" class="md"/>
<line x1="440.5" y1="846.64" x2="440.5" y2="854.44" class="w"/><line x1="440.5" y1="878.63" x2="440.5" y2="891.67" class="w"/><line x1="439.6" y1="846.64" x2="441.4" y2="846.64" class="cap"/><line x1="439.6" y1="891.67" x2="441.4" y2="891.67" class="cap"/><rect x="438.68" y="854.44" width="3.65" height="24.19" fill="#ff0000" class="bx"/><line x1="438.68" y1="860.22" x2="442.32" y2="860.22" class="md"/>
<line x1="446.45" y1="888.31" x2="446.45" y2="898.52" class="w"/><line x1="446.45" y1="908.2" x2="446.45" y2="918.28" class="w"/><line x1="445.55" y1="888.31" x2="447.35" y2="888.31" class="cap"/><line x1="445.55" y1="918.28" x2="447.35" y2="918.28" class="cap"/><rect x="444.62" y="898.52" width="3.65" height="9.68" fill="#00c800" class="bx"/><line x1="444.62" y1="903.23" x2="448.27" y2="903.23" class="md"/>
<line x1="452.6" y1="820.43" x2="452.6" y2="849.46" class="w"/><line x1="452.6" y1="881.72" x2="452.6" y2="894.09" class="w"/><line x1="451.7" y1="820.43" x2="453.5" y2="820.43" class="cap"/><line x1="451.7" y1="894.09" x2="453.5" y2="894.09" class="cap"/><rect x="450.78" y="849.46" width="3.65" height="32.26" fill="#ff0000" class="bx"/><line x1="450.78" y1="854.44" x2="454.43" y2="854.44" class="md"/>
<line x1="458.55" y1="875.54" x2="458.55" y2="891.13" class="w"/><line x1="458.55" y1="901.21" x2="458.55" y2="914.25" class="w"/><line x1="457.65" y1="875.54" x2="459.45" y2="875.54" class="cap"/><line x1="457.65" y1="914.25" x2="459.45" y2="914.25" class="cap"/><rect x="456.73" y="891.13" width="3.65" height="10.08" fill="#00c800" class="bx"/><line x1="456.73" y1="896.37" x2="460.38" y2="896.37" class="md"/>
<line x1="464.7" y1="831.32" x2="464.7" y2="849.46" class="w"/><line x1="464.7" y1="878.36" x2="464.7" y2="885.35" class="w"/><line x1="463.8" y1="831.32" x2="465.6" y2="831.32" class="cap"/><line x1="463.8" y1="885.35" x2="465.6" y2="885.35" class="cap"/><rect x="462.88" y="849.46" width="3.65" height="28.9" fill="#ff0000" class="bx"/><line x1="462.88" y1="854.44" x2="466.53" y2="854.44" class="md"/>
<line x1="470.65" y1="873.52" x2="470.65" y2="891.13" class="w"/><line x1="470.65" y1="901.75" x2="470.65" y2="914.92" class="w"/><line x1="469.75" y1="873.52" x2="471.55" y2="873.52" class="cap"/><line x1="469.75" y1="914.92" x2="471.55" y2="914.92" class="cap"/><rect x="468.83" y="891.13" width="3.65" height="10.62" fill="#00c800" class="bx"/><line x1="468.83" y1="896.37" x2="472.48" y2="896.37" class="md"/>
<line x1="476.8" y1="810.08" x2="476.8" y2="838.31" class="w"/><line x1="476.8" y1="887.37" x2="476.8" y2="908.47" class="w"/><line x1="475.9" y1="810.08" x2="477.7" y2="810.08" class="cap"/><line x1="475.9" y1="908.47" x2="477.7" y2="908.47" class="cap"/><rect x="474.97" y="838.31" width="3.65" height="49.06" fill="#ff0000" class="bx"/><line x1="474.97" y1="854.44" x2="478.62" y2="854.44" class="md"/>
<line x1="482.75" y1="863.17" x2="482.75" y2="881.32" class="w"/><line x1="482.75" y1="901.21" x2="482.75" y2="913.98" class="w"/><line x1="481.85" y1="863.17" x2="483.65" y2="863.17" class="cap"/><line x1="481.85" y1="913.98" x2="483.65" y2="913.98" class="cap"/><rect x="480.92" y="881.32" width="3.65" height="19.89" fill="#00c800" class="bx"/><line x1="480.92" y1="897.45" x2="484.57" y2="897.45" class="md"/>
<line x1="488.9" y1="817.47" x2="488.9" y2="830.51" class="w"/><line x1="488.9" y1="875.27" x2="488.9" y2="884.41" class="w"/><line x1="488" y1="817.47" x2="489.8" y2="817.47" class="cap"/><line x1="488" y1="884.41" x2="489.8" y2="884.41" class="cap"/><rect x="487.07" y="830.51" width="3.65" height="44.76" fill="#ff0000" class="bx"/><line x1="487.07" y1="858.47" x2="490.72" y2="858.47" class="md"/>
<line x1="494.85" y1="865.46" x2="494.85" y2="880.65" class="w"/><line x1="494.85" y1="903.23" x2="494.85" y2="913.31" class="w"/><line x1="493.95" y1="865.46" x2="495.75" y2="865.46" class="cap"/><line x1="493.95" y1="913.31" x2="495.75" y2="913.31" class="cap"/><rect x="493.02" y="880.65" width="3.65" height="22.58" fill="#00c800" class="bx"/><line x1="493.02" y1="895.43" x2="496.67" y2="895.43" class="md"/>
<line x1="501" y1="832.93" x2="501" y2="833.2" class="w"/><line x1="501" y1="880.65" x2="501" y2="892.47" class="w"/><line x1="500.1" y1="832.93" x2="501.9" y2="832.93" class="cap"/><line x1="500.1" y1="892.47" x2="501.9" y2="892.47" class="cap"/><rect x="499.18" y="833.2" width="3.65" height="47.45" fill="#ff0000" class="bx"/><line x1="499.18" y1="862.23" x2="502.82" y2="862.23" class="md"/>
<line x1="506.95" y1="864.25" x2="506.95" y2="884.41" class="w"/><line x1="506.95" y1="913.17" x2="506.95" y2="918.28" class="w"/><line x1="506.05" y1="864.25" x2="507.85" y2="864.25" class="cap"/><line x1="506.05" y1="918.28" x2="507.85" y2="918.28" class="cap"/><rect x="505.12" y="884.41" width="3.65" height="28.76" fill="#00c800" class="bx"/><line x1="505.12" y1="902.42" x2="508.77" y2="902.42" class="md"/>
<line x1="513.1" y1="839.38" x2="513.1" y2="852.15" class="w"/><line x1="513.1" y1="878.63" x2="513.1" y2="892.47" class="w"/><line x1="512.2" y1="839.38" x2="514" y2="839.38" class="cap"/><line x1="512.2" y1="892.47" x2="514" y2="892.47" class="cap"/><rect x="511.28" y="852.15" width="3.65" height="26.48" fill="#ff0000" class="bx"/><line x1="511.28" y1="861.42" x2="514.93" y2="861.42" class="md"/>
<line x1="519.05" y1="859.14" x2="519.05" y2="889.65" class="w"/><line x1="519.05" y1="906.59" x2="519.05" y2="915.32" class="w"/><line x1="518.15" y1="859.14" x2="519.95" y2="859.14" class="cap"/><line x1="518.15" y1="915.32" x2="519.95" y2="915.32" class="cap"/><rect x="517.23" y="889.65" width="3.65" height="16.94" fill="#00c800" class="bx"/><line x1="517.23" y1="902.42" x2="520.88" y2="902.42" class="md"/>
<line x1="525.2" y1="823.25" x2="525.2" y2="848.79" class="w"/><line x1="525.2" y1="881.59" x2="525.2" y2="888.44" class="w"/><line x1="524.3" y1="823.25" x2="526.1" y2="823.25" class="cap"/><line x1="524.3" y1="888.44" x2="526.1" y2="888.44" class="cap"/><rect x="523.38" y="848.79" width="3.65" height="32.8" fill="#ff0000" class="bx"/><line x1="523.38" y1="855.11" x2="527.03" y2="855.11" class="md"/>
<line x1="531.15" y1="848.12" x2="531.15" y2="877.69" class="w"/><line x1="531.15" y1="897.85" x2="531.15" y2="910.22" class="w"/><line x1="530.25" y1="848.12" x2="532.05" y2="848.12" class="cap"/><line x1="530.25" y1="910.22" x2="532.05" y2="910.22" class="cap"/><rect x="529.33" y="877.69" width="3.65" height="20.16" fill="#00c800" class="bx"/><line x1="529.33" y1="896.37" x2="532.98" y2="896.37" class="md"/>
<line x1="537.3" y1="833.2" x2="537.3" y2="836.02" class="w"/><line x1="537.3" y1="876.34" x2="537.3" y2="888.44" class="w"/><line x1="536.4" y1="833.2" x2="538.2" y2="833.2" class="cap"/><line x1="536.4" y1="888.44" x2="538.2" y2="888.44" class="cap"/><rect x="535.47" y="836.02" width="3.65" height="40.32" fill="#ff0000" class="bx"/><line x1="535.47" y1="864.25" x2="539.12" y2="864.25" class="md"/>
<line x1="543.25" y1="856.45" x2="543.25" y2="881.32" class="w"/><line x1="543.25" y1="901.48" x2="543.25" y2="911.29" class="w"/><line x1="542.35" y1="856.45" x2="544.15" y2="856.45" class="cap"/><line x1="542.35" y1="911.29" x2="544.15" y2="911.29" class="cap"/><rect x="541.42" y="881.32" width="3.65" height="20.16" fill="#00c800" class="bx"/><line x1="541.42" y1="897.18" x2="545.08" y2="897.18" class="md"/>
<line x1="549.4" y1="825.54" x2="549.4" y2="831.85" class="w"/><line x1="549.4" y1="866.53" x2="549.4" y2="887.1" class="w"/><line x1="548.5" y1="825.54" x2="550.3" y2="825.54" class="cap"/><line x1="548.5" y1="887.1" x2="550.3" y2="887.1" class="cap"/><rect x="547.57" y="831.85" width="3.65" height="34.68" fill="#ff0000" class="bx"/><line x1="547.57" y1="852.42" x2="551.23" y2="852.42" class="md"/>
<line x1="555.35" y1="856.45" x2="555.35" y2="880.38" class="w"/><line x1="555.35" y1="900.13" x2="555.35" y2="912.23" class="w"/><line x1="554.45" y1="856.45" x2="556.25" y2="856.45" class="cap"/><line x1="554.45" y1="912.23" x2="556.25" y2="912.23" class="cap"/><rect x="553.52" y="880.38" width="3.65" height="19.76" fill="#00c800" class="bx"/><line x1="553.52" y1="896.37" x2="557.18" y2="896.37" class="md"/>
<line x1="561.5" y1="822.18" x2="561.5" y2="828.63" class="w"/><line x1="561.5" y1="873.66" x2="561.5" y2="887.37" class="w"/><line x1="560.6" y1="822.18" x2="562.4" y2="822.18" class="cap"/><line x1="560.6" y1="887.37" x2="562.4" y2="887.37" class="cap"/><rect x="559.67" y="828.63" width="3.65" height="45.03" fill="#ff0000" class="bx"/><line x1="559.67" y1="852.42" x2="563.33" y2="852.42" class="md"/>
<line x1="567.45" y1="862.23" x2="567.45" y2="880.65" class="w"/><line x1="567.45" y1="902.42" x2="567.45" y2="908.2" class="w"/><line x1="566.55" y1="862.23" x2="568.35" y2="862.23" class="cap"/><line x1="566.55" y1="908.2" x2="568.35" y2="908.2" class="cap"/><rect x="565.62" y="880.65" width="3.65" height="21.77" fill="#00c800" class="bx"/><line x1="565.62" y1="897.18" x2="569.28" y2="897.18" class="md"/>
<line x1="573.6" y1="823.25" x2="573.6" y2="831.32" class="w"/><line x1="573.6" y1="888.98" x2="573.6" y2="901.48" class="w"/><line x1="572.7" y1="823.25" x2="574.5" y2="823.25" class="cap"/><line x1="572.7" y1="901.48" x2="574.5" y2="901.48" class="cap"/><rect x="571.77" y="831.32" width="3.65" height="57.66" fill="#ff0000" class="bx"/><line x1="571.77" y1="844.35" x2="575.43" y2="844.35" class="md"/>
<line x1="579.55" y1="870.3" x2="579.55" y2="887.37" class="w"/><line x1="579.55" y1="904.84" x2="579.55" y2="918.55" class="w"/><line x1="578.65" y1="870.3" x2="580.45" y2="870.3" class="cap"/><line x1="578.65" y1="918.55" x2="580.45" y2="918.55" class="cap"/><rect x="577.73" y="887.37" width="3.65" height="17.47" fill="#00c800" class="bx"/><line x1="577.73" y1="899.46" x2="581.38" y2="899.46" class="md"/>
<line x1="585.7" y1="820.16" x2="585.7" y2="823.12" class="w"/><line x1="585.7" y1="887.37" x2="585.7" y2="900.4" class="w"/><line x1="584.8" y1="820.16" x2="586.6" y2="820.16" class="cap"/><line x1="584.8" y1="900.4" x2="586.6" y2="900.4" class="cap"/><rect x="583.87" y="823.12" width="3.65" height="64.25" fill="#ff0000" class="bx"/><line x1="583.87" y1="846.64" x2="587.52" y2="846.64" class="md"/>
<line x1="591.65" y1="872.31" x2="591.65" y2="878.36" class="w"/><line x1="591.65" y1="906.85" x2="591.65" y2="916.26" class="w"/><line x1="590.75" y1="872.31" x2="592.55" y2="872.31" class="cap"/><line x1="590.75" y1="916.26" x2="592.55" y2="916.26" class="cap"/><rect x="589.82" y="878.36" width="3.65" height="28.49" fill="#00c800" class="bx"/><line x1="589.82" y1="898.39" x2="593.48" y2="898.39" class="md"/>
<line x1="597.8" y1="823.25" x2="597.8" y2="837.23" class="w"/><line x1="597.8" y1="877.28" x2="597.8" y2="898.12" class="w"/><line x1="596.9" y1="823.25" x2="598.7" y2="823.25" class="cap"/><line x1="596.9" y1="898.12" x2="598.7" y2="898.12" class="cap"/><rect x="595.97" y="837.23" width="3.65" height="40.05" fill="#ff0000" class="bx"/><line x1="595.97" y1="872.58" x2="599.62" y2="872.58" class="md"/>
<line x1="603.75" y1="852.15" x2="603.75" y2="880.38" class="w"/><line x1="603.75" y1="895.03" x2="603.75" y2="907.53" class="w"/><line x1="602.85" y1="852.15" x2="604.65" y2="852.15" class="cap"/><line x1="602.85" y1="907.53" x2="604.65" y2="907.53" class="cap"/><rect x="601.92" y="880.38" width="3.65" height="14.65" fill="#00c800" class="bx"/><line x1="601.92" y1="889.78" x2="605.58" y2="889.78" class="md"/>
<line x1="609.9" y1="830.65" x2="609.9" y2="832.26" class="w"/><line x1="609.9" y1="881.32" x2="609.9" y2="896.37" class="w"/><line x1="609" y1="830.65" x2="610.8" y2="830.65" class="cap"/><line x1="609" y1="896.37" x2="610.8" y2="896.37" class="cap"/><rect x="608.07" y="832.26" width="3.65" height="49.06" fill="#ff0000" class="bx"/><line x1="608.07" y1="836.29" x2="611.73" y2="836.29" class="md"/>
<line x1="615.85" y1="860.22" x2="615.85" y2="873.92" class="w"/><line x1="615.85" y1="896.51" x2="615.85" y2="905.24" class="w"/><line x1="614.95" y1="860.22" x2="616.75" y2="860.22" class="cap"/><line x1="614.95" y1="905.24" x2="616.75" y2="905.24" class="cap"/><rect x="614.02" y="873.92" width="3.65" height="22.58" fill="#00c800" class="bx"/><line x1="614.02" y1="891.4" x2="617.68" y2="891.4" class="md"/>
<line x1="622" y1="884.41" x2="622" y2="886.69" class="w"/><line x1="622" y1="913.58" x2="622" y2="921.37" class="w"/><line x1="621.1" y1="884.41" x2="622.9" y2="884.41" class="cap"/><line x1="621.1" y1="921.37" x2="622.9" y2="921.37" class="cap"/><rect x="620.17" y="886.69" width="3.65" height="26.88" fill="#ff0000" class="bx"/><line x1="620.17" y1="899.46" x2="623.83" y2="899.46" class="md"/>
<line x1="627.95" y1="878.23" x2="627.95" y2="895.16" class="w"/><line x1="627.95" y1="909.95" x2="627.95" y2="917.34" class="w"/><line x1="627.05" y1="878.23" x2="628.85" y2="878.23" class="cap"/><line x1="627.05" y1="917.34" x2="628.85" y2="917.34" class="cap"/><rect x="626.12" y="895.16" width="3.65" height="14.78" fill="#00c800" class="bx"/><line x1="626.12" y1="906.45" x2="629.78" y2="906.45" class="md"/>
</svg>
</body></html>
